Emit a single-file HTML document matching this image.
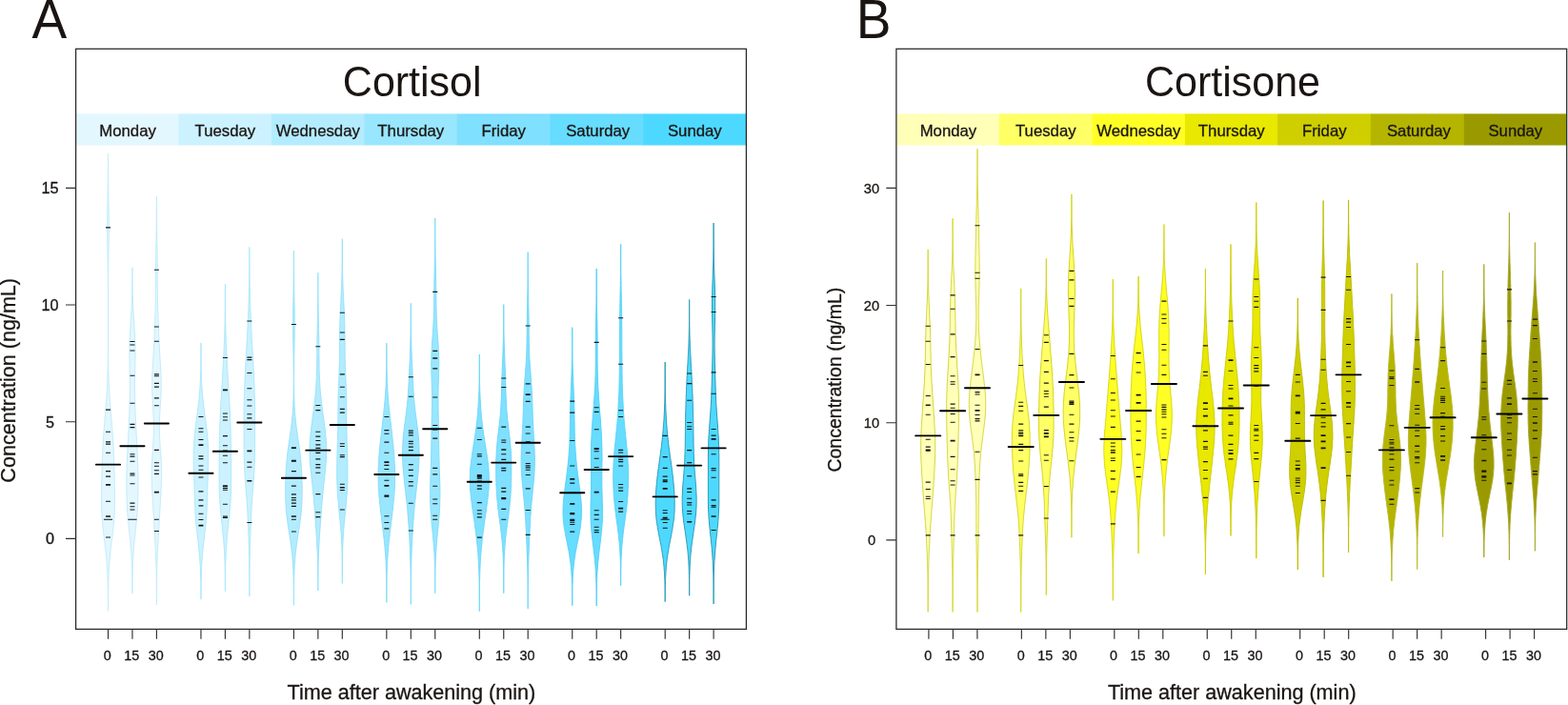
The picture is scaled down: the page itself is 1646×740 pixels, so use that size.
<!DOCTYPE html>
<html lang="en"><head><meta charset="utf-8"><title>Cortisol and cortisone beanplots</title>
<style>
html,body{margin:0;padding:0;background:#fff;}
body{width:1646px;height:740px;overflow:hidden;font-family:"Liberation Sans",sans-serif;}
svg{display:block;}
text.s{stroke:#1a1513;stroke-width:0.3px;}
</style></head><body>
<svg width="1646" height="740" viewBox="0 0 1646 740" font-family='"Liberation Sans", sans-serif' fill="#1a1513">
<rect x="80.2" y="119.4" width="107.4" height="33.1" fill="#E3F7FF"/>
<rect x="187.3" y="119.4" width="97.8" height="33.1" fill="#CCF2FF"/>
<rect x="284.8" y="119.4" width="97.7" height="33.1" fill="#B3ECFF"/>
<rect x="382.2" y="119.4" width="97.8" height="33.1" fill="#99E6FF"/>
<rect x="479.7" y="119.4" width="97.7" height="33.1" fill="#80E0FF"/>
<rect x="577.1" y="119.4" width="98.3" height="33.1" fill="#66DCFF"/>
<rect x="675.1" y="119.4" width="107.9" height="33.1" fill="#4DD9FF"/>
<polygon points="113.5,161.5 113.5,163.5 113.5,165.5 113.5,167.5 113.5,169.5 113.5,171.5 113.5,173.5 113.5,175.5 113.4,177.5 113.4,179.5 113.4,181.5 113.4,183.5 113.4,185.5 113.4,187.5 113.4,189.5 113.3,191.5 113.3,193.5 113.3,195.5 113.2,197.5 113.2,199.5 113.2,201.5 113.1,203.5 113.1,205.5 113.1,207.5 113.0,209.5 113.0,211.5 112.9,213.5 112.9,215.5 112.8,217.5 112.8,219.5 112.8,221.5 112.7,223.5 112.7,225.5 112.7,227.5 112.6,229.5 112.6,231.5 112.6,233.5 112.6,235.5 112.6,237.5 112.6,239.5 112.6,241.5 112.6,243.5 112.6,245.5 112.6,247.5 112.6,249.5 112.7,251.5 112.7,253.5 112.7,255.5 112.8,257.5 112.8,259.5 112.9,261.5 112.9,263.5 113.0,265.5 113.0,267.5 113.0,269.5 113.1,271.5 113.1,273.5 113.2,275.5 113.2,277.5 113.2,279.5 113.3,281.5 113.3,283.5 113.3,285.5 113.3,287.5 113.4,289.5 113.4,291.5 113.4,293.5 113.4,295.5 113.4,297.5 113.4,299.5 113.5,301.4 113.5,303.4 113.5,305.4 113.5,307.4 113.5,309.4 113.5,311.4 113.5,313.4 113.5,315.4 113.5,317.4 113.5,319.4 113.5,321.4 113.5,323.4 113.5,325.4 113.5,327.4 113.5,329.4 113.5,331.4 113.5,333.4 113.5,335.4 113.5,337.4 113.5,339.4 113.5,341.4 113.5,343.4 113.5,345.4 113.5,347.4 113.5,349.4 113.5,351.4 113.5,353.4 113.5,355.4 113.5,357.4 113.5,359.4 113.5,361.4 113.5,363.4 113.5,365.4 113.4,367.4 113.4,369.4 113.4,371.4 113.4,373.4 113.4,375.4 113.4,377.4 113.3,379.4 113.3,381.4 113.3,383.4 113.2,385.4 113.2,387.4 113.2,389.4 113.1,391.4 113.1,393.4 113.0,395.4 112.9,397.4 112.8,399.4 112.8,401.4 112.7,403.4 112.6,405.4 112.5,407.4 112.4,409.4 112.3,411.4 112.1,413.4 112.0,415.4 111.9,417.4 111.7,419.4 111.6,421.4 111.4,423.4 111.3,425.4 111.1,427.4 111.0,429.4 110.8,431.4 110.6,433.4 110.5,435.4 110.3,437.4 110.1,439.4 109.9,441.4 109.8,443.4 109.6,445.4 109.4,447.4 109.3,449.4 109.1,451.4 109.0,453.4 108.8,455.4 108.7,457.4 108.5,459.4 108.4,461.4 108.3,463.4 108.2,465.4 108.0,467.4 107.9,469.4 107.8,471.4 107.7,473.4 107.7,475.4 107.6,477.4 107.5,479.4 107.4,481.4 107.4,483.4 107.3,485.4 107.2,487.4 107.2,489.4 107.1,491.4 107.0,493.4 107.0,495.4 106.9,497.4 106.9,499.4 106.8,501.4 106.8,503.4 106.7,505.4 106.7,507.4 106.7,509.4 106.6,511.4 106.6,513.4 106.6,515.4 106.5,517.4 106.5,519.4 106.5,521.4 106.5,523.4 106.5,525.4 106.5,527.4 106.6,529.4 106.6,531.4 106.7,533.4 106.7,535.4 106.8,537.4 106.9,539.4 107.0,541.4 107.2,543.4 107.3,545.4 107.5,547.4 107.6,549.4 107.8,551.4 108.0,553.4 108.2,555.4 108.5,557.4 108.7,559.4 108.9,561.4 109.2,563.4 109.4,565.4 109.7,567.4 109.9,569.4 110.2,571.4 110.4,573.4 110.7,575.4 110.9,577.4 111.1,579.4 111.3,581.4 111.5,583.4 111.7,585.4 111.9,587.4 112.1,589.4 112.2,591.4 112.4,593.4 112.5,595.4 112.6,597.4 112.8,599.3 112.9,601.3 112.9,603.3 113.0,605.3 113.1,607.3 113.1,609.3 113.2,611.3 113.2,613.3 113.3,615.3 113.3,617.3 113.4,619.3 113.4,621.3 113.4,623.3 113.4,625.3 113.4,627.3 113.4,629.3 113.5,631.3 113.5,633.3 113.5,635.3 113.5,637.3 113.5,639.3 113.5,641.3 113.5,641.3 113.5,639.3 113.5,637.3 113.5,635.3 113.5,633.3 113.5,631.3 113.6,629.3 113.6,627.3 113.6,625.3 113.6,623.3 113.6,621.3 113.6,619.3 113.7,617.3 113.7,615.3 113.8,613.3 113.8,611.3 113.9,609.3 113.9,607.3 114.0,605.3 114.1,603.3 114.1,601.3 114.2,599.3 114.4,597.4 114.5,595.4 114.6,593.4 114.8,591.4 114.9,589.4 115.1,587.4 115.3,585.4 115.5,583.4 115.7,581.4 115.9,579.4 116.1,577.4 116.3,575.4 116.6,573.4 116.8,571.4 117.1,569.4 117.3,567.4 117.6,565.4 117.8,563.4 118.1,561.4 118.3,559.4 118.5,557.4 118.8,555.4 119.0,553.4 119.2,551.4 119.4,549.4 119.5,547.4 119.7,545.4 119.8,543.4 120.0,541.4 120.1,539.4 120.2,537.4 120.3,535.4 120.3,533.4 120.4,531.4 120.4,529.4 120.5,527.4 120.5,525.4 120.5,523.4 120.5,521.4 120.5,519.4 120.5,517.4 120.4,515.4 120.4,513.4 120.4,511.4 120.3,509.4 120.3,507.4 120.3,505.4 120.2,503.4 120.2,501.4 120.1,499.4 120.1,497.4 120.0,495.4 120.0,493.4 119.9,491.4 119.8,489.4 119.8,487.4 119.7,485.4 119.6,483.4 119.6,481.4 119.5,479.4 119.4,477.4 119.3,475.4 119.3,473.4 119.2,471.4 119.1,469.4 119.0,467.4 118.8,465.4 118.7,463.4 118.6,461.4 118.5,459.4 118.3,457.4 118.2,455.4 118.0,453.4 117.9,451.4 117.7,449.4 117.6,447.4 117.4,445.4 117.2,443.4 117.1,441.4 116.9,439.4 116.7,437.4 116.5,435.4 116.4,433.4 116.2,431.4 116.0,429.4 115.9,427.4 115.7,425.4 115.6,423.4 115.4,421.4 115.3,419.4 115.1,417.4 115.0,415.4 114.9,413.4 114.7,411.4 114.6,409.4 114.5,407.4 114.4,405.4 114.3,403.4 114.2,401.4 114.2,399.4 114.1,397.4 114.0,395.4 113.9,393.4 113.9,391.4 113.8,389.4 113.8,387.4 113.8,385.4 113.7,383.4 113.7,381.4 113.7,379.4 113.6,377.4 113.6,375.4 113.6,373.4 113.6,371.4 113.6,369.4 113.6,367.4 113.5,365.4 113.5,363.4 113.5,361.4 113.5,359.4 113.5,357.4 113.5,355.4 113.5,353.4 113.5,351.4 113.5,349.4 113.5,347.4 113.5,345.4 113.5,343.4 113.5,341.4 113.5,339.4 113.5,337.4 113.5,335.4 113.5,333.4 113.5,331.4 113.5,329.4 113.5,327.4 113.5,325.4 113.5,323.4 113.5,321.4 113.5,319.4 113.5,317.4 113.5,315.4 113.5,313.4 113.5,311.4 113.5,309.4 113.5,307.4 113.5,305.4 113.5,303.4 113.5,301.4 113.6,299.5 113.6,297.5 113.6,295.5 113.6,293.5 113.6,291.5 113.6,289.5 113.7,287.5 113.7,285.5 113.7,283.5 113.7,281.5 113.8,279.5 113.8,277.5 113.8,275.5 113.9,273.5 113.9,271.5 114.0,269.5 114.0,267.5 114.0,265.5 114.1,263.5 114.1,261.5 114.2,259.5 114.2,257.5 114.3,255.5 114.3,253.5 114.3,251.5 114.4,249.5 114.4,247.5 114.4,245.5 114.4,243.5 114.4,241.5 114.4,239.5 114.4,237.5 114.4,235.5 114.4,233.5 114.4,231.5 114.4,229.5 114.3,227.5 114.3,225.5 114.3,223.5 114.2,221.5 114.2,219.5 114.2,217.5 114.1,215.5 114.1,213.5 114.0,211.5 114.0,209.5 113.9,207.5 113.9,205.5 113.9,203.5 113.8,201.5 113.8,199.5 113.8,197.5 113.7,195.5 113.7,193.5 113.7,191.5 113.6,189.5 113.6,187.5 113.6,185.5 113.6,183.5 113.6,181.5 113.6,179.5 113.6,177.5 113.5,175.5 113.5,173.5 113.5,171.5 113.5,169.5 113.5,167.5 113.5,165.5 113.5,163.5 113.5,161.5" fill="#E3F7FF" stroke="#BFECFC" stroke-width="1" stroke-linejoin="round"/>
<polygon points="138.9,281.1 138.9,283.1 138.9,285.1 138.9,287.1 138.9,289.1 138.9,291.1 138.9,293.1 138.9,295.1 138.8,297.0 138.8,299.0 138.8,301.0 138.8,303.0 138.7,305.0 138.7,307.0 138.7,309.0 138.6,311.0 138.5,313.0 138.5,315.0 138.4,317.0 138.3,319.0 138.3,321.0 138.2,323.0 138.1,325.0 138.0,327.0 137.9,329.0 137.7,331.0 137.6,333.0 137.5,335.0 137.4,337.0 137.2,339.0 137.1,341.0 137.0,343.0 136.9,345.0 136.7,347.0 136.6,349.0 136.5,351.0 136.4,353.0 136.3,355.0 136.2,357.0 136.2,359.0 136.1,361.0 136.0,363.0 136.0,365.0 136.0,367.0 135.9,369.0 135.9,371.0 135.9,372.9 135.9,374.9 136.0,376.9 136.0,378.9 136.0,380.9 136.1,382.9 136.1,384.9 136.1,386.9 136.2,388.9 136.2,390.9 136.3,392.9 136.3,394.9 136.3,396.9 136.3,398.9 136.4,400.9 136.4,402.9 136.4,404.9 136.4,406.9 136.4,408.9 136.4,410.9 136.4,412.9 136.3,414.9 136.3,416.9 136.3,418.9 136.2,420.9 136.2,422.9 136.1,424.9 136.1,426.9 136.0,428.9 135.9,430.9 135.9,432.9 135.8,434.9 135.7,436.9 135.6,438.9 135.5,440.9 135.4,442.9 135.3,444.9 135.2,446.8 135.1,448.8 135.0,450.8 134.9,452.8 134.8,454.8 134.7,456.8 134.6,458.8 134.5,460.8 134.4,462.8 134.3,464.8 134.2,466.8 134.1,468.8 134.0,470.8 133.9,472.8 133.8,474.8 133.7,476.8 133.6,478.8 133.5,480.8 133.4,482.8 133.3,484.8 133.2,486.8 133.2,488.8 133.1,490.8 133.1,492.8 133.0,494.8 133.0,496.8 132.9,498.8 132.9,500.8 132.9,502.8 132.9,504.8 132.9,506.8 132.9,508.8 132.9,510.8 132.9,512.8 132.9,514.8 132.9,516.8 133.0,518.8 133.0,520.8 133.1,522.7 133.1,524.7 133.2,526.7 133.3,528.7 133.4,530.7 133.5,532.7 133.6,534.7 133.7,536.7 133.9,538.7 134.0,540.7 134.2,542.7 134.4,544.7 134.6,546.7 134.8,548.7 135.0,550.7 135.2,552.7 135.4,554.7 135.6,556.7 135.8,558.7 136.0,560.7 136.3,562.7 136.5,564.7 136.7,566.7 136.9,568.7 137.1,570.7 137.2,572.7 137.4,574.7 137.6,576.7 137.7,578.7 137.9,580.7 138.0,582.7 138.1,584.7 138.2,586.7 138.3,588.7 138.4,590.7 138.5,592.7 138.6,594.7 138.6,596.7 138.7,598.6 138.7,600.6 138.8,602.6 138.8,604.6 138.8,606.6 138.8,608.6 138.9,610.6 138.9,612.6 138.9,614.6 138.9,616.6 138.9,618.6 138.9,620.6 138.9,622.6 139.0,622.6 139.0,620.6 139.0,618.6 139.0,616.6 139.0,614.6 139.0,612.6 139.0,610.6 139.1,608.6 139.1,606.6 139.1,604.6 139.1,602.6 139.2,600.6 139.2,598.6 139.3,596.7 139.3,594.7 139.4,592.7 139.5,590.7 139.6,588.7 139.7,586.7 139.8,584.7 139.9,582.7 140.0,580.7 140.2,578.7 140.3,576.7 140.5,574.7 140.7,572.7 140.8,570.7 141.0,568.7 141.2,566.7 141.4,564.7 141.6,562.7 141.9,560.7 142.1,558.7 142.3,556.7 142.5,554.7 142.7,552.7 142.9,550.7 143.1,548.7 143.3,546.7 143.5,544.7 143.7,542.7 143.9,540.7 144.0,538.7 144.2,536.7 144.3,534.7 144.4,532.7 144.5,530.7 144.6,528.7 144.7,526.7 144.8,524.7 144.8,522.7 144.9,520.8 144.9,518.8 145.0,516.8 145.0,514.8 145.0,512.8 145.0,510.8 145.0,508.8 145.0,506.8 145.0,504.8 145.0,502.8 145.0,500.8 145.0,498.8 144.9,496.8 144.9,494.8 144.8,492.8 144.8,490.8 144.7,488.8 144.7,486.8 144.6,484.8 144.5,482.8 144.4,480.8 144.3,478.8 144.2,476.8 144.1,474.8 144.0,472.8 143.9,470.8 143.8,468.8 143.7,466.8 143.6,464.8 143.5,462.8 143.4,460.8 143.3,458.8 143.2,456.8 143.1,454.8 143.0,452.8 142.9,450.8 142.8,448.8 142.7,446.8 142.6,444.9 142.5,442.9 142.4,440.9 142.3,438.9 142.2,436.9 142.1,434.9 142.0,432.9 142.0,430.9 141.9,428.9 141.8,426.9 141.8,424.9 141.7,422.9 141.7,420.9 141.6,418.9 141.6,416.9 141.6,414.9 141.5,412.9 141.5,410.9 141.5,408.9 141.5,406.9 141.5,404.9 141.5,402.9 141.5,400.9 141.6,398.9 141.6,396.9 141.6,394.9 141.6,392.9 141.7,390.9 141.7,388.9 141.8,386.9 141.8,384.9 141.8,382.9 141.9,380.9 141.9,378.9 141.9,376.9 142.0,374.9 142.0,372.9 142.0,371.0 142.0,369.0 141.9,367.0 141.9,365.0 141.9,363.0 141.8,361.0 141.7,359.0 141.7,357.0 141.6,355.0 141.5,353.0 141.4,351.0 141.3,349.0 141.2,347.0 141.0,345.0 140.9,343.0 140.8,341.0 140.7,339.0 140.5,337.0 140.4,335.0 140.3,333.0 140.2,331.0 140.0,329.0 139.9,327.0 139.8,325.0 139.7,323.0 139.6,321.0 139.6,319.0 139.5,317.0 139.4,315.0 139.4,313.0 139.3,311.0 139.2,309.0 139.2,307.0 139.2,305.0 139.1,303.0 139.1,301.0 139.1,299.0 139.1,297.0 139.0,295.1 139.0,293.1 139.0,291.1 139.0,289.1 139.0,287.1 139.0,285.1 139.0,283.1 139.0,281.1" fill="#E3F7FF" stroke="#BFECFC" stroke-width="1" stroke-linejoin="round"/>
<polygon points="164.4,205.9 164.4,207.9 164.4,209.9 164.4,211.9 164.4,213.9 164.4,215.9 164.4,217.9 164.4,219.9 164.4,221.9 164.3,223.9 164.3,225.9 164.3,227.9 164.3,229.9 164.3,231.9 164.3,233.9 164.2,235.9 164.2,237.9 164.2,239.9 164.2,242.0 164.1,244.0 164.1,246.0 164.1,248.0 164.0,250.0 164.0,252.0 164.0,254.0 163.9,256.0 163.9,258.0 163.8,260.0 163.8,262.0 163.8,264.0 163.7,266.0 163.7,268.0 163.7,270.0 163.6,272.0 163.6,274.0 163.6,276.0 163.5,278.0 163.5,280.0 163.5,282.0 163.5,284.1 163.5,286.1 163.5,288.1 163.5,290.1 163.5,292.1 163.5,294.1 163.5,296.1 163.5,298.1 163.5,300.1 163.4,302.1 163.4,304.1 163.4,306.1 163.4,308.1 163.4,310.1 163.4,312.1 163.3,314.1 163.3,316.1 163.3,318.1 163.2,320.1 163.2,322.1 163.1,324.1 163.1,326.1 163.0,328.2 162.9,330.2 162.9,332.2 162.8,334.2 162.7,336.2 162.7,338.2 162.6,340.2 162.5,342.2 162.4,344.2 162.3,346.2 162.2,348.2 162.2,350.2 162.1,352.2 162.0,354.2 161.9,356.2 161.8,358.2 161.7,360.2 161.6,362.2 161.5,364.2 161.4,366.2 161.3,368.2 161.2,370.3 161.0,372.3 160.9,374.3 160.8,376.3 160.7,378.3 160.5,380.3 160.4,382.3 160.3,384.3 160.2,386.3 160.1,388.3 160.0,390.3 159.9,392.3 159.8,394.3 159.8,396.3 159.7,398.3 159.7,400.3 159.7,402.3 159.7,404.3 159.7,406.3 159.7,408.3 159.7,410.3 159.8,412.3 159.9,414.4 160.0,416.4 160.1,418.4 160.2,420.4 160.3,422.4 160.4,424.4 160.5,426.4 160.7,428.4 160.8,430.4 160.9,432.4 161.0,434.4 161.1,436.4 161.2,438.4 161.3,440.4 161.3,442.4 161.4,444.4 161.4,446.4 161.4,448.4 161.4,450.4 161.4,452.4 161.4,454.4 161.3,456.5 161.2,458.5 161.1,460.5 161.0,462.5 160.9,464.5 160.8,466.5 160.6,468.5 160.5,470.5 160.3,472.5 160.2,474.5 160.1,476.5 159.9,478.5 159.8,480.5 159.7,482.5 159.6,484.5 159.5,486.5 159.4,488.5 159.3,490.5 159.3,492.5 159.2,494.5 159.2,496.5 159.2,498.5 159.2,500.6 159.2,502.6 159.3,504.6 159.4,506.6 159.4,508.6 159.5,510.6 159.6,512.6 159.7,514.6 159.8,516.6 159.9,518.6 160.0,520.6 160.2,522.6 160.3,524.6 160.4,526.6 160.5,528.6 160.6,530.6 160.8,532.6 160.9,534.6 161.0,536.6 161.1,538.6 161.3,540.6 161.4,542.7 161.5,544.7 161.6,546.7 161.7,548.7 161.8,550.7 161.9,552.7 162.1,554.7 162.2,556.7 162.3,558.7 162.4,560.7 162.5,562.7 162.6,564.7 162.7,566.7 162.8,568.7 162.9,570.7 163.1,572.7 163.2,574.7 163.3,576.7 163.4,578.7 163.4,580.7 163.5,582.7 163.6,584.7 163.7,586.8 163.8,588.8 163.8,590.8 163.9,592.8 164.0,594.8 164.0,596.8 164.1,598.8 164.1,600.8 164.1,602.8 164.2,604.8 164.2,606.8 164.2,608.8 164.3,610.8 164.3,612.8 164.3,614.8 164.3,616.8 164.3,618.8 164.3,620.8 164.4,622.8 164.4,624.8 164.4,626.8 164.4,628.9 164.4,630.9 164.4,632.9 164.4,634.9 164.4,634.9 164.4,632.9 164.4,630.9 164.4,628.9 164.4,626.8 164.4,624.8 164.4,622.8 164.5,620.8 164.5,618.8 164.5,616.8 164.5,614.8 164.5,612.8 164.5,610.8 164.6,608.8 164.6,606.8 164.6,604.8 164.7,602.8 164.7,600.8 164.7,598.8 164.8,596.8 164.8,594.8 164.9,592.8 165.0,590.8 165.0,588.8 165.1,586.8 165.2,584.7 165.3,582.7 165.4,580.7 165.4,578.7 165.5,576.7 165.6,574.7 165.7,572.7 165.9,570.7 166.0,568.7 166.1,566.7 166.2,564.7 166.3,562.7 166.4,560.7 166.5,558.7 166.6,556.7 166.7,554.7 166.9,552.7 167.0,550.7 167.1,548.7 167.2,546.7 167.3,544.7 167.4,542.7 167.5,540.6 167.7,538.6 167.8,536.6 167.9,534.6 168.0,532.6 168.2,530.6 168.3,528.6 168.4,526.6 168.5,524.6 168.6,522.6 168.8,520.6 168.9,518.6 169.0,516.6 169.1,514.6 169.2,512.6 169.3,510.6 169.4,508.6 169.4,506.6 169.5,504.6 169.6,502.6 169.6,500.6 169.6,498.5 169.6,496.5 169.6,494.5 169.5,492.5 169.5,490.5 169.4,488.5 169.3,486.5 169.2,484.5 169.1,482.5 169.0,480.5 168.9,478.5 168.7,476.5 168.6,474.5 168.5,472.5 168.3,470.5 168.2,468.5 168.0,466.5 167.9,464.5 167.8,462.5 167.7,460.5 167.6,458.5 167.5,456.5 167.4,454.4 167.4,452.4 167.4,450.4 167.4,448.4 167.4,446.4 167.4,444.4 167.5,442.4 167.5,440.4 167.6,438.4 167.7,436.4 167.8,434.4 167.9,432.4 168.0,430.4 168.1,428.4 168.3,426.4 168.4,424.4 168.5,422.4 168.6,420.4 168.7,418.4 168.8,416.4 168.9,414.4 169.0,412.3 169.1,410.3 169.1,408.3 169.1,406.3 169.1,404.3 169.1,402.3 169.1,400.3 169.1,398.3 169.0,396.3 169.0,394.3 168.9,392.3 168.8,390.3 168.7,388.3 168.6,386.3 168.5,384.3 168.4,382.3 168.3,380.3 168.1,378.3 168.0,376.3 167.9,374.3 167.8,372.3 167.6,370.3 167.5,368.2 167.4,366.2 167.3,364.2 167.2,362.2 167.1,360.2 167.0,358.2 166.9,356.2 166.8,354.2 166.7,352.2 166.6,350.2 166.6,348.2 166.5,346.2 166.4,344.2 166.3,342.2 166.2,340.2 166.1,338.2 166.1,336.2 166.0,334.2 165.9,332.2 165.9,330.2 165.8,328.2 165.7,326.1 165.7,324.1 165.6,322.1 165.6,320.1 165.5,318.1 165.5,316.1 165.5,314.1 165.4,312.1 165.4,310.1 165.4,308.1 165.4,306.1 165.4,304.1 165.4,302.1 165.3,300.1 165.3,298.1 165.3,296.1 165.3,294.1 165.3,292.1 165.3,290.1 165.3,288.1 165.3,286.1 165.3,284.1 165.3,282.0 165.3,280.0 165.3,278.0 165.2,276.0 165.2,274.0 165.2,272.0 165.1,270.0 165.1,268.0 165.1,266.0 165.0,264.0 165.0,262.0 165.0,260.0 164.9,258.0 164.9,256.0 164.8,254.0 164.8,252.0 164.8,250.0 164.7,248.0 164.7,246.0 164.7,244.0 164.6,242.0 164.6,239.9 164.6,237.9 164.6,235.9 164.5,233.9 164.5,231.9 164.5,229.9 164.5,227.9 164.5,225.9 164.5,223.9 164.4,221.9 164.4,219.9 164.4,217.9 164.4,215.9 164.4,213.9 164.4,211.9 164.4,209.9 164.4,207.9 164.4,205.9" fill="#E3F7FF" stroke="#BFECFC" stroke-width="1" stroke-linejoin="round"/>
<polygon points="210.9,360.1 210.9,362.1 210.9,364.1 210.9,366.1 210.9,368.1 210.9,370.1 210.9,372.2 210.9,374.2 210.9,376.2 210.9,378.2 210.8,380.2 210.8,382.2 210.8,384.2 210.7,386.2 210.7,388.2 210.7,390.2 210.6,392.2 210.5,394.2 210.5,396.2 210.4,398.2 210.3,400.3 210.2,402.3 210.1,404.3 210.0,406.3 209.8,408.3 209.7,410.3 209.5,412.3 209.4,414.3 209.2,416.3 209.0,418.3 208.8,420.3 208.6,422.3 208.3,424.3 208.1,426.3 207.8,428.4 207.6,430.4 207.3,432.4 207.1,434.4 206.8,436.4 206.5,438.4 206.2,440.4 206.0,442.4 205.7,444.4 205.5,446.4 205.2,448.4 205.0,450.4 204.7,452.4 204.5,454.5 204.3,456.5 204.1,458.5 204.0,460.5 203.8,462.5 203.7,464.5 203.6,466.5 203.5,468.5 203.4,470.5 203.3,472.5 203.3,474.5 203.2,476.5 203.2,478.5 203.2,480.5 203.3,482.6 203.3,484.6 203.3,486.6 203.4,488.6 203.4,490.6 203.5,492.6 203.5,494.6 203.6,496.6 203.7,498.6 203.7,500.6 203.8,502.6 203.9,504.6 203.9,506.6 204.0,508.6 204.1,510.7 204.1,512.7 204.2,514.7 204.2,516.7 204.3,518.7 204.3,520.7 204.4,522.7 204.4,524.7 204.5,526.7 204.6,528.7 204.6,530.7 204.7,532.7 204.8,534.7 204.9,536.8 205.0,538.8 205.2,540.8 205.3,542.8 205.5,544.8 205.6,546.8 205.8,548.8 206.0,550.8 206.2,552.8 206.4,554.8 206.6,556.8 206.9,558.8 207.1,560.8 207.3,562.8 207.6,564.9 207.8,566.9 208.0,568.9 208.3,570.9 208.5,572.9 208.7,574.9 208.9,576.9 209.1,578.9 209.3,580.9 209.5,582.9 209.6,584.9 209.8,586.9 209.9,588.9 210.0,590.9 210.2,593.0 210.3,595.0 210.4,597.0 210.4,599.0 210.5,601.0 210.6,603.0 210.6,605.0 210.7,607.0 210.7,609.0 210.8,611.0 210.8,613.0 210.8,615.0 210.9,617.0 210.9,619.1 210.9,621.1 210.9,623.1 210.9,625.1 210.9,627.1 210.9,629.1 211.0,629.1 211.0,627.1 211.0,625.1 211.0,623.1 211.0,621.1 211.0,619.1 211.0,617.0 211.1,615.0 211.1,613.0 211.1,611.0 211.2,609.0 211.2,607.0 211.3,605.0 211.3,603.0 211.4,601.0 211.5,599.0 211.5,597.0 211.6,595.0 211.7,593.0 211.9,590.9 212.0,588.9 212.1,586.9 212.3,584.9 212.4,582.9 212.6,580.9 212.8,578.9 213.0,576.9 213.2,574.9 213.4,572.9 213.6,570.9 213.9,568.9 214.1,566.9 214.3,564.9 214.6,562.8 214.8,560.8 215.0,558.8 215.3,556.8 215.5,554.8 215.7,552.8 215.9,550.8 216.1,548.8 216.3,546.8 216.4,544.8 216.6,542.8 216.7,540.8 216.9,538.8 217.0,536.8 217.1,534.7 217.2,532.7 217.3,530.7 217.3,528.7 217.4,526.7 217.5,524.7 217.5,522.7 217.6,520.7 217.6,518.7 217.7,516.7 217.7,514.7 217.8,512.7 217.8,510.7 217.9,508.6 218.0,506.6 218.0,504.6 218.1,502.6 218.2,500.6 218.2,498.6 218.3,496.6 218.4,494.6 218.4,492.6 218.5,490.6 218.5,488.6 218.6,486.6 218.6,484.6 218.6,482.6 218.7,480.5 218.7,478.5 218.7,476.5 218.6,474.5 218.6,472.5 218.5,470.5 218.4,468.5 218.3,466.5 218.2,464.5 218.1,462.5 217.9,460.5 217.8,458.5 217.6,456.5 217.4,454.5 217.2,452.4 216.9,450.4 216.7,448.4 216.4,446.4 216.2,444.4 215.9,442.4 215.7,440.4 215.4,438.4 215.1,436.4 214.8,434.4 214.6,432.4 214.3,430.4 214.1,428.4 213.8,426.3 213.6,424.3 213.3,422.3 213.1,420.3 212.9,418.3 212.7,416.3 212.5,414.3 212.4,412.3 212.2,410.3 212.1,408.3 211.9,406.3 211.8,404.3 211.7,402.3 211.6,400.3 211.5,398.2 211.4,396.2 211.4,394.2 211.3,392.2 211.2,390.2 211.2,388.2 211.2,386.2 211.1,384.2 211.1,382.2 211.1,380.2 211.0,378.2 211.0,376.2 211.0,374.2 211.0,372.2 211.0,370.1 211.0,368.1 211.0,366.1 211.0,364.1 211.0,362.1 211.0,360.1" fill="#CCF2FF" stroke="#ACE8FC" stroke-width="1" stroke-linejoin="round"/>
<polygon points="236.4,298.2 236.4,300.2 236.4,302.2 236.4,304.2 236.4,306.2 236.4,308.2 236.4,310.2 236.4,312.2 236.3,314.2 236.3,316.2 236.3,318.2 236.3,320.2 236.3,322.2 236.3,324.2 236.3,326.2 236.2,328.2 236.2,330.2 236.2,332.2 236.1,334.2 236.1,336.2 236.1,338.2 236.0,340.2 236.0,342.3 235.9,344.3 235.9,346.3 235.8,348.3 235.8,350.3 235.7,352.3 235.6,354.3 235.6,356.3 235.5,358.3 235.4,360.3 235.3,362.3 235.2,364.3 235.2,366.3 235.1,368.3 235.0,370.3 234.9,372.3 234.8,374.3 234.7,376.3 234.6,378.3 234.5,380.3 234.4,382.3 234.3,384.3 234.1,386.3 234.0,388.3 233.9,390.3 233.8,392.3 233.7,394.3 233.6,396.4 233.4,398.4 233.3,400.4 233.2,402.4 233.1,404.4 232.9,406.4 232.8,408.4 232.7,410.4 232.6,412.4 232.4,414.4 232.3,416.4 232.2,418.4 232.1,420.4 231.9,422.4 231.8,424.4 231.7,426.4 231.6,428.4 231.5,430.4 231.4,432.4 231.3,434.4 231.2,436.4 231.1,438.4 231.1,440.4 231.0,442.4 230.9,444.4 230.8,446.4 230.8,448.4 230.7,450.5 230.7,452.5 230.6,454.5 230.6,456.5 230.5,458.5 230.5,460.5 230.4,462.5 230.4,464.5 230.4,466.5 230.3,468.5 230.3,470.5 230.3,472.5 230.3,474.5 230.2,476.5 230.2,478.5 230.2,480.5 230.2,482.5 230.1,484.5 230.1,486.5 230.1,488.5 230.1,490.5 230.1,492.5 230.1,494.5 230.1,496.5 230.1,498.5 230.0,500.5 230.1,502.5 230.1,504.6 230.1,506.6 230.1,508.6 230.1,510.6 230.2,512.6 230.3,514.6 230.3,516.6 230.4,518.6 230.5,520.6 230.6,522.6 230.7,524.6 230.8,526.6 231.0,528.6 231.1,530.6 231.3,532.6 231.5,534.6 231.7,536.6 231.8,538.6 232.0,540.6 232.3,542.6 232.5,544.6 232.7,546.6 232.9,548.6 233.1,550.6 233.3,552.6 233.5,554.6 233.7,556.6 233.9,558.7 234.1,560.7 234.3,562.7 234.5,564.7 234.7,566.7 234.8,568.7 235.0,570.7 235.1,572.7 235.3,574.7 235.4,576.7 235.5,578.7 235.6,580.7 235.7,582.7 235.8,584.7 235.9,586.7 236.0,588.7 236.0,590.7 236.1,592.7 236.1,594.7 236.2,596.7 236.2,598.7 236.2,600.7 236.3,602.7 236.3,604.7 236.3,606.7 236.3,608.7 236.3,610.7 236.4,612.8 236.4,614.8 236.4,616.8 236.4,618.8 236.4,620.8 236.4,620.8 236.4,618.8 236.4,616.8 236.4,614.8 236.4,612.8 236.5,610.7 236.5,608.7 236.5,606.7 236.5,604.7 236.5,602.7 236.6,600.7 236.6,598.7 236.6,596.7 236.7,594.7 236.7,592.7 236.8,590.7 236.8,588.7 236.9,586.7 237.0,584.7 237.1,582.7 237.2,580.7 237.3,578.7 237.4,576.7 237.5,574.7 237.7,572.7 237.8,570.7 238.0,568.7 238.1,566.7 238.3,564.7 238.5,562.7 238.7,560.7 238.9,558.7 239.1,556.6 239.3,554.6 239.5,552.6 239.7,550.6 239.9,548.6 240.1,546.6 240.3,544.6 240.5,542.6 240.8,540.6 241.0,538.6 241.1,536.6 241.3,534.6 241.5,532.6 241.7,530.6 241.8,528.6 242.0,526.6 242.1,524.6 242.2,522.6 242.3,520.6 242.4,518.6 242.5,516.6 242.5,514.6 242.6,512.6 242.7,510.6 242.7,508.6 242.7,506.6 242.7,504.6 242.7,502.5 242.7,500.5 242.7,498.5 242.7,496.5 242.7,494.5 242.7,492.5 242.7,490.5 242.7,488.5 242.7,486.5 242.7,484.5 242.6,482.5 242.6,480.5 242.6,478.5 242.6,476.5 242.5,474.5 242.5,472.5 242.5,470.5 242.5,468.5 242.4,466.5 242.4,464.5 242.4,462.5 242.3,460.5 242.3,458.5 242.2,456.5 242.2,454.5 242.1,452.5 242.1,450.5 242.0,448.4 242.0,446.4 241.9,444.4 241.8,442.4 241.7,440.4 241.7,438.4 241.6,436.4 241.5,434.4 241.4,432.4 241.3,430.4 241.2,428.4 241.1,426.4 241.0,424.4 240.9,422.4 240.7,420.4 240.6,418.4 240.5,416.4 240.4,414.4 240.2,412.4 240.1,410.4 240.0,408.4 239.9,406.4 239.7,404.4 239.6,402.4 239.5,400.4 239.4,398.4 239.2,396.4 239.1,394.3 239.0,392.3 238.9,390.3 238.8,388.3 238.7,386.3 238.5,384.3 238.4,382.3 238.3,380.3 238.2,378.3 238.1,376.3 238.0,374.3 237.9,372.3 237.8,370.3 237.7,368.3 237.6,366.3 237.6,364.3 237.5,362.3 237.4,360.3 237.3,358.3 237.2,356.3 237.2,354.3 237.1,352.3 237.0,350.3 237.0,348.3 236.9,346.3 236.9,344.3 236.8,342.3 236.8,340.2 236.7,338.2 236.7,336.2 236.7,334.2 236.6,332.2 236.6,330.2 236.6,328.2 236.5,326.2 236.5,324.2 236.5,322.2 236.5,320.2 236.5,318.2 236.5,316.2 236.5,314.2 236.4,312.2 236.4,310.2 236.4,308.2 236.4,306.2 236.4,304.2 236.4,302.2 236.4,300.2 236.4,298.2" fill="#CCF2FF" stroke="#ACE8FC" stroke-width="1" stroke-linejoin="round"/>
<polygon points="261.8,259.6 261.8,261.6 261.8,263.6 261.8,265.6 261.8,267.6 261.8,269.6 261.8,271.6 261.8,273.6 261.8,275.6 261.8,277.6 261.8,279.6 261.8,281.6 261.7,283.6 261.7,285.6 261.7,287.6 261.7,289.6 261.7,291.6 261.6,293.6 261.6,295.6 261.6,297.6 261.5,299.6 261.5,301.6 261.4,303.6 261.4,305.6 261.3,307.6 261.3,309.6 261.2,311.6 261.2,313.6 261.1,315.6 261.0,317.6 261.0,319.6 260.9,321.6 260.8,323.6 260.8,325.6 260.7,327.6 260.6,329.6 260.5,331.6 260.4,333.6 260.4,335.6 260.3,337.6 260.2,339.6 260.1,341.6 260.0,343.6 259.9,345.6 259.8,347.6 259.7,349.6 259.6,351.6 259.5,353.6 259.4,355.6 259.3,357.7 259.2,359.7 259.0,361.7 258.9,363.7 258.8,365.7 258.7,367.7 258.6,369.7 258.5,371.7 258.3,373.7 258.2,375.7 258.1,377.7 258.0,379.7 257.9,381.7 257.8,383.7 257.7,385.7 257.6,387.7 257.5,389.7 257.4,391.7 257.3,393.7 257.2,395.7 257.1,397.7 257.0,399.7 256.9,401.7 256.8,403.7 256.8,405.7 256.7,407.7 256.6,409.7 256.5,411.7 256.5,413.7 256.4,415.7 256.4,417.7 256.3,419.7 256.3,421.7 256.2,423.7 256.2,425.7 256.2,427.7 256.1,429.7 256.1,431.7 256.1,433.7 256.1,435.7 256.1,437.7 256.1,439.7 256.1,441.7 256.1,443.7 256.1,445.7 256.1,447.7 256.1,449.7 256.2,451.7 256.2,453.7 256.2,455.7 256.2,457.7 256.2,459.7 256.2,461.7 256.2,463.7 256.2,465.7 256.2,467.7 256.2,469.7 256.2,471.7 256.2,473.7 256.2,475.7 256.2,477.7 256.3,479.7 256.3,481.7 256.4,483.7 256.4,485.7 256.5,487.7 256.6,489.7 256.7,491.8 256.8,493.8 256.9,495.8 257.0,497.8 257.1,499.8 257.3,501.8 257.4,503.8 257.6,505.8 257.7,507.8 257.9,509.8 258.0,511.8 258.2,513.8 258.4,515.8 258.5,517.8 258.7,519.8 258.9,521.8 259.0,523.8 259.2,525.8 259.3,527.8 259.4,529.8 259.6,531.8 259.7,533.8 259.8,535.8 259.9,537.8 260.0,539.8 260.1,541.8 260.2,543.8 260.3,545.8 260.4,547.8 260.5,549.8 260.5,551.8 260.6,553.8 260.7,555.8 260.8,557.8 260.8,559.8 260.9,561.8 261.0,563.8 261.0,565.8 261.1,567.8 261.1,569.8 261.2,571.8 261.3,573.8 261.3,575.8 261.4,577.8 261.4,579.8 261.4,581.8 261.5,583.8 261.5,585.8 261.6,587.8 261.6,589.8 261.6,591.8 261.7,593.8 261.7,595.8 261.7,597.8 261.7,599.8 261.7,601.8 261.8,603.8 261.8,605.8 261.8,607.8 261.8,609.8 261.8,611.8 261.8,613.8 261.8,615.8 261.8,617.8 261.8,619.8 261.8,621.8 261.8,623.9 261.8,625.9 261.9,625.9 261.9,623.9 261.9,621.8 261.9,619.8 261.9,617.8 261.9,615.8 261.9,613.8 261.9,611.8 261.9,609.8 261.9,607.8 261.9,605.8 261.9,603.8 262.0,601.8 262.0,599.8 262.0,597.8 262.0,595.8 262.0,593.8 262.1,591.8 262.1,589.8 262.1,587.8 262.2,585.8 262.2,583.8 262.3,581.8 262.3,579.8 262.3,577.8 262.4,575.8 262.4,573.8 262.5,571.8 262.6,569.8 262.6,567.8 262.7,565.8 262.7,563.8 262.8,561.8 262.9,559.8 262.9,557.8 263.0,555.8 263.1,553.8 263.2,551.8 263.2,549.8 263.3,547.8 263.4,545.8 263.5,543.8 263.6,541.8 263.7,539.8 263.8,537.8 263.9,535.8 264.0,533.8 264.1,531.8 264.3,529.8 264.4,527.8 264.5,525.8 264.7,523.8 264.8,521.8 265.0,519.8 265.2,517.8 265.3,515.8 265.5,513.8 265.7,511.8 265.8,509.8 266.0,507.8 266.1,505.8 266.3,503.8 266.4,501.8 266.6,499.8 266.7,497.8 266.8,495.8 266.9,493.8 267.0,491.8 267.1,489.7 267.2,487.7 267.3,485.7 267.3,483.7 267.4,481.7 267.4,479.7 267.5,477.7 267.5,475.7 267.5,473.7 267.5,471.7 267.5,469.7 267.5,467.7 267.5,465.7 267.5,463.7 267.5,461.7 267.5,459.7 267.5,457.7 267.5,455.7 267.5,453.7 267.5,451.7 267.6,449.7 267.6,447.7 267.6,445.7 267.6,443.7 267.6,441.7 267.6,439.7 267.6,437.7 267.6,435.7 267.6,433.7 267.6,431.7 267.6,429.7 267.5,427.7 267.5,425.7 267.5,423.7 267.4,421.7 267.4,419.7 267.3,417.7 267.3,415.7 267.2,413.7 267.2,411.7 267.1,409.7 267.0,407.7 266.9,405.7 266.9,403.7 266.8,401.7 266.7,399.7 266.6,397.7 266.5,395.7 266.4,393.7 266.3,391.7 266.2,389.7 266.1,387.7 266.0,385.7 265.9,383.7 265.8,381.7 265.7,379.7 265.6,377.7 265.5,375.7 265.4,373.7 265.2,371.7 265.1,369.7 265.0,367.7 264.9,365.7 264.8,363.7 264.7,361.7 264.5,359.7 264.4,357.7 264.3,355.6 264.2,353.6 264.1,351.6 264.0,349.6 263.9,347.6 263.8,345.6 263.7,343.6 263.6,341.6 263.5,339.6 263.4,337.6 263.3,335.6 263.3,333.6 263.2,331.6 263.1,329.6 263.0,327.6 262.9,325.6 262.9,323.6 262.8,321.6 262.7,319.6 262.7,317.6 262.6,315.6 262.5,313.6 262.5,311.6 262.4,309.6 262.4,307.6 262.3,305.6 262.3,303.6 262.2,301.6 262.2,299.6 262.1,297.6 262.1,295.6 262.1,293.6 262.0,291.6 262.0,289.6 262.0,287.6 262.0,285.6 262.0,283.6 261.9,281.6 261.9,279.6 261.9,277.6 261.9,275.6 261.9,273.6 261.9,271.6 261.9,269.6 261.9,267.6 261.9,265.6 261.9,263.6 261.9,261.6 261.9,259.6" fill="#CCF2FF" stroke="#ACE8FC" stroke-width="1" stroke-linejoin="round"/>
<polygon points="308.4,263.0 308.4,265.0 308.4,267.0 308.4,269.0 308.4,271.0 308.4,273.1 308.4,275.1 308.4,277.1 308.4,279.1 308.3,281.1 308.3,283.1 308.3,285.1 308.3,287.1 308.3,289.1 308.3,291.1 308.2,293.1 308.2,295.1 308.2,297.1 308.2,299.1 308.1,301.1 308.1,303.1 308.1,305.1 308.0,307.1 308.0,309.1 308.0,311.1 307.9,313.1 307.9,315.1 307.9,317.1 307.8,319.1 307.8,321.1 307.7,323.1 307.7,325.1 307.7,327.1 307.6,329.1 307.6,331.1 307.6,333.1 307.6,335.1 307.6,337.1 307.6,339.1 307.6,341.1 307.6,343.1 307.6,345.1 307.6,347.1 307.6,349.1 307.6,351.1 307.7,353.1 307.7,355.1 307.7,357.1 307.8,359.1 307.8,361.1 307.8,363.1 307.9,365.1 307.9,367.1 308.0,369.1 308.0,371.1 308.0,373.1 308.1,375.1 308.1,377.1 308.1,379.1 308.2,381.1 308.2,383.1 308.2,385.1 308.2,387.1 308.2,389.1 308.3,391.1 308.3,393.1 308.3,395.1 308.3,397.1 308.3,399.1 308.3,401.1 308.3,403.2 308.3,405.2 308.2,407.2 308.2,409.2 308.2,411.2 308.2,413.2 308.1,415.2 308.1,417.2 308.0,419.2 307.9,421.2 307.8,423.2 307.8,425.2 307.6,427.2 307.5,429.2 307.4,431.2 307.3,433.2 307.1,435.2 306.9,437.2 306.7,439.2 306.5,441.2 306.3,443.2 306.1,445.2 305.8,447.2 305.6,449.2 305.3,451.2 305.0,453.2 304.7,455.2 304.4,457.2 304.2,459.2 303.9,461.2 303.6,463.2 303.3,465.2 303.0,467.2 302.7,469.2 302.4,471.2 302.2,473.2 301.9,475.2 301.7,477.2 301.5,479.2 301.3,481.2 301.1,483.2 300.9,485.2 300.7,487.2 300.6,489.2 300.5,491.2 300.3,493.2 300.2,495.2 300.1,497.2 300.0,499.2 300.0,501.2 299.9,503.2 299.8,505.2 299.8,507.2 299.7,509.2 299.7,511.2 299.7,513.2 299.7,515.2 299.7,517.2 299.7,519.2 299.7,521.2 299.7,523.2 299.8,525.2 299.9,527.2 300.0,529.2 300.1,531.2 300.2,533.2 300.4,535.3 300.6,537.3 300.8,539.3 301.0,541.3 301.2,543.3 301.5,545.3 301.8,547.3 302.0,549.3 302.3,551.3 302.6,553.3 302.9,555.3 303.3,557.3 303.6,559.3 303.9,561.3 304.2,563.3 304.5,565.3 304.8,567.3 305.1,569.3 305.4,571.3 305.6,573.3 305.9,575.3 306.1,577.3 306.4,579.3 306.6,581.3 306.8,583.3 307.0,585.3 307.1,587.3 307.3,589.3 307.4,591.3 307.6,593.3 307.7,595.3 307.8,597.3 307.9,599.3 307.9,601.3 308.0,603.3 308.1,605.3 308.1,607.3 308.2,609.3 308.2,611.3 308.2,613.3 308.3,615.3 308.3,617.3 308.3,619.3 308.3,621.3 308.3,623.3 308.4,625.3 308.4,627.3 308.4,629.3 308.4,631.3 308.4,633.3 308.4,635.3 308.4,635.3 308.4,633.3 308.4,631.3 308.4,629.3 308.4,627.3 308.4,625.3 308.5,623.3 308.5,621.3 308.5,619.3 308.5,617.3 308.5,615.3 308.6,613.3 308.6,611.3 308.6,609.3 308.7,607.3 308.7,605.3 308.8,603.3 308.9,601.3 308.9,599.3 309.0,597.3 309.1,595.3 309.2,593.3 309.4,591.3 309.5,589.3 309.7,587.3 309.8,585.3 310.0,583.3 310.2,581.3 310.4,579.3 310.7,577.3 310.9,575.3 311.2,573.3 311.4,571.3 311.7,569.3 312.0,567.3 312.3,565.3 312.6,563.3 312.9,561.3 313.2,559.3 313.5,557.3 313.9,555.3 314.2,553.3 314.5,551.3 314.8,549.3 315.0,547.3 315.3,545.3 315.6,543.3 315.8,541.3 316.0,539.3 316.2,537.3 316.4,535.3 316.6,533.2 316.7,531.2 316.8,529.2 316.9,527.2 317.0,525.2 317.1,523.2 317.1,521.2 317.1,519.2 317.1,517.2 317.1,515.2 317.1,513.2 317.1,511.2 317.1,509.2 317.0,507.2 317.0,505.2 316.9,503.2 316.8,501.2 316.8,499.2 316.7,497.2 316.6,495.2 316.5,493.2 316.3,491.2 316.2,489.2 316.1,487.2 315.9,485.2 315.7,483.2 315.5,481.2 315.3,479.2 315.1,477.2 314.9,475.2 314.6,473.2 314.4,471.2 314.1,469.2 313.8,467.2 313.5,465.2 313.2,463.2 312.9,461.2 312.6,459.2 312.4,457.2 312.1,455.2 311.8,453.2 311.5,451.2 311.2,449.2 311.0,447.2 310.7,445.2 310.5,443.2 310.3,441.2 310.1,439.2 309.9,437.2 309.7,435.2 309.5,433.2 309.4,431.2 309.3,429.2 309.2,427.2 309.0,425.2 309.0,423.2 308.9,421.2 308.8,419.2 308.7,417.2 308.7,415.2 308.6,413.2 308.6,411.2 308.6,409.2 308.6,407.2 308.5,405.2 308.5,403.2 308.5,401.1 308.5,399.1 308.5,397.1 308.5,395.1 308.5,393.1 308.5,391.1 308.6,389.1 308.6,387.1 308.6,385.1 308.6,383.1 308.6,381.1 308.7,379.1 308.7,377.1 308.7,375.1 308.8,373.1 308.8,371.1 308.8,369.1 308.9,367.1 308.9,365.1 309.0,363.1 309.0,361.1 309.0,359.1 309.1,357.1 309.1,355.1 309.1,353.1 309.2,351.1 309.2,349.1 309.2,347.1 309.2,345.1 309.2,343.1 309.2,341.1 309.2,339.1 309.2,337.1 309.2,335.1 309.2,333.1 309.2,331.1 309.2,329.1 309.1,327.1 309.1,325.1 309.1,323.1 309.0,321.1 309.0,319.1 308.9,317.1 308.9,315.1 308.9,313.1 308.8,311.1 308.8,309.1 308.8,307.1 308.7,305.1 308.7,303.1 308.7,301.1 308.6,299.1 308.6,297.1 308.6,295.1 308.6,293.1 308.5,291.1 308.5,289.1 308.5,287.1 308.5,285.1 308.5,283.1 308.5,281.1 308.4,279.1 308.4,277.1 308.4,275.1 308.4,273.1 308.4,271.0 308.4,269.0 308.4,267.0 308.4,265.0 308.4,263.0" fill="#B3ECFF" stroke="#97E3FB" stroke-width="1" stroke-linejoin="round"/>
<polygon points="333.8,286.4 333.8,288.4 333.8,290.4 333.8,292.4 333.8,294.4 333.8,296.4 333.8,298.4 333.8,300.4 333.8,302.4 333.8,304.4 333.8,306.4 333.8,308.4 333.7,310.4 333.7,312.4 333.7,314.4 333.7,316.4 333.7,318.4 333.6,320.4 333.6,322.4 333.6,324.4 333.5,326.3 333.5,328.3 333.4,330.3 333.4,332.3 333.4,334.3 333.3,336.3 333.3,338.3 333.2,340.3 333.2,342.3 333.1,344.3 333.1,346.3 333.1,348.3 333.0,350.3 333.0,352.3 332.9,354.3 332.9,356.3 332.9,358.3 332.9,360.3 332.8,362.3 332.8,364.3 332.8,366.3 332.8,368.3 332.8,370.3 332.8,372.3 332.8,374.3 332.7,376.3 332.7,378.3 332.7,380.3 332.7,382.3 332.7,384.3 332.6,386.3 332.6,388.3 332.5,390.3 332.5,392.3 332.4,394.3 332.3,396.3 332.2,398.3 332.1,400.3 332.0,402.3 331.9,404.3 331.8,406.3 331.6,408.3 331.5,410.3 331.3,412.3 331.1,414.3 330.9,416.3 330.7,418.3 330.5,420.3 330.3,422.3 330.0,424.3 329.8,426.3 329.5,428.3 329.3,430.3 329.0,432.2 328.7,434.2 328.5,436.2 328.2,438.2 327.9,440.2 327.7,442.2 327.4,444.2 327.1,446.2 326.9,448.2 326.6,450.2 326.4,452.2 326.2,454.2 326.0,456.2 325.8,458.2 325.6,460.2 325.5,462.2 325.3,464.2 325.2,466.2 325.1,468.2 325.1,470.2 325.1,472.2 325.1,474.2 325.1,476.2 325.1,478.2 325.2,480.2 325.3,482.2 325.4,484.2 325.6,486.2 325.7,488.2 325.9,490.2 326.1,492.2 326.3,494.2 326.5,496.2 326.7,498.2 327.0,500.2 327.2,502.2 327.4,504.2 327.6,506.2 327.9,508.2 328.1,510.2 328.3,512.2 328.5,514.2 328.7,516.2 328.9,518.2 329.1,520.2 329.3,522.2 329.4,524.2 329.6,526.2 329.8,528.2 329.9,530.2 330.1,532.2 330.2,534.2 330.4,536.2 330.5,538.2 330.7,540.1 330.8,542.1 331.0,544.1 331.1,546.1 331.3,548.1 331.4,550.1 331.5,552.1 331.7,554.1 331.8,556.1 332.0,558.1 332.1,560.1 332.2,562.1 332.4,564.1 332.5,566.1 332.6,568.1 332.7,570.1 332.8,572.1 332.9,574.1 333.0,576.1 333.1,578.1 333.2,580.1 333.3,582.1 333.4,584.1 333.4,586.1 333.5,588.1 333.5,590.1 333.6,592.1 333.6,594.1 333.7,596.1 333.7,598.1 333.7,600.1 333.7,602.1 333.8,604.1 333.8,606.1 333.8,608.1 333.8,610.1 333.8,612.1 333.8,614.1 333.8,616.1 333.8,618.1 333.8,620.1 333.9,620.1 333.9,618.1 333.9,616.1 333.9,614.1 333.9,612.1 333.9,610.1 333.9,608.1 333.9,606.1 333.9,604.1 334.0,602.1 334.0,600.1 334.0,598.1 334.0,596.1 334.1,594.1 334.1,592.1 334.2,590.1 334.2,588.1 334.3,586.1 334.3,584.1 334.4,582.1 334.5,580.1 334.6,578.1 334.7,576.1 334.8,574.1 334.9,572.1 335.0,570.1 335.1,568.1 335.2,566.1 335.3,564.1 335.5,562.1 335.6,560.1 335.7,558.1 335.9,556.1 336.0,554.1 336.2,552.1 336.3,550.1 336.4,548.1 336.6,546.1 336.7,544.1 336.9,542.1 337.0,540.1 337.2,538.2 337.3,536.2 337.5,534.2 337.6,532.2 337.8,530.2 337.9,528.2 338.1,526.2 338.3,524.2 338.4,522.2 338.6,520.2 338.8,518.2 339.0,516.2 339.2,514.2 339.4,512.2 339.6,510.2 339.8,508.2 340.1,506.2 340.3,504.2 340.5,502.2 340.7,500.2 341.0,498.2 341.2,496.2 341.4,494.2 341.6,492.2 341.8,490.2 342.0,488.2 342.1,486.2 342.3,484.2 342.4,482.2 342.5,480.2 342.6,478.2 342.6,476.2 342.6,474.2 342.6,472.2 342.6,470.2 342.6,468.2 342.5,466.2 342.4,464.2 342.2,462.2 342.1,460.2 341.9,458.2 341.7,456.2 341.5,454.2 341.3,452.2 341.1,450.2 340.8,448.2 340.6,446.2 340.3,444.2 340.0,442.2 339.8,440.2 339.5,438.2 339.2,436.2 339.0,434.2 338.7,432.2 338.4,430.3 338.2,428.3 337.9,426.3 337.7,424.3 337.4,422.3 337.2,420.3 337.0,418.3 336.8,416.3 336.6,414.3 336.4,412.3 336.2,410.3 336.1,408.3 335.9,406.3 335.8,404.3 335.7,402.3 335.6,400.3 335.5,398.3 335.4,396.3 335.3,394.3 335.2,392.3 335.2,390.3 335.1,388.3 335.1,386.3 335.0,384.3 335.0,382.3 335.0,380.3 335.0,378.3 335.0,376.3 334.9,374.3 334.9,372.3 334.9,370.3 334.9,368.3 334.9,366.3 334.9,364.3 334.9,362.3 334.8,360.3 334.8,358.3 334.8,356.3 334.8,354.3 334.7,352.3 334.7,350.3 334.6,348.3 334.6,346.3 334.6,344.3 334.5,342.3 334.5,340.3 334.4,338.3 334.4,336.3 334.3,334.3 334.3,332.3 334.3,330.3 334.2,328.3 334.2,326.3 334.1,324.4 334.1,322.4 334.1,320.4 334.0,318.4 334.0,316.4 334.0,314.4 334.0,312.4 334.0,310.4 333.9,308.4 333.9,306.4 333.9,304.4 333.9,302.4 333.9,300.4 333.9,298.4 333.9,296.4 333.9,294.4 333.9,292.4 333.9,290.4 333.9,288.4 333.9,286.4" fill="#B3ECFF" stroke="#97E3FB" stroke-width="1" stroke-linejoin="round"/>
<polygon points="359.3,250.8 359.3,252.8 359.3,254.8 359.3,256.8 359.3,258.8 359.3,260.8 359.3,262.8 359.3,264.8 359.2,266.8 359.2,268.8 359.2,270.8 359.2,272.8 359.2,274.8 359.2,276.8 359.1,278.8 359.1,280.8 359.1,282.8 359.0,284.8 359.0,286.8 358.9,288.8 358.9,290.8 358.8,292.8 358.8,294.8 358.7,296.8 358.6,298.7 358.6,300.7 358.5,302.7 358.4,304.7 358.3,306.7 358.2,308.7 358.1,310.7 358.0,312.7 357.9,314.7 357.8,316.7 357.7,318.7 357.6,320.7 357.5,322.7 357.4,324.7 357.3,326.7 357.2,328.7 357.1,330.7 357.1,332.7 357.0,334.7 356.9,336.7 356.9,338.7 356.8,340.7 356.7,342.7 356.7,344.7 356.7,346.7 356.6,348.7 356.6,350.7 356.6,352.7 356.6,354.7 356.6,356.7 356.5,358.7 356.5,360.7 356.5,362.7 356.5,364.7 356.5,366.7 356.5,368.7 356.5,370.7 356.4,372.7 356.4,374.7 356.4,376.7 356.3,378.7 356.3,380.7 356.2,382.7 356.2,384.7 356.1,386.7 356.1,388.7 356.0,390.7 355.9,392.7 355.8,394.7 355.8,396.7 355.7,398.7 355.6,400.7 355.5,402.6 355.4,404.6 355.4,406.6 355.3,408.6 355.2,410.6 355.2,412.6 355.1,414.6 355.1,416.6 355.1,418.6 355.0,420.6 355.0,422.6 355.0,424.6 355.0,426.6 354.9,428.6 354.9,430.6 354.9,432.6 354.9,434.6 354.9,436.6 354.9,438.6 354.9,440.6 354.8,442.6 354.8,444.6 354.8,446.6 354.7,448.6 354.7,450.6 354.7,452.6 354.6,454.6 354.6,456.6 354.5,458.6 354.5,460.6 354.4,462.6 354.3,464.6 354.3,466.6 354.2,468.6 354.2,470.6 354.1,472.6 354.0,474.6 354.0,476.6 353.9,478.6 353.9,480.6 353.8,482.6 353.8,484.6 353.8,486.6 353.7,488.6 353.7,490.6 353.7,492.6 353.7,494.6 353.7,496.6 353.7,498.6 353.7,500.6 353.7,502.6 353.8,504.6 353.8,506.5 353.9,508.5 354.0,510.5 354.1,512.5 354.2,514.5 354.3,516.5 354.4,518.5 354.6,520.5 354.7,522.5 354.9,524.5 355.1,526.5 355.3,528.5 355.4,530.5 355.6,532.5 355.8,534.5 356.0,536.5 356.2,538.5 356.4,540.5 356.6,542.5 356.8,544.5 357.0,546.5 357.2,548.5 357.4,550.5 357.6,552.5 357.7,554.5 357.9,556.5 358.0,558.5 358.2,560.5 358.3,562.5 358.4,564.5 358.5,566.5 358.6,568.5 358.7,570.5 358.8,572.5 358.8,574.5 358.9,576.5 359.0,578.5 359.0,580.5 359.1,582.5 359.1,584.5 359.1,586.5 359.2,588.5 359.2,590.5 359.2,592.5 359.2,594.5 359.2,596.5 359.2,598.5 359.3,600.5 359.3,602.5 359.3,604.5 359.3,606.5 359.3,608.5 359.3,610.4 359.3,612.4 359.3,612.4 359.3,610.4 359.3,608.5 359.3,606.5 359.3,604.5 359.3,602.5 359.3,600.5 359.4,598.5 359.4,596.5 359.4,594.5 359.4,592.5 359.4,590.5 359.4,588.5 359.5,586.5 359.5,584.5 359.5,582.5 359.6,580.5 359.6,578.5 359.7,576.5 359.8,574.5 359.8,572.5 359.9,570.5 360.0,568.5 360.1,566.5 360.2,564.5 360.3,562.5 360.4,560.5 360.6,558.5 360.7,556.5 360.9,554.5 361.0,552.5 361.2,550.5 361.4,548.5 361.6,546.5 361.8,544.5 362.0,542.5 362.2,540.5 362.4,538.5 362.6,536.5 362.8,534.5 363.0,532.5 363.2,530.5 363.3,528.5 363.5,526.5 363.7,524.5 363.9,522.5 364.0,520.5 364.2,518.5 364.3,516.5 364.4,514.5 364.5,512.5 364.6,510.5 364.7,508.5 364.8,506.5 364.8,504.6 364.9,502.6 364.9,500.6 364.9,498.6 364.9,496.6 364.9,494.6 364.9,492.6 364.9,490.6 364.9,488.6 364.8,486.6 364.8,484.6 364.8,482.6 364.7,480.6 364.7,478.6 364.6,476.6 364.6,474.6 364.5,472.6 364.4,470.6 364.4,468.6 364.3,466.6 364.3,464.6 364.2,462.6 364.1,460.6 364.1,458.6 364.0,456.6 364.0,454.6 363.9,452.6 363.9,450.6 363.9,448.6 363.8,446.6 363.8,444.6 363.8,442.6 363.7,440.6 363.7,438.6 363.7,436.6 363.7,434.6 363.7,432.6 363.7,430.6 363.7,428.6 363.6,426.6 363.6,424.6 363.6,422.6 363.6,420.6 363.5,418.6 363.5,416.6 363.5,414.6 363.4,412.6 363.4,410.6 363.3,408.6 363.2,406.6 363.2,404.6 363.1,402.6 363.0,400.7 362.9,398.7 362.8,396.7 362.8,394.7 362.7,392.7 362.6,390.7 362.5,388.7 362.5,386.7 362.4,384.7 362.4,382.7 362.3,380.7 362.3,378.7 362.2,376.7 362.2,374.7 362.2,372.7 362.1,370.7 362.1,368.7 362.1,366.7 362.1,364.7 362.1,362.7 362.1,360.7 362.1,358.7 362.0,356.7 362.0,354.7 362.0,352.7 362.0,350.7 362.0,348.7 361.9,346.7 361.9,344.7 361.9,342.7 361.8,340.7 361.7,338.7 361.7,336.7 361.6,334.7 361.5,332.7 361.5,330.7 361.4,328.7 361.3,326.7 361.2,324.7 361.1,322.7 361.0,320.7 360.9,318.7 360.8,316.7 360.7,314.7 360.6,312.7 360.5,310.7 360.4,308.7 360.3,306.7 360.2,304.7 360.1,302.7 360.0,300.7 360.0,298.7 359.9,296.8 359.8,294.8 359.8,292.8 359.7,290.8 359.7,288.8 359.6,286.8 359.6,284.8 359.5,282.8 359.5,280.8 359.5,278.8 359.4,276.8 359.4,274.8 359.4,272.8 359.4,270.8 359.4,268.8 359.4,266.8 359.3,264.8 359.3,262.8 359.3,260.8 359.3,258.8 359.3,256.8 359.3,254.8 359.3,252.8 359.3,250.8" fill="#B3ECFF" stroke="#97E3FB" stroke-width="1" stroke-linejoin="round"/>
<polygon points="405.8,360.1 405.8,362.1 405.8,364.1 405.8,366.1 405.8,368.1 405.8,370.1 405.8,372.1 405.8,374.1 405.8,376.1 405.8,378.1 405.7,380.1 405.7,382.1 405.7,384.1 405.7,386.1 405.6,388.1 405.6,390.1 405.5,392.1 405.5,394.1 405.4,396.1 405.4,398.1 405.3,400.1 405.2,402.1 405.1,404.1 405.0,406.1 404.9,408.1 404.8,410.1 404.7,412.1 404.5,414.2 404.4,416.2 404.2,418.2 404.1,420.2 403.9,422.2 403.7,424.2 403.5,426.2 403.3,428.2 403.1,430.2 402.9,432.2 402.7,434.2 402.5,436.2 402.2,438.2 402.0,440.2 401.8,442.2 401.5,444.2 401.3,446.2 401.1,448.2 400.8,450.2 400.6,452.2 400.4,454.2 400.1,456.2 399.9,458.2 399.7,460.2 399.5,462.2 399.3,464.2 399.0,466.2 398.8,468.2 398.7,470.2 398.5,472.2 398.3,474.2 398.1,476.2 398.0,478.2 397.8,480.2 397.7,482.2 397.6,484.2 397.5,486.2 397.4,488.2 397.3,490.2 397.2,492.2 397.1,494.2 397.1,496.2 397.1,498.2 397.1,500.2 397.1,502.2 397.1,504.2 397.2,506.2 397.2,508.2 397.3,510.2 397.4,512.2 397.5,514.2 397.7,516.2 397.8,518.2 397.9,520.2 398.1,522.2 398.3,524.2 398.5,526.2 398.7,528.2 398.9,530.2 399.1,532.2 399.3,534.2 399.6,536.2 399.8,538.2 400.0,540.3 400.3,542.3 400.5,544.3 400.8,546.3 401.0,548.3 401.3,550.3 401.5,552.3 401.8,554.3 402.0,556.3 402.3,558.3 402.5,560.3 402.7,562.3 402.9,564.3 403.2,566.3 403.4,568.3 403.6,570.3 403.8,572.3 404.0,574.3 404.1,576.3 404.3,578.3 404.5,580.3 404.6,582.3 404.7,584.3 404.9,586.3 405.0,588.3 405.1,590.3 405.2,592.3 405.3,594.3 405.3,596.3 405.4,598.3 405.5,600.3 405.5,602.3 405.6,604.3 405.6,606.3 405.7,608.3 405.7,610.3 405.7,612.3 405.7,614.3 405.8,616.3 405.8,618.3 405.8,620.3 405.8,622.3 405.8,624.3 405.8,626.3 405.8,628.3 405.8,630.3 405.8,632.3 405.9,632.3 405.9,630.3 405.9,628.3 405.9,626.3 405.9,624.3 405.9,622.3 405.9,620.3 405.9,618.3 405.9,616.3 406.0,614.3 406.0,612.3 406.0,610.3 406.0,608.3 406.1,606.3 406.1,604.3 406.2,602.3 406.2,600.3 406.3,598.3 406.4,596.3 406.4,594.3 406.5,592.3 406.6,590.3 406.7,588.3 406.8,586.3 407.0,584.3 407.1,582.3 407.2,580.3 407.4,578.3 407.6,576.3 407.7,574.3 407.9,572.3 408.1,570.3 408.3,568.3 408.5,566.3 408.8,564.3 409.0,562.3 409.2,560.3 409.4,558.3 409.7,556.3 409.9,554.3 410.2,552.3 410.4,550.3 410.7,548.3 410.9,546.3 411.2,544.3 411.4,542.3 411.7,540.3 411.9,538.2 412.1,536.2 412.4,534.2 412.6,532.2 412.8,530.2 413.0,528.2 413.2,526.2 413.4,524.2 413.6,522.2 413.8,520.2 413.9,518.2 414.0,516.2 414.2,514.2 414.3,512.2 414.4,510.2 414.5,508.2 414.5,506.2 414.6,504.2 414.6,502.2 414.6,500.2 414.6,498.2 414.6,496.2 414.6,494.2 414.5,492.2 414.4,490.2 414.3,488.2 414.2,486.2 414.1,484.2 414.0,482.2 413.9,480.2 413.7,478.2 413.6,476.2 413.4,474.2 413.2,472.2 413.0,470.2 412.9,468.2 412.7,466.2 412.4,464.2 412.2,462.2 412.0,460.2 411.8,458.2 411.6,456.2 411.3,454.2 411.1,452.2 410.9,450.2 410.6,448.2 410.4,446.2 410.2,444.2 409.9,442.2 409.7,440.2 409.5,438.2 409.2,436.2 409.0,434.2 408.8,432.2 408.6,430.2 408.4,428.2 408.2,426.2 408.0,424.2 407.8,422.2 407.6,420.2 407.5,418.2 407.3,416.2 407.2,414.2 407.0,412.1 406.9,410.1 406.8,408.1 406.7,406.1 406.6,404.1 406.5,402.1 406.4,400.1 406.3,398.1 406.3,396.1 406.2,394.1 406.2,392.1 406.1,390.1 406.1,388.1 406.0,386.1 406.0,384.1 406.0,382.1 406.0,380.1 405.9,378.1 405.9,376.1 405.9,374.1 405.9,372.1 405.9,370.1 405.9,368.1 405.9,366.1 405.9,364.1 405.9,362.1 405.9,360.1" fill="#99E6FF" stroke="#82DDFA" stroke-width="1" stroke-linejoin="round"/>
<polygon points="431.3,318.3 431.3,320.3 431.3,322.3 431.3,324.3 431.3,326.3 431.3,328.3 431.3,330.3 431.2,332.3 431.2,334.3 431.2,336.3 431.2,338.3 431.2,340.3 431.2,342.3 431.2,344.3 431.1,346.3 431.1,348.3 431.1,350.3 431.0,352.3 431.0,354.3 430.9,356.3 430.9,358.3 430.8,360.3 430.8,362.3 430.7,364.3 430.7,366.3 430.6,368.3 430.5,370.3 430.4,372.3 430.4,374.3 430.3,376.3 430.2,378.3 430.1,380.3 430.0,382.3 429.9,384.3 429.8,386.3 429.7,388.3 429.7,390.3 429.6,392.3 429.5,394.3 429.4,396.3 429.3,398.3 429.2,400.3 429.1,402.3 429.0,404.3 428.8,406.3 428.7,408.3 428.6,410.3 428.5,412.3 428.3,414.3 428.2,416.3 428.0,418.3 427.9,420.3 427.7,422.3 427.5,424.3 427.3,426.3 427.0,428.3 426.8,430.3 426.6,432.3 426.3,434.3 426.1,436.3 425.8,438.3 425.5,440.3 425.3,442.3 425.0,444.3 424.7,446.3 424.5,448.3 424.2,450.3 424.0,452.3 423.7,454.3 423.5,456.3 423.3,458.3 423.2,460.3 423.0,462.3 422.9,464.3 422.8,466.3 422.7,468.3 422.6,470.3 422.6,472.3 422.5,474.3 422.5,476.3 422.6,478.4 422.6,480.4 422.7,482.4 422.8,484.4 422.9,486.4 423.0,488.4 423.1,490.4 423.3,492.4 423.4,494.4 423.6,496.4 423.8,498.4 424.0,500.4 424.2,502.4 424.4,504.4 424.6,506.4 424.8,508.4 425.1,510.4 425.3,512.4 425.5,514.4 425.8,516.4 426.0,518.4 426.2,520.4 426.4,522.4 426.7,524.4 426.9,526.4 427.1,528.4 427.3,530.4 427.5,532.4 427.7,534.4 427.9,536.4 428.0,538.4 428.2,540.4 428.4,542.4 428.5,544.4 428.7,546.4 428.8,548.4 429.0,550.4 429.1,552.4 429.2,554.4 429.4,556.4 429.5,558.4 429.6,560.4 429.7,562.4 429.8,564.4 429.9,566.4 430.0,568.4 430.1,570.4 430.2,572.4 430.3,574.4 430.4,576.4 430.4,578.4 430.5,580.4 430.6,582.4 430.7,584.4 430.7,586.4 430.8,588.4 430.8,590.4 430.9,592.4 430.9,594.4 431.0,596.4 431.0,598.4 431.1,600.4 431.1,602.4 431.1,604.4 431.1,606.4 431.2,608.4 431.2,610.4 431.2,612.4 431.2,614.4 431.2,616.4 431.2,618.4 431.3,620.4 431.3,622.4 431.3,624.4 431.3,626.4 431.3,628.4 431.3,630.4 431.3,632.4 431.3,634.4 431.3,634.4 431.3,632.4 431.3,630.4 431.3,628.4 431.3,626.4 431.3,624.4 431.3,622.4 431.3,620.4 431.4,618.4 431.4,616.4 431.4,614.4 431.4,612.4 431.4,610.4 431.4,608.4 431.5,606.4 431.5,604.4 431.5,602.4 431.5,600.4 431.6,598.4 431.6,596.4 431.7,594.4 431.7,592.4 431.8,590.4 431.8,588.4 431.9,586.4 431.9,584.4 432.0,582.4 432.1,580.4 432.2,578.4 432.2,576.4 432.3,574.4 432.4,572.4 432.5,570.4 432.6,568.4 432.7,566.4 432.8,564.4 432.9,562.4 433.0,560.4 433.1,558.4 433.2,556.4 433.4,554.4 433.5,552.4 433.6,550.4 433.8,548.4 433.9,546.4 434.1,544.4 434.2,542.4 434.4,540.4 434.6,538.4 434.7,536.4 434.9,534.4 435.1,532.4 435.3,530.4 435.5,528.4 435.7,526.4 435.9,524.4 436.2,522.4 436.4,520.4 436.6,518.4 436.8,516.4 437.1,514.4 437.3,512.4 437.5,510.4 437.8,508.4 438.0,506.4 438.2,504.4 438.4,502.4 438.6,500.4 438.8,498.4 439.0,496.4 439.2,494.4 439.3,492.4 439.5,490.4 439.6,488.4 439.7,486.4 439.8,484.4 439.9,482.4 440.0,480.4 440.0,478.4 440.1,476.3 440.1,474.3 440.0,472.3 440.0,470.3 439.9,468.3 439.8,466.3 439.7,464.3 439.6,462.3 439.4,460.3 439.3,458.3 439.1,456.3 438.9,454.3 438.6,452.3 438.4,450.3 438.1,448.3 437.9,446.3 437.6,444.3 437.3,442.3 437.1,440.3 436.8,438.3 436.5,436.3 436.3,434.3 436.0,432.3 435.8,430.3 435.6,428.3 435.3,426.3 435.1,424.3 434.9,422.3 434.7,420.3 434.6,418.3 434.4,416.3 434.3,414.3 434.1,412.3 434.0,410.3 433.9,408.3 433.8,406.3 433.6,404.3 433.5,402.3 433.4,400.3 433.3,398.3 433.2,396.3 433.1,394.3 433.0,392.3 432.9,390.3 432.9,388.3 432.8,386.3 432.7,384.3 432.6,382.3 432.5,380.3 432.4,378.3 432.3,376.3 432.2,374.3 432.2,372.3 432.1,370.3 432.0,368.3 431.9,366.3 431.9,364.3 431.8,362.3 431.8,360.3 431.7,358.3 431.7,356.3 431.6,354.3 431.6,352.3 431.5,350.3 431.5,348.3 431.5,346.3 431.4,344.3 431.4,342.3 431.4,340.3 431.4,338.3 431.4,336.3 431.4,334.3 431.4,332.3 431.3,330.3 431.3,328.3 431.3,326.3 431.3,324.3 431.3,322.3 431.3,320.3 431.3,318.3" fill="#99E6FF" stroke="#82DDFA" stroke-width="1" stroke-linejoin="round"/>
<polygon points="456.7,229.0 456.7,231.0 456.7,233.0 456.7,235.0 456.7,237.0 456.7,239.0 456.7,241.0 456.7,243.0 456.7,245.0 456.7,247.0 456.7,249.0 456.7,251.0 456.6,253.0 456.6,255.0 456.6,257.0 456.6,259.0 456.6,260.9 456.5,262.9 456.5,264.9 456.5,266.9 456.4,268.9 456.4,270.9 456.3,272.9 456.3,274.9 456.3,276.9 456.2,278.9 456.2,280.9 456.1,282.9 456.1,284.9 456.0,286.9 456.0,288.9 456.0,290.9 455.9,292.9 455.9,294.9 455.8,296.9 455.8,298.9 455.8,300.9 455.8,302.9 455.7,304.9 455.7,306.9 455.7,308.9 455.7,310.9 455.6,312.9 455.6,314.9 455.6,316.9 455.6,318.9 455.6,320.9 455.5,322.9 455.5,324.9 455.4,326.9 455.4,328.9 455.3,330.9 455.3,332.9 455.2,334.9 455.1,336.9 455.0,338.9 454.9,340.9 454.8,342.9 454.7,344.9 454.5,346.9 454.4,348.9 454.3,350.9 454.1,352.9 454.0,354.9 453.8,356.9 453.7,358.9 453.5,360.9 453.4,362.9 453.3,364.9 453.2,366.9 453.1,368.9 453.0,370.8 452.9,372.8 452.8,374.8 452.8,376.8 452.8,378.8 452.7,380.8 452.7,382.8 452.8,384.8 452.8,386.8 452.8,388.8 452.9,390.8 452.9,392.8 453.0,394.8 453.0,396.8 453.1,398.8 453.2,400.8 453.2,402.8 453.3,404.8 453.4,406.8 453.4,408.8 453.4,410.8 453.5,412.8 453.5,414.8 453.5,416.8 453.5,418.8 453.5,420.8 453.5,422.8 453.5,424.8 453.5,426.8 453.5,428.8 453.4,430.8 453.4,432.8 453.3,434.8 453.3,436.8 453.3,438.8 453.2,440.8 453.2,442.8 453.1,444.8 453.1,446.8 453.0,448.8 453.0,450.8 453.0,452.8 453.0,454.8 452.9,456.8 452.9,458.8 452.9,460.8 452.9,462.8 452.8,464.8 452.8,466.8 452.8,468.8 452.8,470.8 452.7,472.8 452.7,474.8 452.7,476.8 452.6,478.7 452.6,480.7 452.5,482.7 452.5,484.7 452.4,486.7 452.4,488.7 452.3,490.7 452.2,492.7 452.2,494.7 452.1,496.7 452.0,498.7 451.9,500.7 451.9,502.7 451.8,504.7 451.8,506.7 451.7,508.7 451.7,510.7 451.6,512.7 451.6,514.7 451.6,516.7 451.6,518.7 451.6,520.7 451.6,522.7 451.7,524.7 451.7,526.7 451.8,528.7 451.8,530.7 451.9,532.7 452.0,534.7 452.2,536.7 452.3,538.7 452.4,540.7 452.6,542.7 452.8,544.7 452.9,546.7 453.1,548.7 453.3,550.7 453.5,552.7 453.7,554.7 453.9,556.7 454.1,558.7 454.3,560.7 454.5,562.7 454.7,564.7 454.8,566.7 455.0,568.7 455.2,570.7 455.3,572.7 455.5,574.7 455.6,576.7 455.7,578.7 455.9,580.7 456.0,582.7 456.1,584.7 456.2,586.6 456.2,588.6 456.3,590.6 456.4,592.6 456.4,594.6 456.5,596.6 456.5,598.6 456.6,600.6 456.6,602.6 456.6,604.6 456.6,606.6 456.7,608.6 456.7,610.6 456.7,612.6 456.7,614.6 456.7,616.6 456.7,618.6 456.7,620.6 456.7,622.6 456.8,622.6 456.8,620.6 456.8,618.6 456.8,616.6 456.8,614.6 456.8,612.6 456.8,610.6 456.8,608.6 456.9,606.6 456.9,604.6 456.9,602.6 456.9,600.6 457.0,598.6 457.0,596.6 457.1,594.6 457.1,592.6 457.2,590.6 457.3,588.6 457.3,586.6 457.4,584.7 457.5,582.7 457.6,580.7 457.8,578.7 457.9,576.7 458.0,574.7 458.2,572.7 458.3,570.7 458.5,568.7 458.7,566.7 458.8,564.7 459.0,562.7 459.2,560.7 459.4,558.7 459.6,556.7 459.8,554.7 460.0,552.7 460.2,550.7 460.4,548.7 460.6,546.7 460.7,544.7 460.9,542.7 461.1,540.7 461.2,538.7 461.3,536.7 461.5,534.7 461.6,532.7 461.7,530.7 461.7,528.7 461.8,526.7 461.8,524.7 461.9,522.7 461.9,520.7 461.9,518.7 461.9,516.7 461.9,514.7 461.9,512.7 461.8,510.7 461.8,508.7 461.7,506.7 461.7,504.7 461.6,502.7 461.6,500.7 461.5,498.7 461.4,496.7 461.3,494.7 461.3,492.7 461.2,490.7 461.1,488.7 461.1,486.7 461.0,484.7 461.0,482.7 460.9,480.7 460.9,478.7 460.8,476.8 460.8,474.8 460.8,472.8 460.7,470.8 460.7,468.8 460.7,466.8 460.7,464.8 460.6,462.8 460.6,460.8 460.6,458.8 460.6,456.8 460.5,454.8 460.5,452.8 460.5,450.8 460.5,448.8 460.4,446.8 460.4,444.8 460.3,442.8 460.3,440.8 460.2,438.8 460.2,436.8 460.2,434.8 460.1,432.8 460.1,430.8 460.0,428.8 460.0,426.8 460.0,424.8 460.0,422.8 460.0,420.8 460.0,418.8 460.0,416.8 460.0,414.8 460.0,412.8 460.1,410.8 460.1,408.8 460.1,406.8 460.2,404.8 460.3,402.8 460.3,400.8 460.4,398.8 460.5,396.8 460.5,394.8 460.6,392.8 460.6,390.8 460.7,388.8 460.7,386.8 460.7,384.8 460.8,382.8 460.8,380.8 460.7,378.8 460.7,376.8 460.7,374.8 460.6,372.8 460.5,370.8 460.4,368.9 460.3,366.9 460.2,364.9 460.1,362.9 460.0,360.9 459.8,358.9 459.7,356.9 459.5,354.9 459.4,352.9 459.2,350.9 459.1,348.9 459.0,346.9 458.8,344.9 458.7,342.9 458.6,340.9 458.5,338.9 458.4,336.9 458.3,334.9 458.2,332.9 458.2,330.9 458.1,328.9 458.1,326.9 458.0,324.9 458.0,322.9 457.9,320.9 457.9,318.9 457.9,316.9 457.9,314.9 457.9,312.9 457.8,310.9 457.8,308.9 457.8,306.9 457.8,304.9 457.7,302.9 457.7,300.9 457.7,298.9 457.7,296.9 457.6,294.9 457.6,292.9 457.5,290.9 457.5,288.9 457.5,286.9 457.4,284.9 457.4,282.9 457.3,280.9 457.3,278.9 457.2,276.9 457.2,274.9 457.2,272.9 457.1,270.9 457.1,268.9 457.0,266.9 457.0,264.9 457.0,262.9 456.9,260.9 456.9,259.0 456.9,257.0 456.9,255.0 456.9,253.0 456.8,251.0 456.8,249.0 456.8,247.0 456.8,245.0 456.8,243.0 456.8,241.0 456.8,239.0 456.8,237.0 456.8,235.0 456.8,233.0 456.8,231.0 456.8,229.0" fill="#99E6FF" stroke="#82DDFA" stroke-width="1" stroke-linejoin="round"/>
<polygon points="503.3,371.9 503.3,373.9 503.3,375.9 503.3,377.9 503.3,379.9 503.3,381.9 503.3,383.9 503.2,385.9 503.2,387.9 503.2,389.9 503.2,391.9 503.2,393.9 503.2,395.9 503.1,397.9 503.1,399.9 503.1,401.9 503.0,403.9 503.0,405.9 502.9,407.9 502.9,409.8 502.8,411.8 502.7,413.8 502.6,415.8 502.5,417.8 502.4,419.8 502.3,421.8 502.2,423.8 502.1,425.8 501.9,427.8 501.8,429.8 501.6,431.8 501.5,433.8 501.3,435.8 501.1,437.8 500.9,439.8 500.7,441.8 500.4,443.8 500.2,445.8 500.0,447.8 499.7,449.8 499.4,451.8 499.2,453.8 498.9,455.8 498.6,457.8 498.3,459.8 498.0,461.8 497.7,463.8 497.3,465.8 497.0,467.8 496.7,469.8 496.4,471.8 496.1,473.8 495.7,475.8 495.4,477.8 495.2,479.8 494.9,481.8 494.6,483.8 494.4,485.8 494.1,487.8 493.9,489.8 493.7,491.7 493.6,493.7 493.5,495.7 493.4,497.7 493.3,499.7 493.3,501.7 493.2,503.7 493.3,505.7 493.3,507.7 493.4,509.7 493.5,511.7 493.6,513.7 493.8,515.7 494.0,517.7 494.2,519.7 494.4,521.7 494.6,523.7 494.9,525.7 495.1,527.7 495.4,529.7 495.7,531.7 495.9,533.7 496.2,535.7 496.5,537.7 496.8,539.7 497.1,541.7 497.4,543.7 497.7,545.7 498.0,547.7 498.3,549.7 498.5,551.7 498.8,553.7 499.1,555.7 499.3,557.7 499.6,559.7 499.8,561.7 500.1,563.7 500.3,565.7 500.5,567.7 500.7,569.7 500.9,571.7 501.1,573.6 501.3,575.6 501.5,577.6 501.7,579.6 501.8,581.6 502.0,583.6 502.1,585.6 502.2,587.6 502.3,589.6 502.4,591.6 502.5,593.6 502.6,595.6 502.7,597.6 502.8,599.6 502.9,601.6 502.9,603.6 503.0,605.6 503.0,607.6 503.1,609.6 503.1,611.6 503.1,613.6 503.2,615.6 503.2,617.6 503.2,619.6 503.2,621.6 503.2,623.6 503.2,625.6 503.3,627.6 503.3,629.6 503.3,631.6 503.3,633.6 503.3,635.6 503.3,637.6 503.3,639.6 503.3,641.6 503.3,641.6 503.3,639.6 503.3,637.6 503.3,635.6 503.3,633.6 503.3,631.6 503.3,629.6 503.3,627.6 503.4,625.6 503.4,623.6 503.4,621.6 503.4,619.6 503.4,617.6 503.4,615.6 503.5,613.6 503.5,611.6 503.5,609.6 503.6,607.6 503.6,605.6 503.7,603.6 503.7,601.6 503.8,599.6 503.9,597.6 504.0,595.6 504.1,593.6 504.2,591.6 504.3,589.6 504.4,587.6 504.5,585.6 504.6,583.6 504.8,581.6 504.9,579.6 505.1,577.6 505.3,575.6 505.5,573.6 505.7,571.7 505.9,569.7 506.1,567.7 506.3,565.7 506.5,563.7 506.8,561.7 507.0,559.7 507.3,557.7 507.5,555.7 507.8,553.7 508.1,551.7 508.3,549.7 508.6,547.7 508.9,545.7 509.2,543.7 509.5,541.7 509.8,539.7 510.1,537.7 510.4,535.7 510.7,533.7 510.9,531.7 511.2,529.7 511.5,527.7 511.7,525.7 512.0,523.7 512.2,521.7 512.4,519.7 512.6,517.7 512.8,515.7 513.0,513.7 513.1,511.7 513.2,509.7 513.3,507.7 513.3,505.7 513.4,503.7 513.3,501.7 513.3,499.7 513.2,497.7 513.1,495.7 513.0,493.7 512.9,491.7 512.7,489.8 512.5,487.8 512.2,485.8 512.0,483.8 511.7,481.8 511.4,479.8 511.2,477.8 510.9,475.8 510.5,473.8 510.2,471.8 509.9,469.8 509.6,467.8 509.3,465.8 508.9,463.8 508.6,461.8 508.3,459.8 508.0,457.8 507.7,455.8 507.4,453.8 507.2,451.8 506.9,449.8 506.6,447.8 506.4,445.8 506.2,443.8 505.9,441.8 505.7,439.8 505.5,437.8 505.3,435.8 505.1,433.8 505.0,431.8 504.8,429.8 504.7,427.8 504.5,425.8 504.4,423.8 504.3,421.8 504.2,419.8 504.1,417.8 504.0,415.8 503.9,413.8 503.8,411.8 503.7,409.8 503.7,407.9 503.6,405.9 503.6,403.9 503.5,401.9 503.5,399.9 503.5,397.9 503.4,395.9 503.4,393.9 503.4,391.9 503.4,389.9 503.4,387.9 503.4,385.9 503.3,383.9 503.3,381.9 503.3,379.9 503.3,377.9 503.3,375.9 503.3,373.9 503.3,371.9" fill="#80E0FF" stroke="#6DD8FA" stroke-width="1" stroke-linejoin="round"/>
<polygon points="528.7,319.7 528.7,321.7 528.7,323.7 528.7,325.7 528.7,327.7 528.7,329.7 528.7,331.7 528.7,333.7 528.7,335.7 528.7,337.7 528.7,339.7 528.6,341.7 528.6,343.7 528.6,345.7 528.6,347.8 528.5,349.8 528.5,351.8 528.4,353.8 528.4,355.8 528.3,357.8 528.3,359.8 528.2,361.8 528.2,363.8 528.1,365.8 528.0,367.8 528.0,369.8 527.9,371.8 527.8,373.8 527.7,375.8 527.6,377.8 527.6,379.9 527.5,381.9 527.4,383.9 527.3,385.9 527.2,387.9 527.2,389.9 527.1,391.9 527.0,393.9 527.0,395.9 526.9,397.9 526.8,399.9 526.8,401.9 526.7,403.9 526.7,405.9 526.6,407.9 526.6,409.9 526.5,412.0 526.5,414.0 526.4,416.0 526.3,418.0 526.2,420.0 526.1,422.0 526.0,424.0 525.9,426.0 525.8,428.0 525.7,430.0 525.5,432.0 525.3,434.0 525.2,436.0 525.0,438.0 524.8,440.0 524.5,442.0 524.3,444.1 524.1,446.1 523.8,448.1 523.6,450.1 523.4,452.1 523.1,454.1 522.9,456.1 522.6,458.1 522.4,460.1 522.2,462.1 522.0,464.1 521.8,466.1 521.6,468.1 521.5,470.1 521.3,472.1 521.2,474.1 521.1,476.2 521.0,478.2 520.9,480.2 520.8,482.2 520.7,484.2 520.7,486.2 520.7,488.2 520.7,490.2 520.7,492.2 520.7,494.2 520.7,496.2 520.7,498.2 520.7,500.2 520.8,502.2 520.8,504.2 520.9,506.3 520.9,508.3 521.0,510.3 521.1,512.3 521.2,514.3 521.3,516.3 521.4,518.3 521.6,520.3 521.7,522.3 521.9,524.3 522.1,526.3 522.3,528.3 522.5,530.3 522.7,532.3 522.9,534.3 523.2,536.3 523.4,538.4 523.7,540.4 523.9,542.4 524.2,544.4 524.5,546.4 524.7,548.4 525.0,550.4 525.3,552.4 525.5,554.4 525.8,556.4 526.0,558.4 526.3,560.4 526.5,562.4 526.7,564.4 526.9,566.4 527.1,568.4 527.3,570.5 527.5,572.5 527.6,574.5 527.7,576.5 527.9,578.5 528.0,580.5 528.1,582.5 528.2,584.5 528.3,586.5 528.3,588.5 528.4,590.5 528.4,592.5 528.5,594.5 528.5,596.5 528.6,598.5 528.6,600.5 528.6,602.6 528.7,604.6 528.7,606.6 528.7,608.6 528.7,610.6 528.7,612.6 528.7,614.6 528.7,616.6 528.7,618.6 528.7,620.6 528.7,622.6 528.8,622.6 528.8,620.6 528.8,618.6 528.8,616.6 528.8,614.6 528.8,612.6 528.8,610.6 528.8,608.6 528.8,606.6 528.8,604.6 528.9,602.6 528.9,600.5 528.9,598.5 529.0,596.5 529.0,594.5 529.1,592.5 529.1,590.5 529.2,588.5 529.2,586.5 529.3,584.5 529.4,582.5 529.5,580.5 529.6,578.5 529.8,576.5 529.9,574.5 530.0,572.5 530.2,570.5 530.4,568.4 530.6,566.4 530.8,564.4 531.0,562.4 531.2,560.4 531.5,558.4 531.7,556.4 532.0,554.4 532.2,552.4 532.5,550.4 532.8,548.4 533.0,546.4 533.3,544.4 533.6,542.4 533.8,540.4 534.1,538.4 534.3,536.3 534.6,534.3 534.8,532.3 535.0,530.3 535.2,528.3 535.4,526.3 535.6,524.3 535.8,522.3 535.9,520.3 536.1,518.3 536.2,516.3 536.3,514.3 536.4,512.3 536.5,510.3 536.6,508.3 536.6,506.3 536.7,504.2 536.7,502.2 536.8,500.2 536.8,498.2 536.8,496.2 536.8,494.2 536.8,492.2 536.8,490.2 536.8,488.2 536.8,486.2 536.8,484.2 536.7,482.2 536.6,480.2 536.5,478.2 536.4,476.2 536.3,474.1 536.2,472.1 536.0,470.1 535.9,468.1 535.7,466.1 535.5,464.1 535.3,462.1 535.1,460.1 534.9,458.1 534.6,456.1 534.4,454.1 534.1,452.1 533.9,450.1 533.7,448.1 533.4,446.1 533.2,444.1 533.0,442.0 532.7,440.0 532.5,438.0 532.3,436.0 532.2,434.0 532.0,432.0 531.8,430.0 531.7,428.0 531.6,426.0 531.5,424.0 531.4,422.0 531.3,420.0 531.2,418.0 531.1,416.0 531.0,414.0 531.0,412.0 530.9,409.9 530.9,407.9 530.8,405.9 530.8,403.9 530.7,401.9 530.7,399.9 530.6,397.9 530.5,395.9 530.5,393.9 530.4,391.9 530.3,389.9 530.3,387.9 530.2,385.9 530.1,383.9 530.0,381.9 529.9,379.9 529.9,377.8 529.8,375.8 529.7,373.8 529.6,371.8 529.5,369.8 529.5,367.8 529.4,365.8 529.3,363.8 529.3,361.8 529.2,359.8 529.2,357.8 529.1,355.8 529.1,353.8 529.0,351.8 529.0,349.8 528.9,347.8 528.9,345.7 528.9,343.7 528.9,341.7 528.8,339.7 528.8,337.7 528.8,335.7 528.8,333.7 528.8,331.7 528.8,329.7 528.8,327.7 528.8,325.7 528.8,323.7 528.8,321.7 528.8,319.7" fill="#80E0FF" stroke="#6DD8FA" stroke-width="1" stroke-linejoin="round"/>
<polygon points="554.2,264.7 554.2,266.7 554.2,268.7 554.2,270.7 554.2,272.7 554.2,274.7 554.2,276.7 554.2,278.7 554.1,280.7 554.1,282.7 554.1,284.7 554.1,286.7 554.1,288.7 554.1,290.7 554.1,292.7 554.0,294.7 554.0,296.7 554.0,298.7 554.0,300.7 553.9,302.7 553.9,304.7 553.9,306.7 553.8,308.7 553.8,310.7 553.7,312.7 553.7,314.7 553.7,316.7 553.6,318.7 553.6,320.7 553.5,322.7 553.5,324.7 553.4,326.7 553.4,328.7 553.4,330.7 553.3,332.7 553.3,334.7 553.3,336.7 553.3,338.7 553.2,340.7 553.2,342.7 553.2,344.7 553.2,346.7 553.2,348.7 553.2,350.7 553.1,352.7 553.1,354.7 553.1,356.7 553.1,358.7 553.0,360.7 553.0,362.7 552.9,364.7 552.9,366.7 552.8,368.7 552.8,370.7 552.7,372.7 552.6,374.7 552.5,376.7 552.4,378.7 552.2,380.7 552.1,382.7 552.0,384.7 551.8,386.7 551.7,388.7 551.5,390.7 551.4,392.7 551.2,394.7 551.1,396.7 550.9,398.7 550.8,400.7 550.6,402.7 550.5,404.7 550.3,406.7 550.2,408.7 550.1,410.7 550.0,412.7 549.9,414.7 549.8,416.7 549.7,418.7 549.6,420.7 549.6,422.7 549.5,424.7 549.4,426.7 549.4,428.7 549.3,430.7 549.3,432.7 549.2,434.7 549.1,436.7 549.1,438.7 549.0,440.7 548.9,442.7 548.8,444.7 548.7,446.7 548.6,448.7 548.5,450.7 548.4,452.7 548.3,454.7 548.2,456.7 548.1,458.7 548.0,460.7 547.9,462.7 547.7,464.7 547.6,466.7 547.5,468.7 547.4,470.7 547.3,472.7 547.2,474.7 547.2,476.7 547.1,478.7 547.1,480.7 547.1,482.7 547.1,484.7 547.1,486.7 547.1,488.7 547.2,490.7 547.3,492.7 547.4,494.7 547.5,496.7 547.6,498.7 547.8,500.7 547.9,502.7 548.1,504.7 548.3,506.7 548.5,508.7 548.7,510.7 548.9,512.7 549.1,514.7 549.3,516.8 549.5,518.8 549.7,520.8 549.9,522.8 550.1,524.8 550.3,526.8 550.5,528.8 550.7,530.8 550.8,532.8 551.0,534.8 551.1,536.8 551.3,538.8 551.4,540.8 551.6,542.8 551.7,544.8 551.8,546.8 551.9,548.8 552.0,550.8 552.1,552.8 552.2,554.8 552.3,556.8 552.4,558.8 552.5,560.8 552.6,562.8 552.7,564.8 552.8,566.8 552.8,568.8 552.9,570.8 553.0,572.8 553.1,574.8 553.2,576.8 553.2,578.8 553.3,580.8 553.4,582.8 553.5,584.8 553.5,586.8 553.6,588.8 553.6,590.8 553.7,592.8 553.8,594.8 553.8,596.8 553.8,598.8 553.9,600.8 553.9,602.8 554.0,604.8 554.0,606.8 554.0,608.8 554.0,610.8 554.1,612.8 554.1,614.8 554.1,616.8 554.1,618.8 554.1,620.8 554.1,622.8 554.2,624.8 554.2,626.8 554.2,628.8 554.2,630.8 554.2,632.8 554.2,634.8 554.2,636.8 554.2,638.8 554.2,638.8 554.2,636.8 554.2,634.8 554.2,632.8 554.2,630.8 554.2,628.8 554.2,626.8 554.2,624.8 554.3,622.8 554.3,620.8 554.3,618.8 554.3,616.8 554.3,614.8 554.3,612.8 554.4,610.8 554.4,608.8 554.4,606.8 554.4,604.8 554.5,602.8 554.5,600.8 554.6,598.8 554.6,596.8 554.6,594.8 554.7,592.8 554.8,590.8 554.8,588.8 554.9,586.8 554.9,584.8 555.0,582.8 555.1,580.8 555.2,578.8 555.2,576.8 555.3,574.8 555.4,572.8 555.5,570.8 555.6,568.8 555.6,566.8 555.7,564.8 555.8,562.8 555.9,560.8 556.0,558.8 556.1,556.8 556.2,554.8 556.3,552.8 556.4,550.8 556.5,548.8 556.6,546.8 556.7,544.8 556.8,542.8 557.0,540.8 557.1,538.8 557.3,536.8 557.4,534.8 557.6,532.8 557.7,530.8 557.9,528.8 558.1,526.8 558.3,524.8 558.5,522.8 558.7,520.8 558.9,518.8 559.1,516.8 559.3,514.7 559.5,512.7 559.7,510.7 559.9,508.7 560.1,506.7 560.3,504.7 560.5,502.7 560.6,500.7 560.8,498.7 560.9,496.7 561.0,494.7 561.1,492.7 561.2,490.7 561.3,488.7 561.3,486.7 561.3,484.7 561.3,482.7 561.3,480.7 561.3,478.7 561.2,476.7 561.2,474.7 561.1,472.7 561.0,470.7 560.9,468.7 560.8,466.7 560.7,464.7 560.5,462.7 560.4,460.7 560.3,458.7 560.2,456.7 560.1,454.7 560.0,452.7 559.9,450.7 559.8,448.7 559.7,446.7 559.6,444.7 559.5,442.7 559.4,440.7 559.3,438.7 559.3,436.7 559.2,434.7 559.1,432.7 559.1,430.7 559.0,428.7 559.0,426.7 558.9,424.7 558.8,422.7 558.8,420.7 558.7,418.7 558.6,416.7 558.5,414.7 558.4,412.7 558.3,410.7 558.2,408.7 558.1,406.7 557.9,404.7 557.8,402.7 557.6,400.7 557.5,398.7 557.3,396.7 557.2,394.7 557.0,392.7 556.9,390.7 556.7,388.7 556.6,386.7 556.4,384.7 556.3,382.7 556.2,380.7 556.0,378.7 555.9,376.7 555.8,374.7 555.7,372.7 555.6,370.7 555.6,368.7 555.5,366.7 555.5,364.7 555.4,362.7 555.4,360.7 555.3,358.7 555.3,356.7 555.3,354.7 555.3,352.7 555.2,350.7 555.2,348.7 555.2,346.7 555.2,344.7 555.2,342.7 555.2,340.7 555.1,338.7 555.1,336.7 555.1,334.7 555.1,332.7 555.0,330.7 555.0,328.7 555.0,326.7 554.9,324.7 554.9,322.7 554.8,320.7 554.8,318.7 554.7,316.7 554.7,314.7 554.7,312.7 554.6,310.7 554.6,308.7 554.5,306.7 554.5,304.7 554.5,302.7 554.4,300.7 554.4,298.7 554.4,296.7 554.4,294.7 554.3,292.7 554.3,290.7 554.3,288.7 554.3,286.7 554.3,284.7 554.3,282.7 554.3,280.7 554.2,278.7 554.2,276.7 554.2,274.7 554.2,272.7 554.2,270.7 554.2,268.7 554.2,266.7 554.2,264.7" fill="#80E0FF" stroke="#6DD8FA" stroke-width="1" stroke-linejoin="round"/>
<polygon points="600.7,343.7 600.7,345.7 600.7,347.7 600.7,349.7 600.7,351.7 600.7,353.7 600.7,355.7 600.7,357.7 600.7,359.7 600.7,361.7 600.7,363.7 600.6,365.7 600.6,367.7 600.6,369.7 600.6,371.7 600.5,373.7 600.5,375.7 600.5,377.7 600.4,379.7 600.4,381.7 600.3,383.7 600.3,385.7 600.2,387.7 600.1,389.7 600.1,391.7 600.0,393.7 599.9,395.7 599.8,397.7 599.8,399.7 599.7,401.7 599.6,403.7 599.5,405.7 599.4,407.7 599.3,409.7 599.3,411.7 599.2,413.7 599.1,415.7 599.0,417.7 599.0,419.7 598.9,421.7 598.8,423.7 598.8,425.7 598.7,427.7 598.7,429.7 598.6,431.7 598.6,433.7 598.6,435.7 598.5,437.7 598.5,439.7 598.5,441.7 598.4,443.7 598.4,445.7 598.4,447.6 598.3,449.6 598.3,451.6 598.3,453.6 598.2,455.6 598.2,457.6 598.1,459.6 598.0,461.6 597.9,463.6 597.9,465.6 597.8,467.6 597.6,469.6 597.5,471.6 597.4,473.6 597.2,475.6 597.1,477.6 596.9,479.6 596.8,481.6 596.6,483.6 596.4,485.6 596.2,487.6 596.0,489.6 595.7,491.6 595.5,493.6 595.3,495.6 595.0,497.6 594.8,499.6 594.5,501.6 594.2,503.6 594.0,505.6 593.7,507.6 593.4,509.6 593.2,511.6 592.9,513.6 592.6,515.6 592.4,517.6 592.2,519.6 591.9,521.6 591.7,523.6 591.5,525.6 591.4,527.6 591.2,529.6 591.1,531.6 591.1,533.6 591.0,535.6 591.0,537.6 591.0,539.6 591.1,541.6 591.2,543.6 591.4,545.6 591.6,547.6 591.8,549.6 592.0,551.6 592.3,553.6 592.6,555.6 593.0,557.6 593.3,559.6 593.7,561.6 594.1,563.6 594.5,565.6 594.9,567.6 595.3,569.6 595.7,571.6 596.1,573.6 596.5,575.6 596.9,577.6 597.3,579.6 597.6,581.6 597.9,583.6 598.2,585.6 598.5,587.6 598.8,589.6 599.0,591.6 599.2,593.6 599.4,595.6 599.6,597.6 599.8,599.6 599.9,601.6 600.0,603.6 600.2,605.6 600.3,607.6 600.3,609.6 600.4,611.6 600.5,613.6 600.5,615.6 600.6,617.6 600.6,619.6 600.6,621.6 600.6,623.6 600.7,625.6 600.7,627.6 600.7,629.6 600.7,631.6 600.7,633.6 600.7,635.6 600.8,635.6 600.8,633.6 600.8,631.6 600.8,629.6 600.8,627.6 600.8,625.6 600.9,623.6 600.9,621.6 600.9,619.6 600.9,617.6 601.0,615.6 601.0,613.6 601.1,611.6 601.2,609.6 601.2,607.6 601.3,605.6 601.5,603.6 601.6,601.6 601.7,599.6 601.9,597.6 602.1,595.6 602.3,593.6 602.5,591.6 602.7,589.6 603.0,587.6 603.3,585.6 603.6,583.6 603.9,581.6 604.2,579.6 604.6,577.6 605.0,575.6 605.4,573.6 605.8,571.6 606.2,569.6 606.6,567.6 607.0,565.6 607.4,563.6 607.8,561.6 608.2,559.6 608.5,557.6 608.9,555.6 609.2,553.6 609.5,551.6 609.7,549.6 609.9,547.6 610.1,545.6 610.3,543.6 610.4,541.6 610.5,539.6 610.5,537.6 610.5,535.6 610.4,533.6 610.4,531.6 610.3,529.6 610.1,527.6 610.0,525.6 609.8,523.6 609.6,521.6 609.3,519.6 609.1,517.6 608.9,515.6 608.6,513.6 608.3,511.6 608.1,509.6 607.8,507.6 607.5,505.6 607.3,503.6 607.0,501.6 606.7,499.6 606.5,497.6 606.2,495.6 606.0,493.6 605.8,491.6 605.5,489.6 605.3,487.6 605.1,485.6 604.9,483.6 604.7,481.6 604.6,479.6 604.4,477.6 604.3,475.6 604.1,473.6 604.0,471.6 603.9,469.6 603.7,467.6 603.6,465.6 603.6,463.6 603.5,461.6 603.4,459.6 603.3,457.6 603.3,455.6 603.2,453.6 603.2,451.6 603.2,449.6 603.1,447.6 603.1,445.7 603.1,443.7 603.0,441.7 603.0,439.7 603.0,437.7 602.9,435.7 602.9,433.7 602.9,431.7 602.8,429.7 602.8,427.7 602.7,425.7 602.7,423.7 602.6,421.7 602.5,419.7 602.5,417.7 602.4,415.7 602.3,413.7 602.2,411.7 602.2,409.7 602.1,407.7 602.0,405.7 601.9,403.7 601.8,401.7 601.7,399.7 601.7,397.7 601.6,395.7 601.5,393.7 601.4,391.7 601.4,389.7 601.3,387.7 601.2,385.7 601.2,383.7 601.1,381.7 601.1,379.7 601.0,377.7 601.0,375.7 601.0,373.7 600.9,371.7 600.9,369.7 600.9,367.7 600.9,365.7 600.8,363.7 600.8,361.7 600.8,359.7 600.8,357.7 600.8,355.7 600.8,353.7 600.8,351.7 600.8,349.7 600.8,347.7 600.8,345.7 600.8,343.7" fill="#66DCFF" stroke="#58D2F7" stroke-width="1" stroke-linejoin="round"/>
<polygon points="626.2,282.0 626.2,284.0 626.2,286.0 626.2,288.0 626.2,290.0 626.2,292.0 626.2,294.0 626.2,296.0 626.1,298.0 626.1,300.0 626.1,302.0 626.1,304.0 626.1,306.0 626.1,308.0 626.1,310.0 626.0,312.0 626.0,314.0 626.0,316.0 626.0,318.0 625.9,320.0 625.9,322.0 625.9,324.0 625.8,326.0 625.8,328.0 625.7,330.0 625.7,332.0 625.7,334.0 625.6,336.0 625.6,338.0 625.5,340.0 625.5,342.0 625.5,344.0 625.4,346.0 625.4,348.0 625.4,350.0 625.3,352.0 625.3,354.0 625.3,356.0 625.3,358.0 625.3,360.0 625.3,362.0 625.3,364.0 625.3,366.0 625.3,368.0 625.3,370.0 625.3,372.0 625.3,374.0 625.3,376.0 625.3,378.0 625.3,380.0 625.3,382.0 625.2,384.0 625.2,386.0 625.2,388.0 625.2,390.0 625.1,392.0 625.1,394.0 625.0,396.0 624.9,398.0 624.9,400.0 624.8,402.0 624.7,404.0 624.6,406.0 624.5,408.0 624.4,410.0 624.2,412.0 624.1,414.0 624.0,416.0 623.8,418.0 623.7,420.0 623.5,422.0 623.4,424.0 623.2,426.0 623.1,428.0 622.9,430.0 622.8,432.0 622.6,434.0 622.4,436.0 622.3,438.0 622.1,440.0 622.0,442.0 621.8,444.0 621.7,446.0 621.6,448.0 621.4,450.0 621.3,452.0 621.2,454.0 621.1,456.0 621.0,458.0 620.9,460.0 620.8,462.0 620.7,464.0 620.6,466.0 620.6,468.0 620.5,470.0 620.5,472.0 620.5,474.0 620.4,476.0 620.4,478.0 620.4,480.0 620.4,482.0 620.4,484.0 620.5,486.0 620.5,488.0 620.5,490.0 620.5,492.0 620.6,494.0 620.6,496.0 620.6,498.0 620.6,500.0 620.6,502.0 620.6,504.0 620.6,506.0 620.6,508.0 620.6,510.0 620.5,512.0 620.5,514.0 620.4,516.0 620.4,518.0 620.3,520.0 620.3,522.0 620.2,524.0 620.2,526.0 620.1,528.0 620.1,530.0 620.0,532.0 620.0,534.0 620.0,536.0 620.0,538.0 620.0,540.0 620.0,542.0 620.1,544.0 620.1,546.0 620.2,548.0 620.3,550.0 620.5,552.0 620.6,554.0 620.8,556.0 621.0,558.0 621.2,560.0 621.4,562.0 621.6,564.0 621.9,566.0 622.1,568.0 622.3,570.0 622.6,572.0 622.8,574.0 623.1,576.0 623.3,578.0 623.6,580.0 623.8,582.0 624.0,584.0 624.2,586.0 624.4,588.0 624.6,590.0 624.8,592.0 625.0,594.0 625.1,596.0 625.3,598.0 625.4,600.0 625.5,602.0 625.6,604.0 625.7,606.0 625.8,608.0 625.8,610.0 625.9,612.0 625.9,614.0 626.0,616.0 626.0,618.0 626.0,620.0 626.1,622.0 626.1,624.0 626.1,626.0 626.1,628.0 626.1,630.0 626.2,632.0 626.2,634.0 626.2,636.0 626.2,636.0 626.2,634.0 626.2,632.0 626.3,630.0 626.3,628.0 626.3,626.0 626.3,624.0 626.3,622.0 626.4,620.0 626.4,618.0 626.4,616.0 626.5,614.0 626.5,612.0 626.6,610.0 626.6,608.0 626.7,606.0 626.8,604.0 626.9,602.0 627.0,600.0 627.1,598.0 627.3,596.0 627.4,594.0 627.6,592.0 627.8,590.0 628.0,588.0 628.2,586.0 628.4,584.0 628.6,582.0 628.8,580.0 629.1,578.0 629.3,576.0 629.6,574.0 629.8,572.0 630.1,570.0 630.3,568.0 630.5,566.0 630.8,564.0 631.0,562.0 631.2,560.0 631.4,558.0 631.6,556.0 631.8,554.0 631.9,552.0 632.1,550.0 632.2,548.0 632.3,546.0 632.3,544.0 632.4,542.0 632.4,540.0 632.4,538.0 632.4,536.0 632.4,534.0 632.4,532.0 632.3,530.0 632.3,528.0 632.2,526.0 632.2,524.0 632.1,522.0 632.1,520.0 632.0,518.0 632.0,516.0 631.9,514.0 631.9,512.0 631.8,510.0 631.8,508.0 631.8,506.0 631.8,504.0 631.8,502.0 631.8,500.0 631.8,498.0 631.8,496.0 631.8,494.0 631.9,492.0 631.9,490.0 631.9,488.0 631.9,486.0 632.0,484.0 632.0,482.0 632.0,480.0 632.0,478.0 632.0,476.0 631.9,474.0 631.9,472.0 631.9,470.0 631.8,468.0 631.8,466.0 631.7,464.0 631.6,462.0 631.5,460.0 631.4,458.0 631.3,456.0 631.2,454.0 631.1,452.0 631.0,450.0 630.8,448.0 630.7,446.0 630.6,444.0 630.4,442.0 630.3,440.0 630.1,438.0 630.0,436.0 629.8,434.0 629.6,432.0 629.5,430.0 629.3,428.0 629.2,426.0 629.0,424.0 628.9,422.0 628.7,420.0 628.6,418.0 628.4,416.0 628.3,414.0 628.2,412.0 628.0,410.0 627.9,408.0 627.8,406.0 627.7,404.0 627.6,402.0 627.5,400.0 627.5,398.0 627.4,396.0 627.3,394.0 627.3,392.0 627.2,390.0 627.2,388.0 627.2,386.0 627.2,384.0 627.1,382.0 627.1,380.0 627.1,378.0 627.1,376.0 627.1,374.0 627.1,372.0 627.1,370.0 627.1,368.0 627.1,366.0 627.1,364.0 627.1,362.0 627.1,360.0 627.1,358.0 627.1,356.0 627.1,354.0 627.1,352.0 627.0,350.0 627.0,348.0 627.0,346.0 626.9,344.0 626.9,342.0 626.9,340.0 626.8,338.0 626.8,336.0 626.7,334.0 626.7,332.0 626.7,330.0 626.6,328.0 626.6,326.0 626.5,324.0 626.5,322.0 626.5,320.0 626.4,318.0 626.4,316.0 626.4,314.0 626.4,312.0 626.3,310.0 626.3,308.0 626.3,306.0 626.3,304.0 626.3,302.0 626.3,300.0 626.3,298.0 626.2,296.0 626.2,294.0 626.2,292.0 626.2,290.0 626.2,288.0 626.2,286.0 626.2,284.0 626.2,282.0" fill="#66DCFF" stroke="#58D2F7" stroke-width="1" stroke-linejoin="round"/>
<polygon points="651.6,256.3 651.6,258.3 651.6,260.3 651.6,262.3 651.6,264.3 651.6,266.3 651.6,268.3 651.6,270.3 651.6,272.3 651.6,274.4 651.6,276.4 651.6,278.4 651.5,280.4 651.5,282.4 651.5,284.4 651.5,286.4 651.5,288.4 651.4,290.4 651.4,292.4 651.4,294.4 651.3,296.4 651.3,298.4 651.3,300.4 651.2,302.4 651.2,304.4 651.1,306.4 651.1,308.4 651.0,310.4 651.0,312.4 651.0,314.4 650.9,316.4 650.9,318.4 650.8,320.4 650.8,322.4 650.8,324.4 650.7,326.4 650.7,328.4 650.7,330.4 650.6,332.4 650.6,334.4 650.6,336.4 650.6,338.4 650.6,340.4 650.6,342.4 650.5,344.4 650.5,346.4 650.5,348.4 650.5,350.4 650.5,352.4 650.5,354.4 650.5,356.4 650.5,358.4 650.5,360.4 650.5,362.4 650.5,364.4 650.5,366.4 650.5,368.4 650.5,370.4 650.4,372.4 650.4,374.4 650.4,376.4 650.4,378.4 650.4,380.4 650.4,382.4 650.4,384.4 650.3,386.4 650.3,388.4 650.3,390.4 650.3,392.4 650.2,394.4 650.2,396.4 650.2,398.4 650.1,400.4 650.1,402.4 650.0,404.4 650.0,406.4 649.9,408.4 649.9,410.4 649.8,412.4 649.7,414.4 649.6,416.4 649.5,418.4 649.4,420.4 649.3,422.4 649.2,424.4 649.1,426.4 649.0,428.4 648.9,430.4 648.8,432.4 648.6,434.4 648.5,436.4 648.4,438.4 648.2,440.4 648.0,442.4 647.9,444.4 647.7,446.4 647.5,448.4 647.3,450.4 647.1,452.4 646.9,454.4 646.7,456.4 646.5,458.4 646.3,460.4 646.1,462.4 645.9,464.4 645.7,466.5 645.5,468.5 645.3,470.5 645.1,472.5 644.9,474.5 644.7,476.5 644.6,478.5 644.4,480.5 644.3,482.5 644.2,484.5 644.1,486.5 644.0,488.5 643.9,490.5 643.8,492.5 643.8,494.5 643.8,496.5 643.7,498.5 643.7,500.5 643.7,502.5 643.8,504.5 643.8,506.5 643.8,508.5 643.9,510.5 644.0,512.5 644.1,514.5 644.2,516.5 644.3,518.5 644.4,520.5 644.6,522.5 644.7,524.5 644.9,526.5 645.1,528.5 645.3,530.5 645.5,532.5 645.8,534.5 646.0,536.5 646.3,538.5 646.5,540.5 646.8,542.5 647.1,544.5 647.3,546.5 647.6,548.5 647.9,550.5 648.2,552.5 648.4,554.5 648.7,556.5 648.9,558.5 649.2,560.5 649.4,562.5 649.6,564.5 649.8,566.5 650.0,568.5 650.2,570.5 650.4,572.5 650.5,574.5 650.7,576.5 650.8,578.5 650.9,580.5 651.0,582.5 651.1,584.5 651.2,586.5 651.3,588.5 651.3,590.5 651.4,592.5 651.4,594.5 651.5,596.5 651.5,598.5 651.5,600.5 651.5,602.5 651.6,604.5 651.6,606.5 651.6,608.5 651.6,610.5 651.6,612.5 651.6,614.5 651.7,614.5 651.7,612.5 651.7,610.5 651.7,608.5 651.7,606.5 651.7,604.5 651.8,602.5 651.8,600.5 651.8,598.5 651.8,596.5 651.9,594.5 651.9,592.5 652.0,590.5 652.0,588.5 652.1,586.5 652.2,584.5 652.3,582.5 652.4,580.5 652.5,578.5 652.6,576.5 652.8,574.5 652.9,572.5 653.1,570.5 653.3,568.5 653.5,566.5 653.7,564.5 653.9,562.5 654.1,560.5 654.4,558.5 654.6,556.5 654.9,554.5 655.1,552.5 655.4,550.5 655.7,548.5 656.0,546.5 656.2,544.5 656.5,542.5 656.8,540.5 657.0,538.5 657.3,536.5 657.5,534.5 657.8,532.5 658.0,530.5 658.2,528.5 658.4,526.5 658.6,524.5 658.7,522.5 658.9,520.5 659.0,518.5 659.1,516.5 659.2,514.5 659.3,512.5 659.4,510.5 659.5,508.5 659.5,506.5 659.5,504.5 659.6,502.5 659.6,500.5 659.6,498.5 659.5,496.5 659.5,494.5 659.5,492.5 659.4,490.5 659.3,488.5 659.2,486.5 659.1,484.5 659.0,482.5 658.9,480.5 658.7,478.5 658.6,476.5 658.4,474.5 658.2,472.5 658.0,470.5 657.8,468.5 657.6,466.5 657.4,464.4 657.2,462.4 657.0,460.4 656.8,458.4 656.6,456.4 656.4,454.4 656.2,452.4 656.0,450.4 655.8,448.4 655.6,446.4 655.4,444.4 655.3,442.4 655.1,440.4 654.9,438.4 654.8,436.4 654.7,434.4 654.5,432.4 654.4,430.4 654.3,428.4 654.2,426.4 654.1,424.4 654.0,422.4 653.9,420.4 653.8,418.4 653.7,416.4 653.6,414.4 653.5,412.4 653.4,410.4 653.4,408.4 653.3,406.4 653.3,404.4 653.2,402.4 653.2,400.4 653.1,398.4 653.1,396.4 653.1,394.4 653.0,392.4 653.0,390.4 653.0,388.4 653.0,386.4 652.9,384.4 652.9,382.4 652.9,380.4 652.9,378.4 652.9,376.4 652.9,374.4 652.9,372.4 652.8,370.4 652.8,368.4 652.8,366.4 652.8,364.4 652.8,362.4 652.8,360.4 652.8,358.4 652.8,356.4 652.8,354.4 652.8,352.4 652.8,350.4 652.8,348.4 652.8,346.4 652.8,344.4 652.7,342.4 652.7,340.4 652.7,338.4 652.7,336.4 652.7,334.4 652.7,332.4 652.6,330.4 652.6,328.4 652.6,326.4 652.5,324.4 652.5,322.4 652.5,320.4 652.4,318.4 652.4,316.4 652.3,314.4 652.3,312.4 652.3,310.4 652.2,308.4 652.2,306.4 652.1,304.4 652.1,302.4 652.0,300.4 652.0,298.4 652.0,296.4 651.9,294.4 651.9,292.4 651.9,290.4 651.8,288.4 651.8,286.4 651.8,284.4 651.8,282.4 651.8,280.4 651.7,278.4 651.7,276.4 651.7,274.4 651.7,272.3 651.7,270.3 651.7,268.3 651.7,266.3 651.7,264.3 651.7,262.3 651.7,260.3 651.7,258.3 651.7,256.3" fill="#66DCFF" stroke="#58D2F7" stroke-width="1" stroke-linejoin="round"/>
<polygon points="698.2,380.0 698.2,382.0 698.2,384.0 698.2,386.0 698.2,388.0 698.2,390.0 698.2,392.0 698.2,394.0 698.1,396.0 698.1,398.0 698.1,400.0 698.1,402.0 698.1,404.0 698.1,405.9 698.0,407.9 698.0,409.9 698.0,411.9 697.9,413.9 697.9,415.9 697.9,417.9 697.8,419.9 697.8,421.9 697.7,423.9 697.6,425.9 697.6,427.9 697.5,429.9 697.4,431.9 697.3,433.9 697.2,435.9 697.1,437.9 697.0,439.9 696.9,441.9 696.7,443.9 696.6,445.9 696.4,447.9 696.3,449.9 696.1,451.9 695.9,453.9 695.7,455.9 695.5,457.9 695.3,459.9 695.1,461.9 694.9,463.9 694.7,465.9 694.4,467.9 694.2,469.9 693.9,471.9 693.6,473.9 693.4,475.8 693.1,477.8 692.8,479.8 692.5,481.8 692.2,483.8 692.0,485.8 691.7,487.8 691.4,489.8 691.1,491.8 690.9,493.8 690.6,495.8 690.4,497.8 690.1,499.8 689.9,501.8 689.7,503.8 689.5,505.8 689.3,507.8 689.1,509.8 688.9,511.8 688.8,513.8 688.6,515.8 688.5,517.8 688.4,519.8 688.3,521.8 688.3,523.8 688.2,525.8 688.2,527.8 688.2,529.8 688.2,531.8 688.3,533.8 688.3,535.8 688.4,537.8 688.6,539.8 688.7,541.8 688.9,543.8 689.1,545.8 689.4,547.7 689.7,549.7 690.0,551.7 690.3,553.7 690.6,555.7 691.0,557.7 691.4,559.7 691.7,561.7 692.1,563.7 692.5,565.7 692.9,567.7 693.3,569.7 693.7,571.7 694.1,573.7 694.4,575.7 694.8,577.7 695.1,579.7 695.4,581.7 695.7,583.7 696.0,585.7 696.3,587.7 696.5,589.7 696.7,591.7 696.9,593.7 697.1,595.7 697.2,597.7 697.4,599.7 697.5,601.7 697.6,603.7 697.7,605.7 697.8,607.7 697.9,609.7 697.9,611.7 698.0,613.7 698.0,615.7 698.0,617.6 698.1,619.6 698.1,621.6 698.1,623.6 698.1,625.6 698.2,627.6 698.2,629.6 698.2,631.6 698.2,631.6 698.2,629.6 698.2,627.6 698.3,625.6 698.3,623.6 698.3,621.6 698.3,619.6 698.4,617.6 698.4,615.7 698.4,613.7 698.5,611.7 698.5,609.7 698.6,607.7 698.7,605.7 698.8,603.7 698.9,601.7 699.0,599.7 699.2,597.7 699.3,595.7 699.5,593.7 699.7,591.7 699.9,589.7 700.1,587.7 700.4,585.7 700.7,583.7 701.0,581.7 701.3,579.7 701.6,577.7 702.0,575.7 702.3,573.7 702.7,571.7 703.1,569.7 703.5,567.7 703.9,565.7 704.3,563.7 704.7,561.7 705.0,559.7 705.4,557.7 705.8,555.7 706.1,553.7 706.4,551.7 706.7,549.7 707.0,547.7 707.3,545.8 707.5,543.8 707.7,541.8 707.8,539.8 708.0,537.8 708.1,535.8 708.1,533.8 708.2,531.8 708.2,529.8 708.2,527.8 708.2,525.8 708.1,523.8 708.1,521.8 708.0,519.8 707.9,517.8 707.8,515.8 707.6,513.8 707.5,511.8 707.3,509.8 707.1,507.8 706.9,505.8 706.7,503.8 706.5,501.8 706.3,499.8 706.0,497.8 705.8,495.8 705.5,493.8 705.3,491.8 705.0,489.8 704.7,487.8 704.4,485.8 704.2,483.8 703.9,481.8 703.6,479.8 703.3,477.8 703.0,475.8 702.8,473.9 702.5,471.9 702.2,469.9 702.0,467.9 701.7,465.9 701.5,463.9 701.3,461.9 701.1,459.9 700.9,457.9 700.7,455.9 700.5,453.9 700.3,451.9 700.1,449.9 700.0,447.9 699.8,445.9 699.7,443.9 699.5,441.9 699.4,439.9 699.3,437.9 699.2,435.9 699.1,433.9 699.0,431.9 698.9,429.9 698.8,427.9 698.8,425.9 698.7,423.9 698.6,421.9 698.6,419.9 698.5,417.9 698.5,415.9 698.5,413.9 698.4,411.9 698.4,409.9 698.4,407.9 698.3,405.9 698.3,404.0 698.3,402.0 698.3,400.0 698.3,398.0 698.3,396.0 698.2,394.0 698.2,392.0 698.2,390.0 698.2,388.0 698.2,386.0 698.2,384.0 698.2,382.0 698.2,380.0" fill="#4DD9FF" stroke="#2E9DBA" stroke-width="1" stroke-linejoin="round"/>
<polygon points="723.6,314.6 723.6,316.6 723.6,318.6 723.6,320.6 723.6,322.6 723.6,324.6 723.6,326.6 723.6,328.6 723.6,330.6 723.6,332.6 723.6,334.6 723.5,336.6 723.5,338.6 723.5,340.6 723.5,342.6 723.4,344.6 723.4,346.6 723.3,348.6 723.3,350.6 723.2,352.7 723.2,354.7 723.1,356.7 723.0,358.7 723.0,360.7 722.9,362.7 722.8,364.7 722.7,366.7 722.6,368.7 722.5,370.7 722.4,372.7 722.3,374.7 722.2,376.7 722.1,378.7 722.0,380.7 721.9,382.7 721.7,384.7 721.6,386.7 721.5,388.7 721.4,390.7 721.3,392.7 721.2,394.7 721.1,396.7 721.0,398.7 720.9,400.7 720.8,402.7 720.7,404.7 720.6,406.8 720.5,408.8 720.5,410.8 720.4,412.8 720.3,414.8 720.2,416.8 720.2,418.8 720.1,420.8 720.0,422.8 720.0,424.8 719.9,426.8 719.9,428.8 719.8,430.8 719.7,432.8 719.7,434.8 719.6,436.8 719.6,438.8 719.6,440.8 719.5,442.8 719.5,444.8 719.5,446.8 719.4,448.8 719.4,450.8 719.4,452.8 719.4,454.8 719.4,456.8 719.3,458.8 719.3,460.9 719.3,462.9 719.3,464.9 719.3,466.9 719.2,468.9 719.2,470.9 719.1,472.9 719.1,474.9 719.0,476.9 718.9,478.9 718.9,480.9 718.8,482.9 718.7,484.9 718.6,486.9 718.4,488.9 718.3,490.9 718.2,492.9 718.0,494.9 717.9,496.9 717.7,498.9 717.5,500.9 717.4,502.9 717.2,504.9 717.0,506.9 716.9,508.9 716.7,510.9 716.6,512.9 716.5,515.0 716.4,517.0 716.3,519.0 716.2,521.0 716.2,523.0 716.2,525.0 716.2,527.0 716.2,529.0 716.3,531.0 716.3,533.0 716.5,535.0 716.6,537.0 716.8,539.0 716.9,541.0 717.2,543.0 717.4,545.0 717.6,547.0 717.9,549.0 718.2,551.0 718.5,553.0 718.8,555.0 719.1,557.0 719.4,559.0 719.7,561.0 720.0,563.0 720.2,565.0 720.5,567.1 720.8,569.1 721.1,571.1 721.3,573.1 721.6,575.1 721.8,577.1 722.0,579.1 722.2,581.1 722.4,583.1 722.5,585.1 722.7,587.1 722.8,589.1 722.9,591.1 723.0,593.1 723.1,595.1 723.2,597.1 723.3,599.1 723.3,601.1 723.4,603.1 723.4,605.1 723.5,607.1 723.5,609.1 723.5,611.1 723.5,613.1 723.6,615.1 723.6,617.1 723.6,619.1 723.6,621.2 723.6,623.2 723.6,625.2 723.7,625.2 723.7,623.2 723.7,621.2 723.7,619.1 723.7,617.1 723.7,615.1 723.8,613.1 723.8,611.1 723.8,609.1 723.8,607.1 723.9,605.1 723.9,603.1 724.0,601.1 724.0,599.1 724.1,597.1 724.2,595.1 724.3,593.1 724.4,591.1 724.5,589.1 724.6,587.1 724.8,585.1 724.9,583.1 725.1,581.1 725.3,579.1 725.5,577.1 725.7,575.1 726.0,573.1 726.2,571.1 726.5,569.1 726.8,567.1 727.1,565.0 727.3,563.0 727.6,561.0 727.9,559.0 728.2,557.0 728.5,555.0 728.8,553.0 729.1,551.0 729.4,549.0 729.7,547.0 729.9,545.0 730.1,543.0 730.4,541.0 730.5,539.0 730.7,537.0 730.8,535.0 731.0,533.0 731.0,531.0 731.1,529.0 731.1,527.0 731.1,525.0 731.1,523.0 731.1,521.0 731.0,519.0 730.9,517.0 730.8,515.0 730.7,512.9 730.6,510.9 730.4,508.9 730.3,506.9 730.1,504.9 729.9,502.9 729.8,500.9 729.6,498.9 729.4,496.9 729.3,494.9 729.1,492.9 729.0,490.9 728.9,488.9 728.7,486.9 728.6,484.9 728.5,482.9 728.4,480.9 728.4,478.9 728.3,476.9 728.2,474.9 728.2,472.9 728.1,470.9 728.1,468.9 728.0,466.9 728.0,464.9 728.0,462.9 728.0,460.9 728.0,458.8 727.9,456.8 727.9,454.8 727.9,452.8 727.9,450.8 727.9,448.8 727.8,446.8 727.8,444.8 727.8,442.8 727.7,440.8 727.7,438.8 727.7,436.8 727.6,434.8 727.6,432.8 727.5,430.8 727.4,428.8 727.4,426.8 727.3,424.8 727.3,422.8 727.2,420.8 727.1,418.8 727.1,416.8 727.0,414.8 726.9,412.8 726.8,410.8 726.8,408.8 726.7,406.8 726.6,404.7 726.5,402.7 726.4,400.7 726.3,398.7 726.2,396.7 726.1,394.7 726.0,392.7 725.9,390.7 725.8,388.7 725.7,386.7 725.6,384.7 725.4,382.7 725.3,380.7 725.2,378.7 725.1,376.7 725.0,374.7 724.9,372.7 724.8,370.7 724.7,368.7 724.6,366.7 724.5,364.7 724.4,362.7 724.3,360.7 724.3,358.7 724.2,356.7 724.1,354.7 724.1,352.7 724.0,350.6 724.0,348.6 723.9,346.6 723.9,344.6 723.8,342.6 723.8,340.6 723.8,338.6 723.8,336.6 723.7,334.6 723.7,332.6 723.7,330.6 723.7,328.6 723.7,326.6 723.7,324.6 723.7,322.6 723.7,320.6 723.7,318.6 723.7,316.6 723.7,314.6" fill="#4DD9FF" stroke="#2E9DBA" stroke-width="1" stroke-linejoin="round"/>
<polygon points="749.1,234.1 749.1,236.1 749.1,238.1 749.1,240.1 749.1,242.1 749.1,244.1 749.1,246.1 749.1,248.1 749.0,250.1 749.0,252.1 749.0,254.1 749.0,256.1 749.0,258.1 749.0,260.1 748.9,262.1 748.9,264.1 748.9,266.1 748.8,268.1 748.8,270.1 748.8,272.1 748.7,274.1 748.7,276.1 748.6,278.1 748.6,280.0 748.5,282.0 748.4,284.0 748.4,286.0 748.3,288.0 748.2,290.0 748.2,292.0 748.1,294.0 748.0,296.0 747.9,298.0 747.9,300.0 747.8,302.0 747.8,304.0 747.7,306.0 747.7,308.0 747.6,310.0 747.6,312.0 747.5,314.0 747.5,316.0 747.5,318.0 747.5,320.0 747.5,322.0 747.5,324.0 747.5,326.0 747.6,328.0 747.6,330.0 747.6,332.0 747.7,334.0 747.7,336.0 747.7,338.0 747.8,340.0 747.8,342.0 747.9,344.0 747.9,346.0 747.9,348.0 748.0,350.0 748.0,352.0 748.0,354.0 748.1,356.0 748.1,358.0 748.1,360.0 748.1,362.0 748.1,364.0 748.1,366.0 748.0,368.0 748.0,370.0 748.0,372.0 747.9,374.0 747.9,376.0 747.9,378.0 747.8,380.0 747.8,382.0 747.7,384.0 747.7,386.0 747.6,388.0 747.5,390.0 747.5,392.0 747.4,394.0 747.4,396.0 747.3,398.0 747.3,400.0 747.2,402.0 747.2,404.0 747.1,406.0 747.0,408.0 747.0,410.0 746.9,412.0 746.8,414.0 746.7,416.0 746.7,418.0 746.6,420.0 746.5,422.0 746.4,424.0 746.3,426.0 746.1,428.0 746.0,430.0 745.9,432.0 745.7,434.0 745.6,436.0 745.4,438.0 745.3,440.0 745.1,442.0 745.0,444.0 744.8,446.0 744.7,448.0 744.6,450.0 744.4,452.0 744.3,454.0 744.2,456.0 744.0,458.0 743.9,460.0 743.8,462.0 743.8,464.0 743.7,466.0 743.6,468.0 743.6,470.0 743.5,472.0 743.5,474.0 743.5,476.0 743.4,478.0 743.4,480.0 743.4,482.0 743.4,484.0 743.4,486.0 743.4,488.0 743.4,490.0 743.4,492.0 743.4,494.0 743.4,496.0 743.4,498.0 743.4,500.0 743.4,502.0 743.4,504.0 743.4,506.0 743.4,508.0 743.4,510.0 743.4,512.0 743.4,514.0 743.4,516.0 743.4,518.0 743.4,520.0 743.4,522.0 743.4,524.0 743.4,526.0 743.4,528.0 743.5,530.0 743.5,532.0 743.6,534.0 743.7,536.0 743.8,538.0 743.9,540.0 744.0,542.0 744.1,544.0 744.3,546.0 744.4,548.0 744.6,550.0 744.8,552.0 745.0,554.0 745.2,556.0 745.4,558.0 745.6,560.0 745.8,562.0 746.1,564.0 746.3,566.0 746.5,568.0 746.7,570.0 746.9,572.0 747.1,574.0 747.3,576.0 747.4,578.0 747.6,580.0 747.8,582.0 747.9,584.0 748.0,586.0 748.2,588.0 748.3,590.0 748.4,592.0 748.5,594.0 748.6,596.0 748.6,598.0 748.7,600.0 748.8,602.0 748.8,603.9 748.9,605.9 748.9,607.9 748.9,609.9 749.0,611.9 749.0,613.9 749.0,615.9 749.0,617.9 749.0,619.9 749.0,621.9 749.1,623.9 749.1,625.9 749.1,627.9 749.1,629.9 749.1,631.9 749.1,633.9 749.1,633.9 749.1,631.9 749.1,629.9 749.1,627.9 749.1,625.9 749.1,623.9 749.2,621.9 749.2,619.9 749.2,617.9 749.2,615.9 749.2,613.9 749.2,611.9 749.3,609.9 749.3,607.9 749.3,605.9 749.4,603.9 749.4,602.0 749.5,600.0 749.6,598.0 749.6,596.0 749.7,594.0 749.8,592.0 749.9,590.0 750.0,588.0 750.2,586.0 750.3,584.0 750.4,582.0 750.6,580.0 750.8,578.0 750.9,576.0 751.1,574.0 751.3,572.0 751.5,570.0 751.7,568.0 751.9,566.0 752.1,564.0 752.4,562.0 752.6,560.0 752.8,558.0 753.0,556.0 753.2,554.0 753.4,552.0 753.6,550.0 753.8,548.0 753.9,546.0 754.1,544.0 754.2,542.0 754.3,540.0 754.4,538.0 754.5,536.0 754.6,534.0 754.7,532.0 754.7,530.0 754.8,528.0 754.8,526.0 754.8,524.0 754.8,522.0 754.8,520.0 754.8,518.0 754.8,516.0 754.8,514.0 754.8,512.0 754.8,510.0 754.8,508.0 754.8,506.0 754.8,504.0 754.8,502.0 754.8,500.0 754.8,498.0 754.8,496.0 754.8,494.0 754.8,492.0 754.8,490.0 754.8,488.0 754.8,486.0 754.8,484.0 754.8,482.0 754.8,480.0 754.8,478.0 754.7,476.0 754.7,474.0 754.7,472.0 754.6,470.0 754.6,468.0 754.5,466.0 754.4,464.0 754.4,462.0 754.3,460.0 754.2,458.0 754.0,456.0 753.9,454.0 753.8,452.0 753.6,450.0 753.5,448.0 753.4,446.0 753.2,444.0 753.1,442.0 752.9,440.0 752.8,438.0 752.6,436.0 752.5,434.0 752.3,432.0 752.2,430.0 752.1,428.0 751.9,426.0 751.8,424.0 751.7,422.0 751.6,420.0 751.5,418.0 751.5,416.0 751.4,414.0 751.3,412.0 751.2,410.0 751.2,408.0 751.1,406.0 751.0,404.0 751.0,402.0 750.9,400.0 750.9,398.0 750.8,396.0 750.8,394.0 750.7,392.0 750.7,390.0 750.6,388.0 750.5,386.0 750.5,384.0 750.4,382.0 750.4,380.0 750.3,378.0 750.3,376.0 750.3,374.0 750.2,372.0 750.2,370.0 750.2,368.0 750.1,366.0 750.1,364.0 750.1,362.0 750.1,360.0 750.1,358.0 750.1,356.0 750.2,354.0 750.2,352.0 750.2,350.0 750.3,348.0 750.3,346.0 750.3,344.0 750.4,342.0 750.4,340.0 750.5,338.0 750.5,336.0 750.5,334.0 750.6,332.0 750.6,330.0 750.6,328.0 750.7,326.0 750.7,324.0 750.7,322.0 750.7,320.0 750.7,318.0 750.7,316.0 750.7,314.0 750.6,312.0 750.6,310.0 750.5,308.0 750.5,306.0 750.4,304.0 750.4,302.0 750.3,300.0 750.3,298.0 750.2,296.0 750.1,294.0 750.0,292.0 750.0,290.0 749.9,288.0 749.8,286.0 749.8,284.0 749.7,282.0 749.6,280.0 749.6,278.1 749.5,276.1 749.5,274.1 749.4,272.1 749.4,270.1 749.4,268.1 749.3,266.1 749.3,264.1 749.3,262.1 749.2,260.1 749.2,258.1 749.2,256.1 749.2,254.1 749.2,252.1 749.2,250.1 749.1,248.1 749.1,246.1 749.1,244.1 749.1,242.1 749.1,240.1 749.1,238.1 749.1,236.1 749.1,234.1" fill="#4DD9FF" stroke="#2E9DBA" stroke-width="1" stroke-linejoin="round"/>
<path d="M111 238.9h5M111 430.11h5M111 453.22h5M111 463.85h5M111 466.17h5M111 475.19h5M111 494.6h5M111 500.15h5M111 508.93h5M111 508.66h5M111 509.21h5M111 526.27h5M111 541.98h5M111 541.71h5M111 542.26h5M108.9 545.22h9.2M111 563.94h5M136.45 358.47h5M136.45 361.94h5M136.45 367.95h5M136.45 394.29h5M136.45 423.18h5M136.45 445.37h5M136.45 448.6h5M136.45 476.81h5M136.45 479.12h5M136.45 484.2h5M136.45 497.15h5M136.45 498.99h5M136.45 507.78h5M136.45 528.11h5M136.45 531.81h5M136.45 535.05h5M134.35 545.22h9.2M161.9 283.27h5M161.9 342.99h5M161.9 358.24h5M161.9 392.91h5M161.9 394.75h5M161.9 402.38h5M161.9 406.08h5M161.9 417.86h5M161.9 425.72h5M161.9 472.42h5M161.9 485.82h5M161.9 489.29h5M161.9 493.68h5M161.9 497.38h5M161.9 516.56h5M161.9 516.28h5M161.9 516.83h5M161.9 545.22h5M161.9 557.46h5M208.45 437.51h5M208.45 449.76h5M208.45 453.22h5M208.45 461.54h5M208.45 467.09h5M208.45 466.82h5M208.45 467.37h5M208.45 478.89h5M208.45 481.66h5M208.45 489.06h5M208.45 493.22h5M208.45 501.07h5M208.45 515.87h5M208.45 524.88h5M208.45 530.89h5M208.45 539.21h5M208.45 545.45h5M208.45 551.69h5M208.45 551.41h5M208.45 551.96h5M233.9 375.57h5M233.9 409.31h5M233.9 409.04h5M233.9 409.59h5M233.9 434.04h5M233.9 437.74h5M233.9 440.98h5M233.9 457.61h5M233.9 467.78h5M233.9 473.11h5M233.9 478.2h5M233.9 485.82h5M233.9 510.09h5M233.9 509.81h5M233.9 510.36h5M233.9 512.4h5M233.9 514.25h5M233.9 529.27h5M233.9 541.98h5M233.9 543.37h5M259.35 336.98h5M259.35 375.11h5M259.35 377.65h5M259.35 391.52h5M259.35 407.7h5M259.35 419.71h5M259.35 425.95h5M259.35 434.74h5M259.35 438.9h5M259.35 450.45h5M259.35 473.34h5M259.35 473.07h5M259.35 473.62h5M259.35 485.13h5M259.35 490.21h5M259.35 504.77h5M259.35 504.5h5M259.35 505.05h5M259.35 548.45h5M305.9 340.44h5M305.9 470.09h5M305.9 469.82h5M305.9 470.37h5M305.9 483.74h5M305.9 483.19h5M305.9 484.29h5M305.9 494.6h5M305.9 510.09h5M305.9 518.87h5M305.9 522.57h5M305.9 524.88h5M305.9 528.11h5M305.9 531.35h5M305.9 541.98h5M305.9 541.71h5M305.9 542.26h5M305.9 545.22h5M305.9 557.93h5M331.35 363.79h5M331.35 425.49h5M331.35 430.58h5M331.35 453.22h5M331.35 458.08h5M331.35 462.47h5M331.35 466.86h5M331.35 470.33h5M331.35 475.42h5M331.35 481.89h5M331.35 487.67h5M331.35 490.91h5M331.35 496.22h5M331.35 518.64h5M331.35 537.82h5M331.35 542.67h5M356.8 328.2h5M356.8 348.99h5M356.8 356.39h5M356.8 392.91h5M356.8 406.31h5M356.8 416.71h5M356.8 429.42h5M356.8 433.12h5M356.8 465.7h5M356.8 468.48h5M356.8 477.73h5M356.8 479.58h5M356.8 508.24h5M356.8 511.71h5M356.8 511.43h5M356.8 511.98h5M356.8 514.48h5M356.8 535.05h5M403.35 437.51h5M403.35 451.61h5M403.35 455.3h5M403.35 464.09h5M403.35 475.19h5M403.35 485.13h5M403.35 484.85h5M403.35 485.4h5M403.35 488.36h5M403.35 492.52h5M403.35 504.31h5M403.35 509.86h5M403.35 509.58h5M403.35 510.13h5M403.35 520.72h5M403.35 520.17h5M403.35 521.27h5M403.35 541.75h5M403.35 548.45h5M403.35 554.92h5M428.8 395.7h5M428.8 416.3h5M428.8 452.1h5M428.8 454.4h5M428.8 456.9h5M428.8 463.4h5M428.8 465.7h5M428.8 469.1h5M428.8 472.6h5M428.8 487.6h5M428.8 493.4h5M428.8 499.4h5M428.8 505.6h5M428.8 510h5M428.8 528.3h5M428.8 557h5M454.25 306.38h5M454.25 368.41h5M454.25 376.03h5M454.25 375.76h5M454.25 376.31h5M454.25 386.9h5M454.25 416.94h5M454.25 446.52h5M454.25 450.91h5M454.25 460.16h5M454.25 491.37h5M454.25 497.84h5M454.25 510.32h5M454.25 523.95h5M454.25 528.81h5M454.25 541.29h5M454.25 545.22h5M500.8 449.3h5M500.8 461.54h5M500.8 476.81h5M500.8 478.89h5M500.8 487.21h5M500.8 498.53h5M500.8 499.69h5M500.8 499.41h5M500.8 499.96h5M500.8 501.07h5M500.8 502.23h5M500.8 505h5M500.8 509.86h5M500.8 513.09h5M500.8 527.65h5M500.8 535.74h5M500.8 539.21h5M500.8 542.91h5M500.8 564.17h5M526.25 397.06h5M526.25 406.54h5M526.25 448.14h5M526.25 462.01h5M526.25 464.32h5M526.25 471.96h5M526.25 471.68h5M526.25 472.23h5M526.25 476.81h5M526.25 482.35h5M526.25 491.37h5M526.25 493.91h5M526.25 512.4h5M526.25 516.1h5M526.25 523.03h5M526.25 522.48h5M526.25 523.58h5M526.25 534.35h5M526.25 545.22h5M551.7 342.06h5M551.7 402.84h5M551.7 414.17h5M551.7 413.89h5M551.7 414.44h5M551.7 421.33h5M551.7 448.14h5M551.7 455.07h5M551.7 463.85h5M551.7 475.19h5M551.7 486.51h5M551.7 488.83h5M551.7 490.91h5M551.7 493.22h5M551.7 498.53h5M551.7 512.86h5M551.7 535.51h5M551.7 561.39h5M598.25 421.1h5M598.25 433.12h5M598.25 462.47h5M598.25 489.06h5M598.25 502.92h5M598.25 502.65h5M598.25 503.2h5M598.25 507.08h5M598.25 528.81h5M598.25 528.53h5M598.25 529.08h5M598.25 539.21h5M598.25 538.66h5M598.25 539.76h5M598.25 545.91h5M598.25 545.36h5M598.25 546.46h5M598.25 548.22h5M598.25 550.53h5M598.25 558.16h5M623.7 359.39h5M623.7 427.8h5M623.7 432.42h5M623.7 450.68h5M623.7 470.56h5M623.7 471.49h5M623.7 473.8h5M623.7 481.2h5M623.7 490.44h5M623.7 516.56h5M623.7 516.28h5M623.7 516.83h5M623.7 535.74h5M623.7 540.36h5M623.7 545.22h5M623.7 553.3h5M623.7 556.54h5M623.7 558.62h5M649.15 333.74h5M649.15 382.27h5M649.15 430.81h5M649.15 437.51h5M649.15 472.42h5M649.15 474.96h5M649.15 479.58h5M649.15 482.35h5M649.15 484.67h5M649.15 489.06h5M649.15 508.47h5M649.15 511.94h5M649.15 515.17h5M649.15 526.5h5M649.15 533.66h5M649.15 533.39h5M649.15 533.94h5M649.15 537.13h5M695.7 457.38h5M695.7 479.58h5M695.7 491.37h5M695.7 500.15h5M695.7 503.85h5M695.7 505.47h5M695.7 505.19h5M695.7 505.74h5M695.7 512.86h5M695.7 512.59h5M695.7 513.14h5M695.7 535.74h5M695.7 538.51h5M695.7 543.6h5M695.7 543.32h5M695.7 543.87h5M693.6 545.22h9.2M695.7 548.45h5M695.7 554.23h5M721.15 391.98h5M721.15 402.61h5M721.15 420.18h5M721.15 443.52h5M721.15 447.68h5M721.15 450.45h5M721.15 472.65h5M721.15 485.59h5M721.15 499.69h5M721.15 512.86h5M721.15 516.56h5M721.15 523.26h5M721.15 527.65h5M721.15 529.96h5M721.15 536.43h5M721.15 539.21h5M721.15 547.76h5M721.15 547.48h5M721.15 548.03h5M746.6 311.46h5M746.6 327.5h5M746.6 390.83h5M746.6 413.24h5M746.6 450.45h5M746.6 457.15h5M746.6 460.85h5M746.6 460.58h5M746.6 461.13h5M746.6 476.81h5M746.6 491.6h5M746.6 493.68h5M746.6 501.31h5M746.6 524.88h5M746.6 530.66h5M746.6 532.27h5M746.6 541.98h5M746.6 541.71h5M746.6 542.26h5M746.6 556.54h5" stroke="#141414" stroke-width="1.1" fill="none"/>
<path d="M100.9 487.67h25.2M126.35 468.25h25.2M151.8 444.44h25.2M198.35 496.68h25.2M223.8 473.8h25.2M249.25 443.52h25.2M295.8 501.77h25.2M321.25 472.65h25.2M346.7 446.06h25.2M393.25 498.07h25.2M418.7 477.8h25.2M444.15 450.22h25.2M490.7 505.7h25.2M516.15 485.59h25.2M541.6 464.78h25.2M588.15 517.25h25.2M613.6 492.99h25.2M639.05 479.12h25.2M685.6 521.41h25.2M711.05 488.59h25.2M736.5 470.34h25.2" stroke="#000" stroke-width="1.9" stroke-linecap="round" fill="none"/>
<rect x="79.6" y="51.3" width="703.8" height="609.1" fill="none" stroke="#262626" stroke-width="1.25"/>
<path d="M113.5 660.4v10.4M138.95 660.4v10.4M164.4 660.4v10.4M210.95 660.4v10.4M236.4 660.4v10.4M261.85 660.4v10.4M308.4 660.4v10.4M333.85 660.4v10.4M359.3 660.4v10.4M405.85 660.4v10.4M431.3 660.4v10.4M456.75 660.4v10.4M503.3 660.4v10.4M528.75 660.4v10.4M554.2 660.4v10.4M600.75 660.4v10.4M626.2 660.4v10.4M651.65 660.4v10.4M698.2 660.4v10.4M723.65 660.4v10.4M749.1 660.4v10.4M79.6 197.3h-10.6M79.6 320h-10.6M79.6 442.7h-10.6M79.6 565.4h-10.6" stroke="#303030" stroke-width="1.15" fill="none"/>
<text transform="translate(112.8 693.4) scale(1 1.04)" font-size="14.35" text-anchor="middle" class="s">0</text>
<text transform="translate(138.25 693.4) scale(1 1.04)" font-size="14.35" text-anchor="middle" class="s">15</text>
<text transform="translate(163.7 693.4) scale(1 1.04)" font-size="14.35" text-anchor="middle" class="s">30</text>
<text transform="translate(210.25 693.4) scale(1 1.04)" font-size="14.35" text-anchor="middle" class="s">0</text>
<text transform="translate(235.7 693.4) scale(1 1.04)" font-size="14.35" text-anchor="middle" class="s">15</text>
<text transform="translate(261.15 693.4) scale(1 1.04)" font-size="14.35" text-anchor="middle" class="s">30</text>
<text transform="translate(307.7 693.4) scale(1 1.04)" font-size="14.35" text-anchor="middle" class="s">0</text>
<text transform="translate(333.15 693.4) scale(1 1.04)" font-size="14.35" text-anchor="middle" class="s">15</text>
<text transform="translate(358.6 693.4) scale(1 1.04)" font-size="14.35" text-anchor="middle" class="s">30</text>
<text transform="translate(405.15 693.4) scale(1 1.04)" font-size="14.35" text-anchor="middle" class="s">0</text>
<text transform="translate(430.6 693.4) scale(1 1.04)" font-size="14.35" text-anchor="middle" class="s">15</text>
<text transform="translate(456.05 693.4) scale(1 1.04)" font-size="14.35" text-anchor="middle" class="s">30</text>
<text transform="translate(502.6 693.4) scale(1 1.04)" font-size="14.35" text-anchor="middle" class="s">0</text>
<text transform="translate(528.05 693.4) scale(1 1.04)" font-size="14.35" text-anchor="middle" class="s">15</text>
<text transform="translate(553.5 693.4) scale(1 1.04)" font-size="14.35" text-anchor="middle" class="s">30</text>
<text transform="translate(600.05 693.4) scale(1 1.04)" font-size="14.35" text-anchor="middle" class="s">0</text>
<text transform="translate(625.5 693.4) scale(1 1.04)" font-size="14.35" text-anchor="middle" class="s">15</text>
<text transform="translate(650.95 693.4) scale(1 1.04)" font-size="14.35" text-anchor="middle" class="s">30</text>
<text transform="translate(697.5 693.4) scale(1 1.04)" font-size="14.35" text-anchor="middle" class="s">0</text>
<text transform="translate(722.95 693.4) scale(1 1.04)" font-size="14.35" text-anchor="middle" class="s">15</text>
<text transform="translate(748.4 693.4) scale(1 1.04)" font-size="14.35" text-anchor="middle" class="s">30</text>
<text x="52.6" y="203.1" font-size="16.2" text-anchor="middle" class="s">15</text>
<text x="52.6" y="325.8" font-size="16.2" text-anchor="middle" class="s">10</text>
<text x="52.6" y="448.5" font-size="16.2" text-anchor="middle" class="s">5</text>
<text x="52.6" y="571.2" font-size="16.2" text-anchor="middle" class="s">0</text>
<text transform="translate(134.05 143.3) scale(1 1.04)" font-size="16.75" text-anchor="middle" class="s">Monday</text>
<text transform="translate(236.35 143.3) scale(1 1.04)" font-size="16.75" text-anchor="middle" class="s">Tuesday</text>
<text transform="translate(333.8 143.3) scale(1 1.04)" font-size="16.75" text-anchor="middle" class="s">Wednesday</text>
<text transform="translate(431.25 143.3) scale(1 1.04)" font-size="16.75" text-anchor="middle" class="s">Thursday</text>
<text transform="translate(528.7 143.3) scale(1 1.04)" font-size="16.75" text-anchor="middle" class="s">Friday</text>
<text transform="translate(627.7 143.3) scale(1 1.04)" font-size="16.75" text-anchor="middle" class="s">Saturday</text>
<text transform="translate(729.35 143.3) scale(1 1.04)" font-size="16.75" text-anchor="middle" class="s">Sunday</text>
<text transform="translate(432.7 100.6) scale(1 1.02)" font-size="43" text-anchor="middle">Cortisol</text>
<text transform="translate(33.6 39.7) scale(1 1.04)" font-size="55">A</text>
<text transform="translate(431.9 734.4) scale(1 1.03)" font-size="21.6" text-anchor="middle" class="s">Time after awakening (min)</text>
<text transform="translate(16.3 399.3) rotate(-90) scale(1 1.03)" font-size="21.6" text-anchor="middle" class="s">Concentration (ng/mL)</text>
<rect x="941.5" y="119.4" width="107.5" height="33.1" fill="#FFFFB8"/>
<rect x="1048.7" y="119.4" width="97.9" height="33.1" fill="#FFFF66"/>
<rect x="1146.3" y="119.4" width="97.8" height="33.1" fill="#FFFF26"/>
<rect x="1243.8" y="119.4" width="97.6" height="33.1" fill="#E8E800"/>
<rect x="1341.1" y="119.4" width="98.1" height="33.1" fill="#CFCF00"/>
<rect x="1438.9" y="119.4" width="98.2" height="33.1" fill="#B5B500"/>
<rect x="1536.8" y="119.4" width="107.5" height="33.1" fill="#9A9A00"/>
<polygon points="974.2,261.8 974.2,263.8 974.2,265.8 974.2,267.8 974.2,269.8 974.2,271.8 974.2,273.8 974.1,275.8 974.1,277.8 974.1,279.8 974.1,281.8 974.1,283.8 974.1,285.8 974.0,287.8 974.0,289.8 974.0,291.8 974.0,293.8 973.9,295.8 973.9,297.8 973.8,299.8 973.8,301.9 973.7,303.9 973.7,305.9 973.6,307.9 973.5,309.9 973.5,311.9 973.4,313.9 973.3,315.9 973.2,317.9 973.1,319.9 973.0,321.9 972.9,323.9 972.8,325.9 972.8,327.9 972.7,329.9 972.6,331.9 972.5,333.9 972.4,335.9 972.3,337.9 972.2,339.9 972.1,341.9 972.0,343.9 972.0,345.9 971.9,347.9 971.8,349.9 971.8,351.9 971.7,353.9 971.7,355.9 971.6,357.9 971.6,359.9 971.6,361.9 971.5,363.9 971.5,365.9 971.5,367.9 971.4,370.0 971.4,372.0 971.4,374.0 971.3,376.0 971.3,378.0 971.2,380.0 971.2,382.0 971.1,384.0 971.1,386.0 971.0,388.0 970.9,390.0 970.8,392.0 970.7,394.0 970.6,396.0 970.5,398.0 970.4,400.0 970.3,402.0 970.2,404.0 970.1,406.0 969.9,408.0 969.8,410.0 969.7,412.0 969.5,414.0 969.4,416.0 969.3,418.0 969.1,420.0 969.0,422.0 968.8,424.0 968.7,426.0 968.6,428.0 968.4,430.0 968.3,432.0 968.2,434.0 968.0,436.1 967.9,438.1 967.8,440.1 967.7,442.1 967.5,444.1 967.4,446.1 967.3,448.1 967.2,450.1 967.1,452.1 967.0,454.1 966.9,456.1 966.9,458.1 966.8,460.1 966.7,462.1 966.7,464.1 966.7,466.1 966.7,468.1 966.6,470.1 966.7,472.1 966.7,474.1 966.7,476.1 966.8,478.1 966.8,480.1 966.9,482.1 967.0,484.1 967.1,486.1 967.2,488.1 967.3,490.1 967.4,492.1 967.5,494.1 967.6,496.1 967.7,498.1 967.9,500.1 968.0,502.1 968.1,504.2 968.3,506.2 968.4,508.2 968.5,510.2 968.7,512.2 968.8,514.2 968.9,516.2 969.1,518.2 969.2,520.2 969.4,522.2 969.5,524.2 969.7,526.2 969.8,528.2 970.0,530.2 970.2,532.2 970.3,534.2 970.5,536.2 970.6,538.2 970.8,540.2 970.9,542.2 971.1,544.2 971.2,546.2 971.4,548.2 971.5,550.2 971.7,552.2 971.8,554.2 971.9,556.2 972.1,558.2 972.2,560.2 972.3,562.2 972.4,564.2 972.5,566.2 972.6,568.2 972.7,570.2 972.8,572.3 972.9,574.3 973.0,576.3 973.1,578.3 973.2,580.3 973.3,582.3 973.4,584.3 973.4,586.3 973.5,588.3 973.6,590.3 973.6,592.3 973.7,594.3 973.7,596.3 973.8,598.3 973.8,600.3 973.9,602.3 973.9,604.3 973.9,606.3 974.0,608.3 974.0,610.3 974.0,612.3 974.1,614.3 974.1,616.3 974.1,618.3 974.1,620.3 974.1,622.3 974.1,624.3 974.1,626.3 974.2,628.3 974.2,630.3 974.2,632.3 974.2,634.3 974.2,636.3 974.2,638.3 974.2,640.4 974.2,642.4 974.2,642.4 974.2,640.4 974.2,638.3 974.2,636.3 974.2,634.3 974.2,632.3 974.2,630.3 974.2,628.3 974.3,626.3 974.3,624.3 974.3,622.3 974.3,620.3 974.3,618.3 974.3,616.3 974.3,614.3 974.4,612.3 974.4,610.3 974.4,608.3 974.5,606.3 974.5,604.3 974.5,602.3 974.6,600.3 974.6,598.3 974.7,596.3 974.7,594.3 974.8,592.3 974.8,590.3 974.9,588.3 975.0,586.3 975.0,584.3 975.1,582.3 975.2,580.3 975.3,578.3 975.4,576.3 975.5,574.3 975.6,572.3 975.7,570.2 975.8,568.2 975.9,566.2 976.0,564.2 976.1,562.2 976.2,560.2 976.3,558.2 976.5,556.2 976.6,554.2 976.7,552.2 976.9,550.2 977.0,548.2 977.2,546.2 977.3,544.2 977.5,542.2 977.6,540.2 977.8,538.2 977.9,536.2 978.1,534.2 978.2,532.2 978.4,530.2 978.6,528.2 978.7,526.2 978.9,524.2 979.0,522.2 979.2,520.2 979.3,518.2 979.5,516.2 979.6,514.2 979.7,512.2 979.9,510.2 980.0,508.2 980.1,506.2 980.3,504.2 980.4,502.1 980.5,500.1 980.7,498.1 980.8,496.1 980.9,494.1 981.0,492.1 981.1,490.1 981.2,488.1 981.3,486.1 981.4,484.1 981.5,482.1 981.6,480.1 981.6,478.1 981.7,476.1 981.7,474.1 981.7,472.1 981.8,470.1 981.7,468.1 981.7,466.1 981.7,464.1 981.7,462.1 981.6,460.1 981.5,458.1 981.5,456.1 981.4,454.1 981.3,452.1 981.2,450.1 981.1,448.1 981.0,446.1 980.9,444.1 980.7,442.1 980.6,440.1 980.5,438.1 980.4,436.1 980.2,434.0 980.1,432.0 980.0,430.0 979.8,428.0 979.7,426.0 979.6,424.0 979.4,422.0 979.3,420.0 979.1,418.0 979.0,416.0 978.9,414.0 978.7,412.0 978.6,410.0 978.5,408.0 978.3,406.0 978.2,404.0 978.1,402.0 978.0,400.0 977.9,398.0 977.8,396.0 977.7,394.0 977.6,392.0 977.5,390.0 977.4,388.0 977.3,386.0 977.3,384.0 977.2,382.0 977.2,380.0 977.1,378.0 977.1,376.0 977.0,374.0 977.0,372.0 977.0,370.0 976.9,367.9 976.9,365.9 976.9,363.9 976.8,361.9 976.8,359.9 976.8,357.9 976.7,355.9 976.7,353.9 976.6,351.9 976.6,349.9 976.5,347.9 976.4,345.9 976.4,343.9 976.3,341.9 976.2,339.9 976.1,337.9 976.0,335.9 975.9,333.9 975.8,331.9 975.7,329.9 975.6,327.9 975.6,325.9 975.5,323.9 975.4,321.9 975.3,319.9 975.2,317.9 975.1,315.9 975.0,313.9 974.9,311.9 974.9,309.9 974.8,307.9 974.7,305.9 974.7,303.9 974.6,301.9 974.6,299.8 974.5,297.8 974.5,295.8 974.4,293.8 974.4,291.8 974.4,289.8 974.4,287.8 974.3,285.8 974.3,283.8 974.3,281.8 974.3,279.8 974.3,277.8 974.3,275.8 974.2,273.8 974.2,271.8 974.2,269.8 974.2,267.8 974.2,265.8 974.2,263.8 974.2,261.8" fill="#FFFFB8" stroke="#D6D638" stroke-width="1" stroke-linejoin="round"/>
<polygon points="1000.1,229.3 1000.1,231.3 1000.1,233.3 1000.1,235.3 1000.1,237.3 1000.1,239.3 1000.1,241.3 1000.0,243.3 1000.0,245.3 1000.0,247.3 1000.0,249.3 1000.0,251.3 1000.0,253.3 999.9,255.3 999.9,257.3 999.9,259.3 999.9,261.3 999.8,263.3 999.8,265.3 999.7,267.3 999.7,269.3 999.6,271.2 999.6,273.2 999.5,275.2 999.4,277.2 999.3,279.2 999.3,281.2 999.2,283.2 999.1,285.2 999.0,287.2 998.9,289.2 998.8,291.2 998.7,293.2 998.6,295.2 998.5,297.2 998.4,299.2 998.3,301.2 998.3,303.2 998.2,305.2 998.1,307.2 998.0,309.2 997.9,311.1 997.8,313.1 997.8,315.1 997.7,317.1 997.7,319.1 997.6,321.1 997.6,323.1 997.5,325.1 997.5,327.1 997.4,329.1 997.4,331.1 997.4,333.1 997.3,335.1 997.3,337.1 997.3,339.1 997.2,341.1 997.2,343.1 997.2,345.1 997.1,347.1 997.1,349.1 997.0,351.1 997.0,353.0 996.9,355.0 996.9,357.0 996.8,359.0 996.7,361.0 996.6,363.0 996.5,365.0 996.4,367.0 996.3,369.0 996.2,371.0 996.1,373.0 996.0,375.0 995.9,377.0 995.8,379.0 995.6,381.0 995.5,383.0 995.4,385.0 995.3,387.0 995.1,389.0 995.0,391.0 994.9,393.0 994.8,394.9 994.7,396.9 994.5,398.9 994.4,400.9 994.3,402.9 994.2,404.9 994.2,406.9 994.1,408.9 994.0,410.9 993.9,412.9 993.9,414.9 993.8,416.9 993.8,418.9 993.7,420.9 993.7,422.9 993.7,424.9 993.7,426.9 993.7,428.9 993.7,430.9 993.7,432.9 993.7,434.9 993.7,436.8 993.7,438.8 993.7,440.8 993.8,442.8 993.8,444.8 993.8,446.8 993.9,448.8 993.9,450.8 994.0,452.8 994.0,454.8 994.1,456.8 994.1,458.8 994.2,460.8 994.2,462.8 994.3,464.8 994.3,466.8 994.4,468.8 994.4,470.8 994.5,472.8 994.5,474.8 994.6,476.8 994.7,478.7 994.7,480.7 994.8,482.7 994.9,484.7 995.0,486.7 995.1,488.7 995.2,490.7 995.3,492.7 995.4,494.7 995.5,496.7 995.6,498.7 995.7,500.7 995.8,502.7 996.0,504.7 996.1,506.7 996.2,508.7 996.4,510.7 996.5,512.7 996.7,514.7 996.8,516.7 997.0,518.7 997.1,520.6 997.2,522.6 997.4,524.6 997.5,526.6 997.6,528.6 997.8,530.6 997.9,532.6 998.0,534.6 998.1,536.6 998.2,538.6 998.3,540.6 998.3,542.6 998.4,544.6 998.5,546.6 998.5,548.6 998.6,550.6 998.7,552.6 998.7,554.6 998.8,556.6 998.8,558.6 998.8,560.6 998.9,562.5 998.9,564.5 999.0,566.5 999.0,568.5 999.1,570.5 999.1,572.5 999.2,574.5 999.2,576.5 999.3,578.5 999.3,580.5 999.4,582.5 999.4,584.5 999.5,586.5 999.5,588.5 999.5,590.5 999.6,592.5 999.6,594.5 999.7,596.5 999.7,598.5 999.8,600.5 999.8,602.5 999.8,604.4 999.9,606.4 999.9,608.4 999.9,610.4 999.9,612.4 1000.0,614.4 1000.0,616.4 1000.0,618.4 1000.0,620.4 1000.0,622.4 1000.0,624.4 1000.0,626.4 1000.1,628.4 1000.1,630.4 1000.1,632.4 1000.1,634.4 1000.1,636.4 1000.1,638.4 1000.1,640.4 1000.1,642.4 1000.1,642.4 1000.1,640.4 1000.1,638.4 1000.1,636.4 1000.1,634.4 1000.1,632.4 1000.1,630.4 1000.1,628.4 1000.2,626.4 1000.2,624.4 1000.2,622.4 1000.2,620.4 1000.2,618.4 1000.2,616.4 1000.2,614.4 1000.3,612.4 1000.3,610.4 1000.3,608.4 1000.3,606.4 1000.4,604.4 1000.4,602.5 1000.4,600.5 1000.5,598.5 1000.5,596.5 1000.6,594.5 1000.6,592.5 1000.7,590.5 1000.7,588.5 1000.7,586.5 1000.8,584.5 1000.8,582.5 1000.9,580.5 1000.9,578.5 1001.0,576.5 1001.0,574.5 1001.1,572.5 1001.1,570.5 1001.2,568.5 1001.2,566.5 1001.3,564.5 1001.3,562.5 1001.4,560.6 1001.4,558.6 1001.4,556.6 1001.5,554.6 1001.5,552.6 1001.6,550.6 1001.7,548.6 1001.7,546.6 1001.8,544.6 1001.9,542.6 1001.9,540.6 1002.0,538.6 1002.1,536.6 1002.2,534.6 1002.3,532.6 1002.4,530.6 1002.6,528.6 1002.7,526.6 1002.8,524.6 1003.0,522.6 1003.1,520.6 1003.2,518.7 1003.4,516.7 1003.5,514.7 1003.7,512.7 1003.8,510.7 1004.0,508.7 1004.1,506.7 1004.2,504.7 1004.4,502.7 1004.5,500.7 1004.6,498.7 1004.7,496.7 1004.8,494.7 1004.9,492.7 1005.0,490.7 1005.1,488.7 1005.2,486.7 1005.3,484.7 1005.4,482.7 1005.5,480.7 1005.5,478.7 1005.6,476.8 1005.7,474.8 1005.7,472.8 1005.8,470.8 1005.8,468.8 1005.9,466.8 1005.9,464.8 1006.0,462.8 1006.0,460.8 1006.1,458.8 1006.1,456.8 1006.2,454.8 1006.2,452.8 1006.3,450.8 1006.3,448.8 1006.4,446.8 1006.4,444.8 1006.4,442.8 1006.5,440.8 1006.5,438.8 1006.5,436.8 1006.5,434.9 1006.5,432.9 1006.5,430.9 1006.5,428.9 1006.5,426.9 1006.5,424.9 1006.5,422.9 1006.5,420.9 1006.4,418.9 1006.4,416.9 1006.3,414.9 1006.3,412.9 1006.2,410.9 1006.1,408.9 1006.0,406.9 1006.0,404.9 1005.9,402.9 1005.8,400.9 1005.7,398.9 1005.5,396.9 1005.4,394.9 1005.3,393.0 1005.2,391.0 1005.1,389.0 1004.9,387.0 1004.8,385.0 1004.7,383.0 1004.6,381.0 1004.4,379.0 1004.3,377.0 1004.2,375.0 1004.1,373.0 1004.0,371.0 1003.9,369.0 1003.8,367.0 1003.7,365.0 1003.6,363.0 1003.5,361.0 1003.4,359.0 1003.3,357.0 1003.3,355.0 1003.2,353.0 1003.2,351.1 1003.1,349.1 1003.1,347.1 1003.0,345.1 1003.0,343.1 1003.0,341.1 1002.9,339.1 1002.9,337.1 1002.9,335.1 1002.8,333.1 1002.8,331.1 1002.8,329.1 1002.7,327.1 1002.7,325.1 1002.6,323.1 1002.6,321.1 1002.5,319.1 1002.5,317.1 1002.4,315.1 1002.4,313.1 1002.3,311.1 1002.2,309.2 1002.1,307.2 1002.0,305.2 1001.9,303.2 1001.9,301.2 1001.8,299.2 1001.7,297.2 1001.6,295.2 1001.5,293.2 1001.4,291.2 1001.3,289.2 1001.2,287.2 1001.1,285.2 1001.0,283.2 1000.9,281.2 1000.9,279.2 1000.8,277.2 1000.7,275.2 1000.6,273.2 1000.6,271.2 1000.5,269.3 1000.5,267.3 1000.4,265.3 1000.4,263.3 1000.3,261.3 1000.3,259.3 1000.3,257.3 1000.3,255.3 1000.2,253.3 1000.2,251.3 1000.2,249.3 1000.2,247.3 1000.2,245.3 1000.2,243.3 1000.1,241.3 1000.1,239.3 1000.1,237.3 1000.1,235.3 1000.1,233.3 1000.1,231.3 1000.1,229.3" fill="#FFFFB8" stroke="#D6D638" stroke-width="1" stroke-linejoin="round"/>
<polygon points="1026.0,156.3 1026.0,158.3 1026.0,160.3 1026.0,162.3 1026.0,164.3 1026.0,166.3 1026.0,168.3 1026.0,170.3 1025.9,172.3 1025.9,174.3 1025.9,176.3 1025.9,178.3 1025.9,180.3 1025.9,182.3 1025.9,184.3 1025.8,186.3 1025.8,188.3 1025.8,190.3 1025.7,192.3 1025.7,194.3 1025.7,196.3 1025.6,198.3 1025.6,200.3 1025.5,202.3 1025.5,204.3 1025.5,206.3 1025.4,208.3 1025.4,210.3 1025.3,212.3 1025.3,214.3 1025.2,216.3 1025.1,218.3 1025.1,220.3 1025.0,222.3 1025.0,224.3 1024.9,226.3 1024.9,228.3 1024.8,230.3 1024.8,232.3 1024.7,234.3 1024.7,236.3 1024.7,238.3 1024.6,240.3 1024.6,242.3 1024.5,244.3 1024.5,246.3 1024.5,248.3 1024.4,250.3 1024.4,252.3 1024.3,254.3 1024.3,256.3 1024.2,258.3 1024.2,260.3 1024.1,262.3 1024.1,264.3 1024.1,266.3 1024.0,268.3 1024.0,270.3 1023.9,272.3 1023.9,274.3 1023.9,276.3 1023.9,278.3 1023.8,280.3 1023.8,282.3 1023.8,284.3 1023.8,286.3 1023.8,288.3 1023.8,290.3 1023.9,292.3 1023.9,294.3 1023.9,296.3 1024.0,298.3 1024.1,300.3 1024.1,302.3 1024.2,304.3 1024.2,306.3 1024.3,308.3 1024.4,310.3 1024.4,312.3 1024.5,314.3 1024.6,316.3 1024.6,318.3 1024.7,320.3 1024.7,322.3 1024.8,324.3 1024.8,326.3 1024.8,328.3 1024.8,330.3 1024.8,332.3 1024.8,334.3 1024.8,336.3 1024.7,338.3 1024.7,340.3 1024.6,342.3 1024.6,344.3 1024.5,346.3 1024.4,348.3 1024.3,350.3 1024.1,352.3 1024.0,354.3 1023.9,356.3 1023.7,358.3 1023.6,360.3 1023.4,362.3 1023.2,364.3 1023.0,366.3 1022.8,368.3 1022.6,370.3 1022.4,372.3 1022.2,374.3 1022.0,376.3 1021.7,378.3 1021.5,380.3 1021.2,382.3 1021.0,384.3 1020.7,386.3 1020.5,388.3 1020.2,390.3 1020.0,392.3 1019.7,394.3 1019.5,396.3 1019.2,398.3 1019.0,400.3 1018.8,402.3 1018.5,404.3 1018.3,406.3 1018.1,408.3 1018.0,410.3 1017.8,412.3 1017.7,414.3 1017.5,416.3 1017.4,418.3 1017.4,420.3 1017.3,422.3 1017.3,424.3 1017.3,426.3 1017.4,428.3 1017.4,430.3 1017.5,432.3 1017.6,434.3 1017.8,436.3 1017.9,438.3 1018.1,440.3 1018.3,442.3 1018.5,444.3 1018.8,446.3 1019.0,448.3 1019.3,450.3 1019.5,452.3 1019.8,454.3 1020.1,456.3 1020.4,458.3 1020.6,460.3 1020.9,462.3 1021.1,464.3 1021.4,466.3 1021.6,468.3 1021.9,470.3 1022.1,472.3 1022.3,474.3 1022.5,476.3 1022.6,478.3 1022.8,480.3 1023.0,482.3 1023.1,484.3 1023.2,486.3 1023.4,488.3 1023.5,490.3 1023.6,492.3 1023.7,494.3 1023.8,496.3 1023.9,498.3 1024.0,500.3 1024.1,502.3 1024.1,504.3 1024.2,506.3 1024.3,508.3 1024.3,510.3 1024.4,512.3 1024.5,514.3 1024.5,516.3 1024.6,518.3 1024.6,520.3 1024.6,522.3 1024.7,524.3 1024.7,526.3 1024.7,528.3 1024.8,530.3 1024.8,532.3 1024.8,534.3 1024.8,536.3 1024.8,538.3 1024.8,540.3 1024.8,542.3 1024.8,544.3 1024.8,546.3 1024.8,548.3 1024.8,550.3 1024.9,552.3 1024.9,554.3 1024.9,556.3 1024.9,558.3 1024.9,560.3 1024.9,562.3 1024.9,564.3 1024.9,566.3 1025.0,568.3 1025.0,570.3 1025.0,572.4 1025.1,574.4 1025.1,576.4 1025.1,578.4 1025.2,580.4 1025.2,582.4 1025.3,584.4 1025.3,586.4 1025.4,588.4 1025.4,590.4 1025.5,592.4 1025.5,594.4 1025.6,596.4 1025.6,598.4 1025.6,600.4 1025.7,602.4 1025.7,604.4 1025.7,606.4 1025.8,608.4 1025.8,610.4 1025.8,612.4 1025.9,614.4 1025.9,616.4 1025.9,618.4 1025.9,620.4 1025.9,622.4 1025.9,624.4 1025.9,626.4 1026.0,628.4 1026.0,630.4 1026.0,632.4 1026.0,634.4 1026.0,636.4 1026.0,638.4 1026.0,640.4 1026.0,642.4 1026.0,642.4 1026.0,640.4 1026.0,638.4 1026.0,636.4 1026.0,634.4 1026.0,632.4 1026.0,630.4 1026.0,628.4 1026.1,626.4 1026.1,624.4 1026.1,622.4 1026.1,620.4 1026.1,618.4 1026.1,616.4 1026.1,614.4 1026.2,612.4 1026.2,610.4 1026.2,608.4 1026.3,606.4 1026.3,604.4 1026.3,602.4 1026.4,600.4 1026.4,598.4 1026.4,596.4 1026.5,594.4 1026.5,592.4 1026.6,590.4 1026.6,588.4 1026.7,586.4 1026.7,584.4 1026.8,582.4 1026.8,580.4 1026.9,578.4 1026.9,576.4 1026.9,574.4 1027.0,572.4 1027.0,570.3 1027.0,568.3 1027.1,566.3 1027.1,564.3 1027.1,562.3 1027.1,560.3 1027.1,558.3 1027.1,556.3 1027.1,554.3 1027.1,552.3 1027.2,550.3 1027.2,548.3 1027.2,546.3 1027.2,544.3 1027.2,542.3 1027.2,540.3 1027.2,538.3 1027.2,536.3 1027.2,534.3 1027.2,532.3 1027.2,530.3 1027.3,528.3 1027.3,526.3 1027.3,524.3 1027.4,522.3 1027.4,520.3 1027.4,518.3 1027.5,516.3 1027.5,514.3 1027.6,512.3 1027.7,510.3 1027.7,508.3 1027.8,506.3 1027.9,504.3 1027.9,502.3 1028.0,500.3 1028.1,498.3 1028.2,496.3 1028.3,494.3 1028.4,492.3 1028.5,490.3 1028.6,488.3 1028.8,486.3 1028.9,484.3 1029.0,482.3 1029.2,480.3 1029.4,478.3 1029.5,476.3 1029.7,474.3 1029.9,472.3 1030.1,470.3 1030.4,468.3 1030.6,466.3 1030.9,464.3 1031.1,462.3 1031.4,460.3 1031.6,458.3 1031.9,456.3 1032.2,454.3 1032.5,452.3 1032.7,450.3 1033.0,448.3 1033.2,446.3 1033.5,444.3 1033.7,442.3 1033.9,440.3 1034.1,438.3 1034.2,436.3 1034.4,434.3 1034.5,432.3 1034.6,430.3 1034.6,428.3 1034.7,426.3 1034.7,424.3 1034.7,422.3 1034.6,420.3 1034.6,418.3 1034.5,416.3 1034.3,414.3 1034.2,412.3 1034.0,410.3 1033.9,408.3 1033.7,406.3 1033.5,404.3 1033.2,402.3 1033.0,400.3 1032.8,398.3 1032.5,396.3 1032.3,394.3 1032.0,392.3 1031.8,390.3 1031.5,388.3 1031.3,386.3 1031.0,384.3 1030.8,382.3 1030.5,380.3 1030.3,378.3 1030.0,376.3 1029.8,374.3 1029.6,372.3 1029.4,370.3 1029.2,368.3 1029.0,366.3 1028.8,364.3 1028.6,362.3 1028.4,360.3 1028.3,358.3 1028.1,356.3 1028.0,354.3 1027.9,352.3 1027.7,350.3 1027.6,348.3 1027.5,346.3 1027.4,344.3 1027.4,342.3 1027.3,340.3 1027.3,338.3 1027.2,336.3 1027.2,334.3 1027.2,332.3 1027.2,330.3 1027.2,328.3 1027.2,326.3 1027.2,324.3 1027.3,322.3 1027.3,320.3 1027.4,318.3 1027.4,316.3 1027.5,314.3 1027.6,312.3 1027.6,310.3 1027.7,308.3 1027.8,306.3 1027.8,304.3 1027.9,302.3 1027.9,300.3 1028.0,298.3 1028.1,296.3 1028.1,294.3 1028.1,292.3 1028.2,290.3 1028.2,288.3 1028.2,286.3 1028.2,284.3 1028.2,282.3 1028.2,280.3 1028.1,278.3 1028.1,276.3 1028.1,274.3 1028.1,272.3 1028.0,270.3 1028.0,268.3 1027.9,266.3 1027.9,264.3 1027.9,262.3 1027.8,260.3 1027.8,258.3 1027.7,256.3 1027.7,254.3 1027.6,252.3 1027.6,250.3 1027.5,248.3 1027.5,246.3 1027.5,244.3 1027.4,242.3 1027.4,240.3 1027.3,238.3 1027.3,236.3 1027.3,234.3 1027.2,232.3 1027.2,230.3 1027.1,228.3 1027.1,226.3 1027.0,224.3 1027.0,222.3 1026.9,220.3 1026.9,218.3 1026.8,216.3 1026.7,214.3 1026.7,212.3 1026.6,210.3 1026.6,208.3 1026.5,206.3 1026.5,204.3 1026.5,202.3 1026.4,200.3 1026.4,198.3 1026.3,196.3 1026.3,194.3 1026.3,192.3 1026.2,190.3 1026.2,188.3 1026.2,186.3 1026.1,184.3 1026.1,182.3 1026.1,180.3 1026.1,178.3 1026.1,176.3 1026.1,174.3 1026.1,172.3 1026.0,170.3 1026.0,168.3 1026.0,166.3 1026.0,164.3 1026.0,162.3 1026.0,160.3 1026.0,158.3 1026.0,156.3" fill="#FFFFB8" stroke="#D6D638" stroke-width="1" stroke-linejoin="round"/>
<polygon points="1071.7,302.9 1071.7,304.9 1071.7,306.9 1071.7,308.9 1071.7,310.9 1071.7,312.9 1071.7,314.9 1071.7,316.9 1071.6,318.9 1071.6,320.9 1071.6,322.9 1071.6,324.9 1071.6,326.9 1071.6,328.9 1071.6,330.9 1071.5,332.9 1071.5,334.9 1071.5,336.9 1071.4,338.9 1071.4,340.9 1071.4,342.9 1071.3,344.9 1071.3,346.9 1071.2,348.9 1071.2,350.8 1071.1,352.8 1071.1,354.8 1071.0,356.8 1070.9,358.8 1070.9,360.8 1070.8,362.8 1070.7,364.8 1070.6,366.8 1070.6,368.8 1070.5,370.8 1070.4,372.8 1070.3,374.8 1070.2,376.8 1070.1,378.8 1069.9,380.8 1069.8,382.8 1069.7,384.8 1069.5,386.8 1069.4,388.8 1069.2,390.8 1069.1,392.8 1068.9,394.8 1068.7,396.8 1068.5,398.8 1068.3,400.8 1068.1,402.8 1067.9,404.8 1067.6,406.8 1067.4,408.8 1067.2,410.7 1066.9,412.7 1066.6,414.7 1066.4,416.7 1066.1,418.7 1065.8,420.7 1065.5,422.7 1065.3,424.7 1065.0,426.7 1064.7,428.7 1064.5,430.7 1064.2,432.7 1064.0,434.7 1063.7,436.7 1063.5,438.7 1063.3,440.7 1063.1,442.7 1063.0,444.7 1062.8,446.7 1062.7,448.7 1062.6,450.7 1062.5,452.7 1062.4,454.7 1062.3,456.7 1062.3,458.7 1062.3,460.7 1062.3,462.7 1062.3,464.7 1062.3,466.7 1062.3,468.6 1062.4,470.6 1062.4,472.6 1062.5,474.6 1062.6,476.6 1062.7,478.6 1062.8,480.6 1062.9,482.6 1063.0,484.6 1063.2,486.6 1063.3,488.6 1063.4,490.6 1063.6,492.6 1063.7,494.6 1063.9,496.6 1064.1,498.6 1064.3,500.6 1064.5,502.6 1064.7,504.6 1064.9,506.6 1065.1,508.6 1065.3,510.6 1065.5,512.6 1065.8,514.6 1066.0,516.6 1066.3,518.6 1066.5,520.6 1066.7,522.6 1067.0,524.6 1067.2,526.6 1067.5,528.5 1067.7,530.5 1067.9,532.5 1068.1,534.5 1068.3,536.5 1068.5,538.5 1068.7,540.5 1068.9,542.5 1069.1,544.5 1069.2,546.5 1069.4,548.5 1069.5,550.5 1069.6,552.5 1069.8,554.5 1069.9,556.5 1070.0,558.5 1070.1,560.5 1070.2,562.5 1070.3,564.5 1070.3,566.5 1070.4,568.5 1070.5,570.5 1070.6,572.5 1070.6,574.5 1070.7,576.5 1070.8,578.5 1070.8,580.5 1070.9,582.5 1071.0,584.5 1071.0,586.5 1071.1,588.4 1071.1,590.4 1071.2,592.4 1071.2,594.4 1071.3,596.4 1071.3,598.4 1071.3,600.4 1071.4,602.4 1071.4,604.4 1071.5,606.4 1071.5,608.4 1071.5,610.4 1071.5,612.4 1071.6,614.4 1071.6,616.4 1071.6,618.4 1071.6,620.4 1071.6,622.4 1071.6,624.4 1071.6,626.4 1071.7,628.4 1071.7,630.4 1071.7,632.4 1071.7,634.4 1071.7,636.4 1071.7,638.4 1071.7,640.4 1071.7,642.4 1071.7,642.4 1071.7,640.4 1071.7,638.4 1071.7,636.4 1071.7,634.4 1071.7,632.4 1071.7,630.4 1071.7,628.4 1071.8,626.4 1071.8,624.4 1071.8,622.4 1071.8,620.4 1071.8,618.4 1071.8,616.4 1071.8,614.4 1071.9,612.4 1071.9,610.4 1071.9,608.4 1071.9,606.4 1072.0,604.4 1072.0,602.4 1072.1,600.4 1072.1,598.4 1072.1,596.4 1072.2,594.4 1072.2,592.4 1072.3,590.4 1072.3,588.4 1072.4,586.5 1072.4,584.5 1072.5,582.5 1072.6,580.5 1072.6,578.5 1072.7,576.5 1072.8,574.5 1072.8,572.5 1072.9,570.5 1073.0,568.5 1073.1,566.5 1073.1,564.5 1073.2,562.5 1073.3,560.5 1073.4,558.5 1073.5,556.5 1073.6,554.5 1073.8,552.5 1073.9,550.5 1074.0,548.5 1074.2,546.5 1074.3,544.5 1074.5,542.5 1074.7,540.5 1074.9,538.5 1075.1,536.5 1075.3,534.5 1075.5,532.5 1075.7,530.5 1075.9,528.5 1076.2,526.6 1076.4,524.6 1076.7,522.6 1076.9,520.6 1077.1,518.6 1077.4,516.6 1077.6,514.6 1077.9,512.6 1078.1,510.6 1078.3,508.6 1078.5,506.6 1078.7,504.6 1078.9,502.6 1079.1,500.6 1079.3,498.6 1079.5,496.6 1079.7,494.6 1079.8,492.6 1080.0,490.6 1080.1,488.6 1080.2,486.6 1080.4,484.6 1080.5,482.6 1080.6,480.6 1080.7,478.6 1080.8,476.6 1080.9,474.6 1081.0,472.6 1081.0,470.6 1081.1,468.6 1081.1,466.7 1081.1,464.7 1081.1,462.7 1081.1,460.7 1081.1,458.7 1081.1,456.7 1081.0,454.7 1080.9,452.7 1080.8,450.7 1080.7,448.7 1080.6,446.7 1080.4,444.7 1080.3,442.7 1080.1,440.7 1079.9,438.7 1079.7,436.7 1079.4,434.7 1079.2,432.7 1078.9,430.7 1078.7,428.7 1078.4,426.7 1078.1,424.7 1077.9,422.7 1077.6,420.7 1077.3,418.7 1077.0,416.7 1076.8,414.7 1076.5,412.7 1076.2,410.7 1076.0,408.8 1075.8,406.8 1075.5,404.8 1075.3,402.8 1075.1,400.8 1074.9,398.8 1074.7,396.8 1074.5,394.8 1074.3,392.8 1074.2,390.8 1074.0,388.8 1073.9,386.8 1073.7,384.8 1073.6,382.8 1073.5,380.8 1073.3,378.8 1073.2,376.8 1073.1,374.8 1073.0,372.8 1072.9,370.8 1072.8,368.8 1072.8,366.8 1072.7,364.8 1072.6,362.8 1072.5,360.8 1072.5,358.8 1072.4,356.8 1072.3,354.8 1072.3,352.8 1072.2,350.8 1072.2,348.9 1072.1,346.9 1072.1,344.9 1072.0,342.9 1072.0,340.9 1072.0,338.9 1071.9,336.9 1071.9,334.9 1071.9,332.9 1071.8,330.9 1071.8,328.9 1071.8,326.9 1071.8,324.9 1071.8,322.9 1071.8,320.9 1071.8,318.9 1071.7,316.9 1071.7,314.9 1071.7,312.9 1071.7,310.9 1071.7,308.9 1071.7,306.9 1071.7,304.9 1071.7,302.9" fill="#FFFF66" stroke="#D4D424" stroke-width="1" stroke-linejoin="round"/>
<polygon points="1098.3,271.3 1098.3,273.3 1098.3,275.3 1098.3,277.3 1098.3,279.3 1098.3,281.2 1098.2,283.2 1098.2,285.2 1098.2,287.2 1098.2,289.2 1098.2,291.2 1098.2,293.2 1098.1,295.2 1098.1,297.2 1098.1,299.2 1098.0,301.2 1098.0,303.2 1097.9,305.2 1097.9,307.2 1097.8,309.2 1097.8,311.2 1097.7,313.2 1097.6,315.2 1097.5,317.2 1097.4,319.2 1097.3,321.2 1097.2,323.2 1097.1,325.2 1097.0,327.2 1096.8,329.2 1096.7,331.1 1096.6,333.1 1096.4,335.1 1096.3,337.1 1096.1,339.1 1096.0,341.1 1095.8,343.1 1095.7,345.1 1095.5,347.1 1095.3,349.1 1095.2,351.1 1095.0,353.1 1094.9,355.1 1094.7,357.1 1094.5,359.1 1094.4,361.1 1094.2,363.1 1094.1,365.1 1093.9,367.1 1093.8,369.1 1093.6,371.1 1093.5,373.1 1093.3,375.1 1093.1,377.1 1093.0,379.1 1092.9,381.0 1092.7,383.0 1092.6,385.0 1092.4,387.0 1092.3,389.0 1092.2,391.0 1092.0,393.0 1091.9,395.0 1091.8,397.0 1091.7,399.0 1091.6,401.0 1091.5,403.0 1091.4,405.0 1091.3,407.0 1091.2,409.0 1091.1,411.0 1091.0,413.0 1091.0,415.0 1090.9,417.0 1090.9,419.0 1090.8,421.0 1090.8,423.0 1090.7,425.0 1090.7,427.0 1090.6,429.0 1090.6,430.9 1090.6,432.9 1090.5,434.9 1090.5,436.9 1090.5,438.9 1090.5,440.9 1090.5,442.9 1090.5,444.9 1090.5,446.9 1090.5,448.9 1090.5,450.9 1090.6,452.9 1090.6,454.9 1090.7,456.9 1090.8,458.9 1090.9,460.9 1091.0,462.9 1091.1,464.9 1091.3,466.9 1091.4,468.9 1091.6,470.9 1091.8,472.9 1091.9,474.9 1092.1,476.9 1092.3,478.9 1092.5,480.8 1092.7,482.8 1092.9,484.8 1093.2,486.8 1093.4,488.8 1093.6,490.8 1093.8,492.8 1094.0,494.8 1094.2,496.8 1094.4,498.8 1094.5,500.8 1094.7,502.8 1094.9,504.8 1095.0,506.8 1095.2,508.8 1095.3,510.8 1095.4,512.8 1095.6,514.8 1095.7,516.8 1095.8,518.8 1095.9,520.8 1096.0,522.8 1096.1,524.8 1096.2,526.8 1096.2,528.8 1096.3,530.7 1096.4,532.7 1096.5,534.7 1096.5,536.7 1096.6,538.7 1096.7,540.7 1096.7,542.7 1096.8,544.7 1096.9,546.7 1096.9,548.7 1097.0,550.7 1097.1,552.7 1097.1,554.7 1097.2,556.7 1097.3,558.7 1097.3,560.7 1097.4,562.7 1097.5,564.7 1097.5,566.7 1097.6,568.7 1097.6,570.7 1097.7,572.7 1097.7,574.7 1097.8,576.7 1097.8,578.7 1097.9,580.6 1097.9,582.6 1098.0,584.6 1098.0,586.6 1098.0,588.6 1098.1,590.6 1098.1,592.6 1098.1,594.6 1098.2,596.6 1098.2,598.6 1098.2,600.6 1098.2,602.6 1098.2,604.6 1098.2,606.6 1098.2,608.6 1098.3,610.6 1098.3,612.6 1098.3,614.6 1098.3,616.6 1098.3,618.6 1098.3,620.6 1098.3,622.6 1098.3,624.6 1098.3,624.6 1098.3,622.6 1098.3,620.6 1098.3,618.6 1098.3,616.6 1098.3,614.6 1098.3,612.6 1098.3,610.6 1098.4,608.6 1098.4,606.6 1098.4,604.6 1098.4,602.6 1098.4,600.6 1098.4,598.6 1098.4,596.6 1098.5,594.6 1098.5,592.6 1098.5,590.6 1098.6,588.6 1098.6,586.6 1098.6,584.6 1098.7,582.6 1098.7,580.6 1098.8,578.7 1098.8,576.7 1098.9,574.7 1098.9,572.7 1099.0,570.7 1099.0,568.7 1099.1,566.7 1099.1,564.7 1099.2,562.7 1099.3,560.7 1099.3,558.7 1099.4,556.7 1099.5,554.7 1099.5,552.7 1099.6,550.7 1099.7,548.7 1099.7,546.7 1099.8,544.7 1099.9,542.7 1099.9,540.7 1100.0,538.7 1100.1,536.7 1100.1,534.7 1100.2,532.7 1100.3,530.7 1100.4,528.8 1100.4,526.8 1100.5,524.8 1100.6,522.8 1100.7,520.8 1100.8,518.8 1100.9,516.8 1101.0,514.8 1101.2,512.8 1101.3,510.8 1101.4,508.8 1101.6,506.8 1101.7,504.8 1101.9,502.8 1102.1,500.8 1102.2,498.8 1102.4,496.8 1102.6,494.8 1102.8,492.8 1103.0,490.8 1103.2,488.8 1103.4,486.8 1103.7,484.8 1103.9,482.8 1104.1,480.8 1104.3,478.9 1104.5,476.9 1104.7,474.9 1104.8,472.9 1105.0,470.9 1105.2,468.9 1105.3,466.9 1105.5,464.9 1105.6,462.9 1105.7,460.9 1105.8,458.9 1105.9,456.9 1106.0,454.9 1106.0,452.9 1106.1,450.9 1106.1,448.9 1106.1,446.9 1106.1,444.9 1106.1,442.9 1106.1,440.9 1106.1,438.9 1106.1,436.9 1106.1,434.9 1106.0,432.9 1106.0,430.9 1106.0,429.0 1105.9,427.0 1105.9,425.0 1105.8,423.0 1105.8,421.0 1105.7,419.0 1105.7,417.0 1105.6,415.0 1105.6,413.0 1105.5,411.0 1105.4,409.0 1105.3,407.0 1105.2,405.0 1105.1,403.0 1105.0,401.0 1104.9,399.0 1104.8,397.0 1104.7,395.0 1104.6,393.0 1104.4,391.0 1104.3,389.0 1104.2,387.0 1104.0,385.0 1103.9,383.0 1103.7,381.0 1103.6,379.1 1103.5,377.1 1103.3,375.1 1103.1,373.1 1103.0,371.1 1102.8,369.1 1102.7,367.1 1102.5,365.1 1102.4,363.1 1102.2,361.1 1102.1,359.1 1101.9,357.1 1101.7,355.1 1101.6,353.1 1101.4,351.1 1101.3,349.1 1101.1,347.1 1100.9,345.1 1100.8,343.1 1100.6,341.1 1100.5,339.1 1100.3,337.1 1100.2,335.1 1100.0,333.1 1099.9,331.1 1099.8,329.2 1099.6,327.2 1099.5,325.2 1099.4,323.2 1099.3,321.2 1099.2,319.2 1099.1,317.2 1099.0,315.2 1098.9,313.2 1098.8,311.2 1098.8,309.2 1098.7,307.2 1098.7,305.2 1098.6,303.2 1098.6,301.2 1098.5,299.2 1098.5,297.2 1098.5,295.2 1098.4,293.2 1098.4,291.2 1098.4,289.2 1098.4,287.2 1098.4,285.2 1098.4,283.2 1098.3,281.2 1098.3,279.3 1098.3,277.3 1098.3,275.3 1098.3,273.3 1098.3,271.3" fill="#FFFF66" stroke="#D4D424" stroke-width="1" stroke-linejoin="round"/>
<polygon points="1124.9,203.9 1124.9,205.9 1124.9,207.9 1124.9,209.9 1124.9,211.9 1124.9,213.9 1124.8,215.9 1124.8,217.9 1124.8,219.9 1124.8,221.9 1124.8,223.9 1124.8,225.9 1124.7,227.9 1124.7,229.9 1124.7,231.9 1124.6,234.0 1124.6,236.0 1124.5,238.0 1124.5,240.0 1124.4,242.0 1124.3,244.0 1124.3,246.0 1124.2,248.0 1124.1,250.0 1124.0,252.0 1123.9,254.0 1123.8,256.0 1123.7,258.0 1123.6,260.0 1123.5,262.0 1123.3,264.0 1123.2,266.0 1123.1,268.0 1122.9,270.0 1122.8,272.0 1122.7,274.0 1122.5,276.0 1122.4,278.0 1122.3,280.0 1122.1,282.0 1122.0,284.0 1121.9,286.0 1121.8,288.0 1121.7,290.0 1121.6,292.0 1121.6,294.0 1121.5,296.0 1121.5,298.0 1121.4,300.0 1121.4,302.0 1121.4,304.0 1121.4,306.0 1121.4,308.0 1121.4,310.0 1121.5,312.0 1121.5,314.0 1121.6,316.0 1121.6,318.0 1121.7,320.0 1121.8,322.0 1121.8,324.0 1121.9,326.0 1122.0,328.0 1122.1,330.0 1122.2,332.0 1122.2,334.0 1122.3,336.0 1122.4,338.0 1122.4,340.0 1122.5,342.0 1122.5,344.0 1122.5,346.0 1122.5,348.1 1122.6,350.1 1122.5,352.1 1122.5,354.1 1122.5,356.1 1122.4,358.1 1122.4,360.1 1122.3,362.1 1122.2,364.1 1122.1,366.1 1122.0,368.1 1121.8,370.1 1121.7,372.1 1121.5,374.1 1121.3,376.1 1121.1,378.1 1121.0,380.1 1120.7,382.1 1120.5,384.1 1120.3,386.1 1120.1,388.1 1119.8,390.1 1119.6,392.1 1119.3,394.1 1119.1,396.1 1118.8,398.1 1118.6,400.1 1118.3,402.1 1118.1,404.1 1117.9,406.1 1117.6,408.1 1117.4,410.1 1117.2,412.1 1117.0,414.1 1116.9,416.1 1116.7,418.1 1116.6,420.1 1116.4,422.1 1116.3,424.1 1116.3,426.1 1116.2,428.1 1116.2,430.1 1116.2,432.1 1116.2,434.1 1116.2,436.1 1116.2,438.1 1116.3,440.1 1116.4,442.1 1116.5,444.1 1116.7,446.1 1116.8,448.1 1117.0,450.1 1117.2,452.1 1117.4,454.1 1117.6,456.1 1117.8,458.1 1118.0,460.1 1118.3,462.2 1118.5,464.2 1118.8,466.2 1119.0,468.2 1119.3,470.2 1119.6,472.2 1119.8,474.2 1120.1,476.2 1120.4,478.2 1120.6,480.2 1120.9,482.2 1121.1,484.2 1121.4,486.2 1121.6,488.2 1121.9,490.2 1122.1,492.2 1122.3,494.2 1122.5,496.2 1122.7,498.2 1122.9,500.2 1123.1,502.2 1123.3,504.2 1123.4,506.2 1123.6,508.2 1123.7,510.2 1123.8,512.2 1123.9,514.2 1124.1,516.2 1124.2,518.2 1124.2,520.2 1124.3,522.2 1124.4,524.2 1124.5,526.2 1124.5,528.2 1124.6,530.2 1124.6,532.2 1124.7,534.2 1124.7,536.2 1124.7,538.2 1124.8,540.2 1124.8,542.2 1124.8,544.2 1124.8,546.2 1124.8,548.2 1124.8,550.2 1124.9,552.2 1124.9,554.2 1124.9,556.2 1124.9,558.2 1124.9,560.2 1124.9,562.2 1124.9,564.2 1124.9,564.2 1124.9,562.2 1124.9,560.2 1124.9,558.2 1124.9,556.2 1124.9,554.2 1124.9,552.2 1125.0,550.2 1125.0,548.2 1125.0,546.2 1125.0,544.2 1125.0,542.2 1125.0,540.2 1125.1,538.2 1125.1,536.2 1125.1,534.2 1125.2,532.2 1125.2,530.2 1125.3,528.2 1125.3,526.2 1125.4,524.2 1125.5,522.2 1125.6,520.2 1125.6,518.2 1125.7,516.2 1125.9,514.2 1126.0,512.2 1126.1,510.2 1126.2,508.2 1126.4,506.2 1126.5,504.2 1126.7,502.2 1126.9,500.2 1127.1,498.2 1127.3,496.2 1127.5,494.2 1127.7,492.2 1127.9,490.2 1128.2,488.2 1128.4,486.2 1128.7,484.2 1128.9,482.2 1129.2,480.2 1129.4,478.2 1129.7,476.2 1130.0,474.2 1130.2,472.2 1130.5,470.2 1130.8,468.2 1131.0,466.2 1131.3,464.2 1131.5,462.2 1131.8,460.1 1132.0,458.1 1132.2,456.1 1132.4,454.1 1132.6,452.1 1132.8,450.1 1133.0,448.1 1133.1,446.1 1133.3,444.1 1133.4,442.1 1133.5,440.1 1133.6,438.1 1133.6,436.1 1133.6,434.1 1133.6,432.1 1133.6,430.1 1133.6,428.1 1133.5,426.1 1133.5,424.1 1133.4,422.1 1133.2,420.1 1133.1,418.1 1132.9,416.1 1132.8,414.1 1132.6,412.1 1132.4,410.1 1132.2,408.1 1131.9,406.1 1131.7,404.1 1131.5,402.1 1131.2,400.1 1131.0,398.1 1130.7,396.1 1130.5,394.1 1130.2,392.1 1130.0,390.1 1129.7,388.1 1129.5,386.1 1129.3,384.1 1129.1,382.1 1128.8,380.1 1128.7,378.1 1128.5,376.1 1128.3,374.1 1128.1,372.1 1128.0,370.1 1127.8,368.1 1127.7,366.1 1127.6,364.1 1127.5,362.1 1127.4,360.1 1127.4,358.1 1127.3,356.1 1127.3,354.1 1127.3,352.1 1127.2,350.1 1127.3,348.1 1127.3,346.0 1127.3,344.0 1127.3,342.0 1127.4,340.0 1127.4,338.0 1127.5,336.0 1127.6,334.0 1127.6,332.0 1127.7,330.0 1127.8,328.0 1127.9,326.0 1128.0,324.0 1128.0,322.0 1128.1,320.0 1128.2,318.0 1128.2,316.0 1128.3,314.0 1128.3,312.0 1128.4,310.0 1128.4,308.0 1128.4,306.0 1128.4,304.0 1128.4,302.0 1128.4,300.0 1128.3,298.0 1128.3,296.0 1128.2,294.0 1128.2,292.0 1128.1,290.0 1128.0,288.0 1127.9,286.0 1127.8,284.0 1127.7,282.0 1127.5,280.0 1127.4,278.0 1127.3,276.0 1127.1,274.0 1127.0,272.0 1126.9,270.0 1126.7,268.0 1126.6,266.0 1126.5,264.0 1126.3,262.0 1126.2,260.0 1126.1,258.0 1126.0,256.0 1125.9,254.0 1125.8,252.0 1125.7,250.0 1125.6,248.0 1125.5,246.0 1125.5,244.0 1125.4,242.0 1125.3,240.0 1125.3,238.0 1125.2,236.0 1125.2,234.0 1125.1,231.9 1125.1,229.9 1125.1,227.9 1125.0,225.9 1125.0,223.9 1125.0,221.9 1125.0,219.9 1125.0,217.9 1125.0,215.9 1124.9,213.9 1124.9,211.9 1124.9,209.9 1124.9,207.9 1124.9,205.9 1124.9,203.9" fill="#FFFF66" stroke="#D4D424" stroke-width="1" stroke-linejoin="round"/>
<polygon points="1168.3,293.0 1168.3,295.0 1168.3,297.0 1168.3,299.0 1168.3,301.0 1168.3,303.0 1168.3,305.0 1168.3,307.0 1168.2,309.0 1168.2,311.0 1168.2,313.0 1168.2,314.9 1168.2,316.9 1168.2,318.9 1168.1,320.9 1168.1,322.9 1168.1,324.9 1168.1,326.9 1168.0,328.9 1168.0,330.9 1167.9,332.9 1167.9,334.9 1167.8,336.9 1167.8,338.9 1167.7,340.9 1167.6,342.9 1167.6,344.9 1167.5,346.9 1167.4,348.9 1167.3,350.9 1167.2,352.9 1167.1,354.9 1167.0,356.9 1166.9,358.9 1166.8,360.9 1166.7,362.9 1166.6,364.9 1166.4,366.8 1166.3,368.8 1166.2,370.8 1166.0,372.8 1165.9,374.8 1165.8,376.8 1165.6,378.8 1165.5,380.8 1165.3,382.8 1165.2,384.8 1165.0,386.8 1164.9,388.8 1164.7,390.8 1164.6,392.8 1164.4,394.8 1164.2,396.8 1164.1,398.8 1163.9,400.8 1163.8,402.8 1163.6,404.8 1163.5,406.8 1163.3,408.8 1163.1,410.8 1163.0,412.8 1162.8,414.8 1162.7,416.8 1162.5,418.7 1162.4,420.7 1162.2,422.7 1162.0,424.7 1161.9,426.7 1161.7,428.7 1161.6,430.7 1161.4,432.7 1161.2,434.7 1161.1,436.7 1160.9,438.7 1160.7,440.7 1160.6,442.7 1160.4,444.7 1160.2,446.7 1160.1,448.7 1159.9,450.7 1159.7,452.7 1159.6,454.7 1159.4,456.7 1159.3,458.7 1159.2,460.7 1159.1,462.7 1159.0,464.7 1158.9,466.7 1158.9,468.7 1158.8,470.6 1158.8,472.6 1158.9,474.6 1158.9,476.6 1159.0,478.6 1159.1,480.6 1159.2,482.6 1159.3,484.6 1159.5,486.6 1159.6,488.6 1159.8,490.6 1160.1,492.6 1160.3,494.6 1160.6,496.6 1160.8,498.6 1161.1,500.6 1161.4,502.6 1161.7,504.6 1161.9,506.6 1162.2,508.6 1162.5,510.6 1162.8,512.6 1163.1,514.6 1163.3,516.6 1163.6,518.6 1163.9,520.6 1164.1,522.5 1164.3,524.5 1164.6,526.5 1164.8,528.5 1165.0,530.5 1165.2,532.5 1165.4,534.5 1165.5,536.5 1165.7,538.5 1165.8,540.5 1166.0,542.5 1166.1,544.5 1166.3,546.5 1166.4,548.5 1166.5,550.5 1166.6,552.5 1166.7,554.5 1166.8,556.5 1166.9,558.5 1167.0,560.5 1167.1,562.5 1167.2,564.5 1167.2,566.5 1167.3,568.5 1167.4,570.5 1167.5,572.5 1167.5,574.4 1167.6,576.4 1167.7,578.4 1167.7,580.4 1167.8,582.4 1167.8,584.4 1167.9,586.4 1167.9,588.4 1168.0,590.4 1168.0,592.4 1168.0,594.4 1168.1,596.4 1168.1,598.4 1168.1,600.4 1168.2,602.4 1168.2,604.4 1168.2,606.4 1168.2,608.4 1168.2,610.4 1168.2,612.4 1168.2,614.4 1168.3,616.4 1168.3,618.4 1168.3,620.4 1168.3,622.4 1168.3,624.3 1168.3,626.3 1168.3,628.3 1168.3,630.3 1168.3,630.3 1168.3,628.3 1168.3,626.3 1168.3,624.3 1168.3,622.4 1168.3,620.4 1168.3,618.4 1168.3,616.4 1168.4,614.4 1168.4,612.4 1168.4,610.4 1168.4,608.4 1168.4,606.4 1168.4,604.4 1168.4,602.4 1168.5,600.4 1168.5,598.4 1168.5,596.4 1168.6,594.4 1168.6,592.4 1168.6,590.4 1168.7,588.4 1168.7,586.4 1168.8,584.4 1168.8,582.4 1168.9,580.4 1168.9,578.4 1169.0,576.4 1169.1,574.4 1169.1,572.5 1169.2,570.5 1169.3,568.5 1169.4,566.5 1169.4,564.5 1169.5,562.5 1169.6,560.5 1169.7,558.5 1169.8,556.5 1169.9,554.5 1170.0,552.5 1170.1,550.5 1170.2,548.5 1170.3,546.5 1170.5,544.5 1170.6,542.5 1170.8,540.5 1170.9,538.5 1171.1,536.5 1171.2,534.5 1171.4,532.5 1171.6,530.5 1171.8,528.5 1172.0,526.5 1172.3,524.5 1172.5,522.5 1172.7,520.6 1173.0,518.6 1173.3,516.6 1173.5,514.6 1173.8,512.6 1174.1,510.6 1174.4,508.6 1174.7,506.6 1174.9,504.6 1175.2,502.6 1175.5,500.6 1175.8,498.6 1176.0,496.6 1176.3,494.6 1176.5,492.6 1176.8,490.6 1177.0,488.6 1177.1,486.6 1177.3,484.6 1177.4,482.6 1177.5,480.6 1177.6,478.6 1177.7,476.6 1177.7,474.6 1177.8,472.6 1177.8,470.6 1177.7,468.7 1177.7,466.7 1177.6,464.7 1177.5,462.7 1177.4,460.7 1177.3,458.7 1177.2,456.7 1177.0,454.7 1176.9,452.7 1176.7,450.7 1176.5,448.7 1176.4,446.7 1176.2,444.7 1176.0,442.7 1175.9,440.7 1175.7,438.7 1175.5,436.7 1175.4,434.7 1175.2,432.7 1175.0,430.7 1174.9,428.7 1174.7,426.7 1174.6,424.7 1174.4,422.7 1174.2,420.7 1174.1,418.7 1173.9,416.8 1173.8,414.8 1173.6,412.8 1173.5,410.8 1173.3,408.8 1173.1,406.8 1173.0,404.8 1172.8,402.8 1172.7,400.8 1172.5,398.8 1172.4,396.8 1172.2,394.8 1172.0,392.8 1171.9,390.8 1171.7,388.8 1171.6,386.8 1171.4,384.8 1171.3,382.8 1171.1,380.8 1171.0,378.8 1170.8,376.8 1170.7,374.8 1170.6,372.8 1170.4,370.8 1170.3,368.8 1170.2,366.8 1170.0,364.9 1169.9,362.9 1169.8,360.9 1169.7,358.9 1169.6,356.9 1169.5,354.9 1169.4,352.9 1169.3,350.9 1169.2,348.9 1169.1,346.9 1169.0,344.9 1169.0,342.9 1168.9,340.9 1168.8,338.9 1168.8,336.9 1168.7,334.9 1168.7,332.9 1168.6,330.9 1168.6,328.9 1168.5,326.9 1168.5,324.9 1168.5,322.9 1168.5,320.9 1168.4,318.9 1168.4,316.9 1168.4,314.9 1168.4,313.0 1168.4,311.0 1168.4,309.0 1168.3,307.0 1168.3,305.0 1168.3,303.0 1168.3,301.0 1168.3,299.0 1168.3,297.0 1168.3,295.0 1168.3,293.0" fill="#FFFF26" stroke="#D6D610" stroke-width="1" stroke-linejoin="round"/>
<polygon points="1195.1,290.0 1195.1,292.0 1195.1,294.0 1195.0,296.0 1195.0,298.0 1195.0,300.0 1195.0,302.0 1195.0,304.0 1194.9,306.0 1194.9,308.0 1194.9,310.0 1194.8,312.1 1194.8,314.1 1194.7,316.1 1194.7,318.1 1194.6,320.1 1194.5,322.1 1194.4,324.1 1194.3,326.1 1194.2,328.1 1194.1,330.1 1193.9,332.1 1193.8,334.1 1193.6,336.1 1193.5,338.1 1193.3,340.1 1193.1,342.1 1192.9,344.2 1192.7,346.2 1192.5,348.2 1192.2,350.2 1192.0,352.2 1191.8,354.2 1191.6,356.2 1191.3,358.2 1191.1,360.2 1190.9,362.2 1190.6,364.2 1190.4,366.2 1190.2,368.2 1190.0,370.2 1189.8,372.2 1189.6,374.2 1189.4,376.3 1189.2,378.3 1189.0,380.3 1188.8,382.3 1188.7,384.3 1188.5,386.3 1188.4,388.3 1188.2,390.3 1188.1,392.3 1188.0,394.3 1187.9,396.3 1187.8,398.3 1187.7,400.3 1187.6,402.3 1187.5,404.3 1187.4,406.3 1187.3,408.4 1187.2,410.4 1187.2,412.4 1187.1,414.4 1187.1,416.4 1187.0,418.4 1187.0,420.4 1186.9,422.4 1186.9,424.4 1186.9,426.4 1186.9,428.4 1186.9,430.4 1186.9,432.4 1186.9,434.4 1186.9,436.4 1186.9,438.4 1186.9,440.4 1186.9,442.5 1187.0,444.5 1187.0,446.5 1187.0,448.5 1187.1,450.5 1187.2,452.5 1187.2,454.5 1187.3,456.5 1187.4,458.5 1187.5,460.5 1187.6,462.5 1187.7,464.5 1187.8,466.5 1187.9,468.5 1188.0,470.5 1188.2,472.5 1188.3,474.6 1188.5,476.6 1188.7,478.6 1188.8,480.6 1189.0,482.6 1189.2,484.6 1189.4,486.6 1189.6,488.6 1189.8,490.6 1190.0,492.6 1190.3,494.6 1190.5,496.6 1190.7,498.6 1190.9,500.6 1191.2,502.6 1191.4,504.6 1191.6,506.7 1191.8,508.7 1192.1,510.7 1192.3,512.7 1192.5,514.7 1192.7,516.7 1192.9,518.7 1193.1,520.7 1193.2,522.7 1193.4,524.7 1193.6,526.7 1193.7,528.7 1193.9,530.7 1194.0,532.7 1194.1,534.7 1194.2,536.7 1194.3,538.8 1194.4,540.8 1194.5,542.8 1194.6,544.8 1194.7,546.8 1194.7,548.8 1194.8,550.8 1194.8,552.8 1194.9,554.8 1194.9,556.8 1194.9,558.8 1195.0,560.8 1195.0,562.8 1195.0,564.8 1195.0,566.8 1195.0,568.8 1195.0,570.9 1195.1,572.9 1195.1,574.9 1195.1,576.9 1195.1,578.9 1195.1,580.9 1195.1,580.9 1195.1,578.9 1195.1,576.9 1195.1,574.9 1195.1,572.9 1195.2,570.9 1195.2,568.8 1195.2,566.8 1195.2,564.8 1195.2,562.8 1195.2,560.8 1195.3,558.8 1195.3,556.8 1195.3,554.8 1195.4,552.8 1195.4,550.8 1195.5,548.8 1195.5,546.8 1195.6,544.8 1195.7,542.8 1195.8,540.8 1195.9,538.8 1196.0,536.7 1196.1,534.7 1196.2,532.7 1196.3,530.7 1196.5,528.7 1196.6,526.7 1196.8,524.7 1197.0,522.7 1197.1,520.7 1197.3,518.7 1197.5,516.7 1197.7,514.7 1197.9,512.7 1198.1,510.7 1198.4,508.7 1198.6,506.7 1198.8,504.6 1199.0,502.6 1199.3,500.6 1199.5,498.6 1199.7,496.6 1199.9,494.6 1200.2,492.6 1200.4,490.6 1200.6,488.6 1200.8,486.6 1201.0,484.6 1201.2,482.6 1201.4,480.6 1201.5,478.6 1201.7,476.6 1201.9,474.6 1202.0,472.5 1202.2,470.5 1202.3,468.5 1202.4,466.5 1202.5,464.5 1202.6,462.5 1202.7,460.5 1202.8,458.5 1202.9,456.5 1203.0,454.5 1203.0,452.5 1203.1,450.5 1203.2,448.5 1203.2,446.5 1203.2,444.5 1203.3,442.5 1203.3,440.4 1203.3,438.4 1203.3,436.4 1203.3,434.4 1203.3,432.4 1203.3,430.4 1203.3,428.4 1203.3,426.4 1203.3,424.4 1203.3,422.4 1203.2,420.4 1203.2,418.4 1203.1,416.4 1203.1,414.4 1203.0,412.4 1203.0,410.4 1202.9,408.4 1202.8,406.3 1202.7,404.3 1202.6,402.3 1202.5,400.3 1202.4,398.3 1202.3,396.3 1202.2,394.3 1202.1,392.3 1202.0,390.3 1201.8,388.3 1201.7,386.3 1201.5,384.3 1201.4,382.3 1201.2,380.3 1201.0,378.3 1200.8,376.3 1200.6,374.2 1200.4,372.2 1200.2,370.2 1200.0,368.2 1199.8,366.2 1199.6,364.2 1199.3,362.2 1199.1,360.2 1198.9,358.2 1198.6,356.2 1198.4,354.2 1198.2,352.2 1198.0,350.2 1197.7,348.2 1197.5,346.2 1197.3,344.2 1197.1,342.1 1196.9,340.1 1196.7,338.1 1196.6,336.1 1196.4,334.1 1196.3,332.1 1196.1,330.1 1196.0,328.1 1195.9,326.1 1195.8,324.1 1195.7,322.1 1195.6,320.1 1195.5,318.1 1195.5,316.1 1195.4,314.1 1195.4,312.1 1195.3,310.0 1195.3,308.0 1195.3,306.0 1195.2,304.0 1195.2,302.0 1195.2,300.0 1195.2,298.0 1195.2,296.0 1195.1,294.0 1195.1,292.0 1195.1,290.0" fill="#FFFF26" stroke="#D6D610" stroke-width="1" stroke-linejoin="round"/>
<polygon points="1221.9,235.6 1221.9,237.6 1221.9,239.6 1221.9,241.6 1221.9,243.6 1221.9,245.6 1221.8,247.6 1221.8,249.6 1221.8,251.6 1221.8,253.6 1221.8,255.6 1221.8,257.6 1221.7,259.5 1221.7,261.5 1221.7,263.5 1221.6,265.5 1221.6,267.5 1221.5,269.5 1221.5,271.5 1221.4,273.5 1221.3,275.5 1221.2,277.5 1221.2,279.5 1221.1,281.5 1220.9,283.5 1220.8,285.5 1220.7,287.5 1220.6,289.5 1220.4,291.5 1220.3,293.5 1220.1,295.5 1220.0,297.5 1219.8,299.5 1219.6,301.5 1219.4,303.5 1219.2,305.5 1219.1,307.5 1218.9,309.5 1218.7,311.5 1218.5,313.5 1218.3,315.5 1218.2,317.5 1218.0,319.5 1217.8,321.5 1217.7,323.5 1217.5,325.4 1217.4,327.4 1217.3,329.4 1217.2,331.4 1217.1,333.4 1217.0,335.4 1216.9,337.4 1216.9,339.4 1216.8,341.4 1216.8,343.4 1216.7,345.4 1216.7,347.4 1216.7,349.4 1216.7,351.4 1216.7,353.4 1216.7,355.4 1216.7,357.4 1216.7,359.4 1216.7,361.4 1216.7,363.4 1216.7,365.4 1216.8,367.4 1216.8,369.4 1216.8,371.4 1216.8,373.4 1216.8,375.4 1216.8,377.4 1216.8,379.4 1216.7,381.4 1216.7,383.4 1216.7,385.4 1216.6,387.4 1216.6,389.4 1216.5,391.3 1216.4,393.3 1216.3,395.3 1216.2,397.3 1216.0,399.3 1215.9,401.3 1215.7,403.3 1215.6,405.3 1215.4,407.3 1215.2,409.3 1215.0,411.3 1214.9,413.3 1214.7,415.3 1214.5,417.3 1214.3,419.3 1214.2,421.3 1214.0,423.3 1213.9,425.3 1213.8,427.3 1213.7,429.3 1213.6,431.3 1213.5,433.3 1213.5,435.3 1213.5,437.3 1213.5,439.3 1213.6,441.3 1213.7,443.3 1213.8,445.3 1213.9,447.3 1214.0,449.3 1214.2,451.3 1214.4,453.3 1214.6,455.3 1214.9,457.2 1215.1,459.2 1215.4,461.2 1215.6,463.2 1215.9,465.2 1216.2,467.2 1216.5,469.2 1216.7,471.2 1217.0,473.2 1217.3,475.2 1217.6,477.2 1217.9,479.2 1218.1,481.2 1218.4,483.2 1218.6,485.2 1218.9,487.2 1219.1,489.2 1219.3,491.2 1219.5,493.2 1219.7,495.2 1219.9,497.2 1220.1,499.2 1220.3,501.2 1220.4,503.2 1220.6,505.2 1220.7,507.2 1220.8,509.2 1221.0,511.2 1221.1,513.2 1221.2,515.2 1221.2,517.2 1221.3,519.2 1221.4,521.2 1221.5,523.1 1221.5,525.1 1221.6,527.1 1221.6,529.1 1221.7,531.1 1221.7,533.1 1221.7,535.1 1221.7,537.1 1221.8,539.1 1221.8,541.1 1221.8,543.1 1221.8,545.1 1221.8,547.1 1221.8,549.1 1221.9,551.1 1221.9,553.1 1221.9,555.1 1221.9,557.1 1221.9,559.1 1221.9,561.1 1221.9,563.1 1221.9,563.1 1221.9,561.1 1221.9,559.1 1221.9,557.1 1221.9,555.1 1221.9,553.1 1221.9,551.1 1222.0,549.1 1222.0,547.1 1222.0,545.1 1222.0,543.1 1222.0,541.1 1222.0,539.1 1222.1,537.1 1222.1,535.1 1222.1,533.1 1222.1,531.1 1222.2,529.1 1222.2,527.1 1222.3,525.1 1222.3,523.1 1222.4,521.2 1222.5,519.2 1222.6,517.2 1222.6,515.2 1222.7,513.2 1222.8,511.2 1223.0,509.2 1223.1,507.2 1223.2,505.2 1223.4,503.2 1223.5,501.2 1223.7,499.2 1223.9,497.2 1224.1,495.2 1224.3,493.2 1224.5,491.2 1224.7,489.2 1224.9,487.2 1225.2,485.2 1225.4,483.2 1225.7,481.2 1225.9,479.2 1226.2,477.2 1226.5,475.2 1226.8,473.2 1227.1,471.2 1227.3,469.2 1227.6,467.2 1227.9,465.2 1228.2,463.2 1228.4,461.2 1228.7,459.2 1228.9,457.2 1229.2,455.3 1229.4,453.3 1229.6,451.3 1229.8,449.3 1229.9,447.3 1230.0,445.3 1230.1,443.3 1230.2,441.3 1230.3,439.3 1230.3,437.3 1230.3,435.3 1230.3,433.3 1230.2,431.3 1230.1,429.3 1230.0,427.3 1229.9,425.3 1229.8,423.3 1229.6,421.3 1229.5,419.3 1229.3,417.3 1229.1,415.3 1228.9,413.3 1228.8,411.3 1228.6,409.3 1228.4,407.3 1228.2,405.3 1228.1,403.3 1227.9,401.3 1227.8,399.3 1227.6,397.3 1227.5,395.3 1227.4,393.3 1227.3,391.3 1227.2,389.4 1227.2,387.4 1227.1,385.4 1227.1,383.4 1227.1,381.4 1227.0,379.4 1227.0,377.4 1227.0,375.4 1227.0,373.4 1227.0,371.4 1227.0,369.4 1227.0,367.4 1227.1,365.4 1227.1,363.4 1227.1,361.4 1227.1,359.4 1227.1,357.4 1227.1,355.4 1227.1,353.4 1227.1,351.4 1227.1,349.4 1227.1,347.4 1227.1,345.4 1227.0,343.4 1227.0,341.4 1226.9,339.4 1226.9,337.4 1226.8,335.4 1226.7,333.4 1226.6,331.4 1226.5,329.4 1226.4,327.4 1226.3,325.4 1226.1,323.5 1226.0,321.5 1225.8,319.5 1225.6,317.5 1225.5,315.5 1225.3,313.5 1225.1,311.5 1224.9,309.5 1224.7,307.5 1224.6,305.5 1224.4,303.5 1224.2,301.5 1224.0,299.5 1223.8,297.5 1223.7,295.5 1223.5,293.5 1223.4,291.5 1223.2,289.5 1223.1,287.5 1223.0,285.5 1222.9,283.5 1222.7,281.5 1222.6,279.5 1222.6,277.5 1222.5,275.5 1222.4,273.5 1222.3,271.5 1222.3,269.5 1222.2,267.5 1222.2,265.5 1222.1,263.5 1222.1,261.5 1222.1,259.5 1222.0,257.6 1222.0,255.6 1222.0,253.6 1222.0,251.6 1222.0,249.6 1222.0,247.6 1221.9,245.6 1221.9,243.6 1221.9,241.6 1221.9,239.6 1221.9,237.6 1221.9,235.6" fill="#FFFF26" stroke="#D6D610" stroke-width="1" stroke-linejoin="round"/>
<polygon points="1265.4,282.4 1265.4,284.4 1265.4,286.4 1265.4,288.4 1265.4,290.4 1265.4,292.4 1265.4,294.4 1265.4,296.4 1265.3,298.4 1265.3,300.4 1265.3,302.4 1265.3,304.4 1265.3,306.4 1265.3,308.4 1265.2,310.4 1265.2,312.4 1265.2,314.4 1265.2,316.4 1265.1,318.4 1265.1,320.4 1265.0,322.4 1265.0,324.4 1264.9,326.4 1264.9,328.4 1264.8,330.4 1264.7,332.4 1264.7,334.4 1264.6,336.4 1264.5,338.4 1264.4,340.4 1264.3,342.5 1264.2,344.5 1264.1,346.5 1264.0,348.5 1263.9,350.5 1263.8,352.5 1263.7,354.5 1263.6,356.5 1263.4,358.5 1263.3,360.5 1263.2,362.5 1263.0,364.5 1262.9,366.5 1262.8,368.5 1262.6,370.5 1262.5,372.5 1262.3,374.5 1262.2,376.5 1262.0,378.5 1261.9,380.5 1261.7,382.5 1261.5,384.5 1261.3,386.5 1261.2,388.5 1261.0,390.5 1260.8,392.5 1260.6,394.5 1260.3,396.5 1260.1,398.5 1259.9,400.5 1259.7,402.5 1259.4,404.5 1259.2,406.5 1259.0,408.5 1258.7,410.6 1258.5,412.6 1258.2,414.6 1258.0,416.6 1257.7,418.6 1257.5,420.6 1257.3,422.6 1257.1,424.6 1256.9,426.6 1256.7,428.6 1256.5,430.6 1256.3,432.6 1256.2,434.6 1256.1,436.6 1256.0,438.6 1255.9,440.6 1255.8,442.6 1255.8,444.6 1255.7,446.6 1255.7,448.6 1255.7,450.6 1255.8,452.6 1255.8,454.6 1255.9,456.6 1256.0,458.6 1256.1,460.6 1256.3,462.6 1256.4,464.6 1256.5,466.6 1256.7,468.6 1256.9,470.6 1257.1,472.6 1257.3,474.6 1257.5,476.6 1257.7,478.7 1257.9,480.7 1258.1,482.7 1258.3,484.7 1258.5,486.7 1258.7,488.7 1259.0,490.7 1259.2,492.7 1259.4,494.7 1259.6,496.7 1259.9,498.7 1260.1,500.7 1260.3,502.7 1260.5,504.7 1260.8,506.7 1261.0,508.7 1261.2,510.7 1261.4,512.7 1261.6,514.7 1261.8,516.7 1262.0,518.7 1262.2,520.7 1262.4,522.7 1262.6,524.7 1262.8,526.7 1263.0,528.7 1263.2,530.7 1263.3,532.7 1263.5,534.7 1263.6,536.7 1263.8,538.7 1263.9,540.7 1264.1,542.7 1264.2,544.8 1264.3,546.8 1264.4,548.8 1264.5,550.8 1264.6,552.8 1264.7,554.8 1264.8,556.8 1264.8,558.8 1264.9,560.8 1265.0,562.8 1265.0,564.8 1265.1,566.8 1265.1,568.8 1265.2,570.8 1265.2,572.8 1265.2,574.8 1265.2,576.8 1265.3,578.8 1265.3,580.8 1265.3,582.8 1265.3,584.8 1265.3,586.8 1265.3,588.8 1265.4,590.8 1265.4,592.8 1265.4,594.8 1265.4,596.8 1265.4,598.8 1265.4,600.8 1265.4,602.8 1265.4,602.8 1265.4,600.8 1265.4,598.8 1265.4,596.8 1265.4,594.8 1265.4,592.8 1265.4,590.8 1265.5,588.8 1265.5,586.8 1265.5,584.8 1265.5,582.8 1265.5,580.8 1265.5,578.8 1265.6,576.8 1265.6,574.8 1265.6,572.8 1265.6,570.8 1265.7,568.8 1265.7,566.8 1265.8,564.8 1265.8,562.8 1265.9,560.8 1266.0,558.8 1266.0,556.8 1266.1,554.8 1266.2,552.8 1266.3,550.8 1266.4,548.8 1266.5,546.8 1266.6,544.8 1266.7,542.7 1266.9,540.7 1267.0,538.7 1267.2,536.7 1267.3,534.7 1267.5,532.7 1267.6,530.7 1267.8,528.7 1268.0,526.7 1268.2,524.7 1268.4,522.7 1268.6,520.7 1268.8,518.7 1269.0,516.7 1269.2,514.7 1269.4,512.7 1269.6,510.7 1269.8,508.7 1270.0,506.7 1270.3,504.7 1270.5,502.7 1270.7,500.7 1270.9,498.7 1271.2,496.7 1271.4,494.7 1271.6,492.7 1271.8,490.7 1272.1,488.7 1272.3,486.7 1272.5,484.7 1272.7,482.7 1272.9,480.7 1273.1,478.7 1273.3,476.6 1273.5,474.6 1273.7,472.6 1273.9,470.6 1274.1,468.6 1274.3,466.6 1274.4,464.6 1274.5,462.6 1274.7,460.6 1274.8,458.6 1274.9,456.6 1275.0,454.6 1275.0,452.6 1275.1,450.6 1275.1,448.6 1275.1,446.6 1275.0,444.6 1275.0,442.6 1274.9,440.6 1274.8,438.6 1274.7,436.6 1274.6,434.6 1274.5,432.6 1274.3,430.6 1274.1,428.6 1273.9,426.6 1273.7,424.6 1273.5,422.6 1273.3,420.6 1273.1,418.6 1272.8,416.6 1272.6,414.6 1272.3,412.6 1272.1,410.6 1271.8,408.5 1271.6,406.5 1271.4,404.5 1271.1,402.5 1270.9,400.5 1270.7,398.5 1270.5,396.5 1270.2,394.5 1270.0,392.5 1269.8,390.5 1269.6,388.5 1269.5,386.5 1269.3,384.5 1269.1,382.5 1268.9,380.5 1268.8,378.5 1268.6,376.5 1268.5,374.5 1268.3,372.5 1268.2,370.5 1268.0,368.5 1267.9,366.5 1267.8,364.5 1267.6,362.5 1267.5,360.5 1267.4,358.5 1267.2,356.5 1267.1,354.5 1267.0,352.5 1266.9,350.5 1266.8,348.5 1266.7,346.5 1266.6,344.5 1266.5,342.5 1266.4,340.4 1266.3,338.4 1266.2,336.4 1266.1,334.4 1266.1,332.4 1266.0,330.4 1265.9,328.4 1265.9,326.4 1265.8,324.4 1265.8,322.4 1265.7,320.4 1265.7,318.4 1265.6,316.4 1265.6,314.4 1265.6,312.4 1265.6,310.4 1265.5,308.4 1265.5,306.4 1265.5,304.4 1265.5,302.4 1265.5,300.4 1265.5,298.4 1265.4,296.4 1265.4,294.4 1265.4,292.4 1265.4,290.4 1265.4,288.4 1265.4,286.4 1265.4,284.4 1265.4,282.4" fill="#E8E800" stroke="#CDCD00" stroke-width="1" stroke-linejoin="round"/>
<polygon points="1292.0,256.5 1292.0,258.5 1292.0,260.5 1292.0,262.5 1292.0,264.5 1292.0,266.5 1292.0,268.5 1292.0,270.5 1291.9,272.5 1291.9,274.5 1291.9,276.5 1291.9,278.5 1291.9,280.5 1291.9,282.5 1291.9,284.5 1291.8,286.5 1291.8,288.5 1291.8,290.5 1291.7,292.5 1291.7,294.5 1291.7,296.5 1291.6,298.5 1291.6,300.5 1291.5,302.5 1291.5,304.5 1291.4,306.5 1291.4,308.5 1291.3,310.5 1291.3,312.5 1291.2,314.5 1291.1,316.5 1291.1,318.5 1291.0,320.5 1290.9,322.5 1290.8,324.5 1290.7,326.5 1290.6,328.5 1290.6,330.5 1290.5,332.5 1290.4,334.5 1290.3,336.5 1290.1,338.5 1290.0,340.5 1289.9,342.5 1289.8,344.5 1289.7,346.5 1289.5,348.5 1289.4,350.5 1289.2,352.5 1289.1,354.5 1288.9,356.4 1288.8,358.4 1288.6,360.4 1288.4,362.4 1288.2,364.4 1288.0,366.4 1287.8,368.4 1287.6,370.4 1287.4,372.4 1287.2,374.4 1287.0,376.4 1286.8,378.4 1286.6,380.4 1286.4,382.4 1286.2,384.4 1286.0,386.4 1285.8,388.4 1285.6,390.4 1285.4,392.4 1285.2,394.4 1285.0,396.4 1284.8,398.4 1284.6,400.4 1284.5,402.4 1284.3,404.4 1284.2,406.4 1284.0,408.4 1283.9,410.4 1283.8,412.4 1283.7,414.4 1283.6,416.4 1283.5,418.4 1283.4,420.4 1283.3,422.4 1283.2,424.4 1283.2,426.4 1283.1,428.4 1283.1,430.4 1283.1,432.4 1283.0,434.4 1283.0,436.4 1283.0,438.4 1283.0,440.4 1283.0,442.4 1283.0,444.4 1283.0,446.4 1283.1,448.4 1283.1,450.4 1283.2,452.4 1283.2,454.4 1283.3,456.4 1283.4,458.4 1283.5,460.4 1283.7,462.4 1283.8,464.4 1284.0,466.4 1284.1,468.4 1284.3,470.4 1284.5,472.4 1284.7,474.4 1285.0,476.4 1285.2,478.4 1285.5,480.4 1285.8,482.4 1286.1,484.4 1286.3,486.4 1286.6,488.4 1286.9,490.4 1287.2,492.4 1287.6,494.4 1287.9,496.4 1288.2,498.4 1288.4,500.4 1288.7,502.4 1289.0,504.4 1289.3,506.4 1289.5,508.4 1289.8,510.4 1290.0,512.4 1290.2,514.4 1290.4,516.4 1290.6,518.4 1290.8,520.4 1290.9,522.4 1291.0,524.4 1291.2,526.4 1291.3,528.4 1291.4,530.4 1291.5,532.4 1291.6,534.4 1291.6,536.4 1291.7,538.4 1291.7,540.4 1291.8,542.4 1291.8,544.4 1291.8,546.4 1291.9,548.4 1291.9,550.4 1291.9,552.4 1291.9,554.4 1291.9,556.4 1292.0,558.4 1292.0,560.4 1292.0,562.4 1292.0,562.4 1292.0,560.4 1292.0,558.4 1292.1,556.4 1292.1,554.4 1292.1,552.4 1292.1,550.4 1292.1,548.4 1292.2,546.4 1292.2,544.4 1292.2,542.4 1292.3,540.4 1292.3,538.4 1292.4,536.4 1292.4,534.4 1292.5,532.4 1292.6,530.4 1292.7,528.4 1292.8,526.4 1293.0,524.4 1293.1,522.4 1293.2,520.4 1293.4,518.4 1293.6,516.4 1293.8,514.4 1294.0,512.4 1294.2,510.4 1294.5,508.4 1294.7,506.4 1295.0,504.4 1295.3,502.4 1295.6,500.4 1295.8,498.4 1296.1,496.4 1296.4,494.4 1296.8,492.4 1297.1,490.4 1297.4,488.4 1297.7,486.4 1297.9,484.4 1298.2,482.4 1298.5,480.4 1298.8,478.4 1299.0,476.4 1299.3,474.4 1299.5,472.4 1299.7,470.4 1299.9,468.4 1300.0,466.4 1300.2,464.4 1300.3,462.4 1300.5,460.4 1300.6,458.4 1300.7,456.4 1300.8,454.4 1300.8,452.4 1300.9,450.4 1300.9,448.4 1301.0,446.4 1301.0,444.4 1301.0,442.4 1301.0,440.4 1301.0,438.4 1301.0,436.4 1301.0,434.4 1300.9,432.4 1300.9,430.4 1300.9,428.4 1300.8,426.4 1300.8,424.4 1300.7,422.4 1300.6,420.4 1300.5,418.4 1300.4,416.4 1300.3,414.4 1300.2,412.4 1300.1,410.4 1300.0,408.4 1299.8,406.4 1299.7,404.4 1299.5,402.4 1299.4,400.4 1299.2,398.4 1299.0,396.4 1298.8,394.4 1298.6,392.4 1298.4,390.4 1298.2,388.4 1298.0,386.4 1297.8,384.4 1297.6,382.4 1297.4,380.4 1297.2,378.4 1297.0,376.4 1296.8,374.4 1296.6,372.4 1296.4,370.4 1296.2,368.4 1296.0,366.4 1295.8,364.4 1295.6,362.4 1295.4,360.4 1295.2,358.4 1295.1,356.4 1294.9,354.5 1294.8,352.5 1294.6,350.5 1294.5,348.5 1294.3,346.5 1294.2,344.5 1294.1,342.5 1294.0,340.5 1293.9,338.5 1293.7,336.5 1293.6,334.5 1293.5,332.5 1293.4,330.5 1293.4,328.5 1293.3,326.5 1293.2,324.5 1293.1,322.5 1293.0,320.5 1292.9,318.5 1292.9,316.5 1292.8,314.5 1292.7,312.5 1292.7,310.5 1292.6,308.5 1292.6,306.5 1292.5,304.5 1292.5,302.5 1292.4,300.5 1292.4,298.5 1292.3,296.5 1292.3,294.5 1292.3,292.5 1292.2,290.5 1292.2,288.5 1292.2,286.5 1292.1,284.5 1292.1,282.5 1292.1,280.5 1292.1,278.5 1292.1,276.5 1292.1,274.5 1292.1,272.5 1292.0,270.5 1292.0,268.5 1292.0,266.5 1292.0,264.5 1292.0,262.5 1292.0,260.5 1292.0,258.5 1292.0,256.5" fill="#E8E800" stroke="#CDCD00" stroke-width="1" stroke-linejoin="round"/>
<polygon points="1318.8,212.5 1318.8,214.5 1318.8,216.5 1318.8,218.5 1318.8,220.5 1318.8,222.5 1318.8,224.5 1318.7,226.5 1318.7,228.5 1318.7,230.5 1318.7,232.4 1318.7,234.4 1318.7,236.4 1318.6,238.4 1318.6,240.4 1318.6,242.4 1318.5,244.4 1318.5,246.4 1318.4,248.4 1318.4,250.4 1318.3,252.4 1318.3,254.4 1318.2,256.4 1318.1,258.4 1318.0,260.4 1317.9,262.4 1317.8,264.4 1317.7,266.4 1317.6,268.4 1317.5,270.4 1317.3,272.4 1317.2,274.4 1317.1,276.4 1316.9,278.4 1316.8,280.4 1316.6,282.4 1316.5,284.4 1316.4,286.4 1316.2,288.4 1316.1,290.4 1315.9,292.4 1315.8,294.4 1315.7,296.4 1315.6,298.4 1315.5,300.4 1315.4,302.4 1315.3,304.3 1315.2,306.3 1315.1,308.3 1315.1,310.3 1315.0,312.3 1315.0,314.3 1315.0,316.3 1315.0,318.3 1315.0,320.3 1315.0,322.3 1315.0,324.3 1315.0,326.3 1315.0,328.3 1315.0,330.3 1315.0,332.3 1315.0,334.3 1315.0,336.3 1315.0,338.3 1315.0,340.3 1314.9,342.3 1314.9,344.3 1314.8,346.3 1314.8,348.3 1314.7,350.3 1314.6,352.3 1314.5,354.3 1314.4,356.3 1314.3,358.3 1314.2,360.3 1314.1,362.3 1314.0,364.3 1313.9,366.3 1313.8,368.3 1313.7,370.3 1313.6,372.3 1313.6,374.3 1313.5,376.3 1313.4,378.2 1313.4,380.2 1313.3,382.2 1313.3,384.2 1313.3,386.2 1313.3,388.2 1313.4,390.2 1313.4,392.2 1313.4,394.2 1313.5,396.2 1313.5,398.2 1313.6,400.2 1313.7,402.2 1313.7,404.2 1313.8,406.2 1313.8,408.2 1313.9,410.2 1313.9,412.2 1313.9,414.2 1313.9,416.2 1313.9,418.2 1313.9,420.2 1313.9,422.2 1313.8,424.2 1313.8,426.2 1313.7,428.2 1313.6,430.2 1313.5,432.2 1313.4,434.2 1313.3,436.2 1313.2,438.2 1313.1,440.2 1313.0,442.2 1312.8,444.2 1312.7,446.2 1312.6,448.2 1312.6,450.2 1312.5,452.1 1312.4,454.1 1312.4,456.1 1312.4,458.1 1312.4,460.1 1312.4,462.1 1312.4,464.1 1312.5,466.1 1312.6,468.1 1312.7,470.1 1312.8,472.1 1312.9,474.1 1313.1,476.1 1313.2,478.1 1313.4,480.1 1313.6,482.1 1313.8,484.1 1313.9,486.1 1314.2,488.1 1314.4,490.1 1314.6,492.1 1314.8,494.1 1315.0,496.1 1315.2,498.1 1315.4,500.1 1315.6,502.1 1315.8,504.1 1316.0,506.1 1316.2,508.1 1316.4,510.1 1316.5,512.1 1316.7,514.1 1316.9,516.1 1317.0,518.1 1317.2,520.1 1317.3,522.1 1317.4,524.1 1317.6,526.0 1317.7,528.0 1317.8,530.0 1317.9,532.0 1318.0,534.0 1318.1,536.0 1318.1,538.0 1318.2,540.0 1318.3,542.0 1318.3,544.0 1318.4,546.0 1318.4,548.0 1318.5,550.0 1318.5,552.0 1318.6,554.0 1318.6,556.0 1318.6,558.0 1318.7,560.0 1318.7,562.0 1318.7,564.0 1318.7,566.0 1318.7,568.0 1318.7,570.0 1318.8,572.0 1318.8,574.0 1318.8,576.0 1318.8,578.0 1318.8,580.0 1318.8,582.0 1318.8,584.0 1318.8,586.0 1318.8,586.0 1318.8,584.0 1318.8,582.0 1318.8,580.0 1318.8,578.0 1318.8,576.0 1318.8,574.0 1318.8,572.0 1318.9,570.0 1318.9,568.0 1318.9,566.0 1318.9,564.0 1318.9,562.0 1318.9,560.0 1319.0,558.0 1319.0,556.0 1319.0,554.0 1319.1,552.0 1319.1,550.0 1319.2,548.0 1319.2,546.0 1319.3,544.0 1319.3,542.0 1319.4,540.0 1319.5,538.0 1319.5,536.0 1319.6,534.0 1319.7,532.0 1319.8,530.0 1319.9,528.0 1320.0,526.0 1320.2,524.1 1320.3,522.1 1320.4,520.1 1320.6,518.1 1320.7,516.1 1320.9,514.1 1321.1,512.1 1321.2,510.1 1321.4,508.1 1321.6,506.1 1321.8,504.1 1322.0,502.1 1322.2,500.1 1322.4,498.1 1322.6,496.1 1322.8,494.1 1323.0,492.1 1323.2,490.1 1323.4,488.1 1323.7,486.1 1323.8,484.1 1324.0,482.1 1324.2,480.1 1324.4,478.1 1324.5,476.1 1324.7,474.1 1324.8,472.1 1324.9,470.1 1325.0,468.1 1325.1,466.1 1325.2,464.1 1325.2,462.1 1325.2,460.1 1325.2,458.1 1325.2,456.1 1325.2,454.1 1325.1,452.1 1325.0,450.2 1325.0,448.2 1324.9,446.2 1324.8,444.2 1324.6,442.2 1324.5,440.2 1324.4,438.2 1324.3,436.2 1324.2,434.2 1324.1,432.2 1324.0,430.2 1323.9,428.2 1323.8,426.2 1323.8,424.2 1323.7,422.2 1323.7,420.2 1323.7,418.2 1323.7,416.2 1323.7,414.2 1323.7,412.2 1323.7,410.2 1323.8,408.2 1323.8,406.2 1323.9,404.2 1323.9,402.2 1324.0,400.2 1324.1,398.2 1324.1,396.2 1324.2,394.2 1324.2,392.2 1324.2,390.2 1324.3,388.2 1324.3,386.2 1324.3,384.2 1324.3,382.2 1324.2,380.2 1324.2,378.2 1324.1,376.3 1324.0,374.3 1324.0,372.3 1323.9,370.3 1323.8,368.3 1323.7,366.3 1323.6,364.3 1323.5,362.3 1323.4,360.3 1323.3,358.3 1323.2,356.3 1323.1,354.3 1323.0,352.3 1322.9,350.3 1322.8,348.3 1322.8,346.3 1322.7,344.3 1322.7,342.3 1322.6,340.3 1322.6,338.3 1322.6,336.3 1322.6,334.3 1322.6,332.3 1322.6,330.3 1322.6,328.3 1322.6,326.3 1322.6,324.3 1322.6,322.3 1322.6,320.3 1322.6,318.3 1322.6,316.3 1322.6,314.3 1322.6,312.3 1322.5,310.3 1322.5,308.3 1322.4,306.3 1322.3,304.3 1322.2,302.4 1322.1,300.4 1322.0,298.4 1321.9,296.4 1321.8,294.4 1321.7,292.4 1321.5,290.4 1321.4,288.4 1321.2,286.4 1321.1,284.4 1321.0,282.4 1320.8,280.4 1320.7,278.4 1320.5,276.4 1320.4,274.4 1320.3,272.4 1320.1,270.4 1320.0,268.4 1319.9,266.4 1319.8,264.4 1319.7,262.4 1319.6,260.4 1319.5,258.4 1319.4,256.4 1319.3,254.4 1319.3,252.4 1319.2,250.4 1319.2,248.4 1319.1,246.4 1319.1,244.4 1319.0,242.4 1319.0,240.4 1319.0,238.4 1318.9,236.4 1318.9,234.4 1318.9,232.4 1318.9,230.5 1318.9,228.5 1318.9,226.5 1318.8,224.5 1318.8,222.5 1318.8,220.5 1318.8,218.5 1318.8,216.5 1318.8,214.5 1318.8,212.5" fill="#E8E800" stroke="#CDCD00" stroke-width="1" stroke-linejoin="round"/>
<polygon points="1362.3,312.9 1362.3,314.9 1362.3,316.9 1362.3,318.8 1362.3,320.8 1362.3,322.8 1362.2,324.8 1362.2,326.8 1362.2,328.8 1362.2,330.8 1362.2,332.8 1362.1,334.8 1362.1,336.8 1362.1,338.8 1362.0,340.8 1362.0,342.8 1361.9,344.8 1361.9,346.8 1361.8,348.8 1361.7,350.7 1361.6,352.7 1361.6,354.7 1361.5,356.7 1361.3,358.7 1361.2,360.7 1361.1,362.7 1360.9,364.7 1360.8,366.7 1360.6,368.7 1360.4,370.7 1360.3,372.7 1360.1,374.7 1359.9,376.7 1359.6,378.7 1359.4,380.7 1359.2,382.7 1359.0,384.6 1358.7,386.6 1358.5,388.6 1358.3,390.6 1358.0,392.6 1357.8,394.6 1357.5,396.6 1357.3,398.6 1357.1,400.6 1356.9,402.6 1356.7,404.6 1356.5,406.6 1356.3,408.6 1356.1,410.6 1356.0,412.6 1355.8,414.6 1355.7,416.5 1355.6,418.5 1355.5,420.5 1355.4,422.5 1355.3,424.5 1355.3,426.5 1355.2,428.5 1355.2,430.5 1355.2,432.5 1355.2,434.5 1355.2,436.5 1355.2,438.5 1355.2,440.5 1355.2,442.5 1355.2,444.5 1355.2,446.5 1355.2,448.4 1355.3,450.4 1355.2,452.4 1355.2,454.4 1355.2,456.4 1355.2,458.4 1355.1,460.4 1355.1,462.4 1355.0,464.4 1354.9,466.4 1354.8,468.4 1354.7,470.4 1354.6,472.4 1354.5,474.4 1354.4,476.4 1354.2,478.4 1354.1,480.3 1354.0,482.3 1353.9,484.3 1353.8,486.3 1353.8,488.3 1353.7,490.3 1353.7,492.3 1353.7,494.3 1353.7,496.3 1353.7,498.3 1353.8,500.3 1353.9,502.3 1354.1,504.3 1354.2,506.3 1354.4,508.3 1354.6,510.3 1354.9,512.2 1355.1,514.2 1355.4,516.2 1355.7,518.2 1356.0,520.2 1356.4,522.2 1356.7,524.2 1357.0,526.2 1357.4,528.2 1357.7,530.2 1358.0,532.2 1358.4,534.2 1358.7,536.2 1359.0,538.2 1359.3,540.2 1359.6,542.2 1359.9,544.2 1360.1,546.1 1360.3,548.1 1360.6,550.1 1360.8,552.1 1361.0,554.1 1361.1,556.1 1361.3,558.1 1361.4,560.1 1361.5,562.1 1361.6,564.1 1361.7,566.1 1361.8,568.1 1361.9,570.1 1362.0,572.1 1362.0,574.1 1362.1,576.1 1362.1,578.0 1362.1,580.0 1362.2,582.0 1362.2,584.0 1362.2,586.0 1362.2,588.0 1362.2,590.0 1362.3,592.0 1362.3,594.0 1362.3,596.0 1362.3,598.0 1362.3,598.0 1362.3,596.0 1362.3,594.0 1362.3,592.0 1362.4,590.0 1362.4,588.0 1362.4,586.0 1362.4,584.0 1362.4,582.0 1362.5,580.0 1362.5,578.0 1362.5,576.1 1362.6,574.1 1362.6,572.1 1362.7,570.1 1362.8,568.1 1362.9,566.1 1363.0,564.1 1363.1,562.1 1363.2,560.1 1363.3,558.1 1363.5,556.1 1363.6,554.1 1363.8,552.1 1364.0,550.1 1364.3,548.1 1364.5,546.1 1364.7,544.2 1365.0,542.2 1365.3,540.2 1365.6,538.2 1365.9,536.2 1366.2,534.2 1366.6,532.2 1366.9,530.2 1367.2,528.2 1367.6,526.2 1367.9,524.2 1368.2,522.2 1368.6,520.2 1368.9,518.2 1369.2,516.2 1369.5,514.2 1369.7,512.2 1370.0,510.3 1370.2,508.3 1370.4,506.3 1370.5,504.3 1370.7,502.3 1370.8,500.3 1370.9,498.3 1370.9,496.3 1370.9,494.3 1370.9,492.3 1370.9,490.3 1370.8,488.3 1370.8,486.3 1370.7,484.3 1370.6,482.3 1370.5,480.3 1370.4,478.4 1370.2,476.4 1370.1,474.4 1370.0,472.4 1369.9,470.4 1369.8,468.4 1369.7,466.4 1369.6,464.4 1369.5,462.4 1369.5,460.4 1369.4,458.4 1369.4,456.4 1369.4,454.4 1369.4,452.4 1369.3,450.4 1369.4,448.4 1369.4,446.5 1369.4,444.5 1369.4,442.5 1369.4,440.5 1369.4,438.5 1369.4,436.5 1369.4,434.5 1369.4,432.5 1369.4,430.5 1369.4,428.5 1369.3,426.5 1369.3,424.5 1369.2,422.5 1369.1,420.5 1369.0,418.5 1368.9,416.5 1368.8,414.6 1368.6,412.6 1368.5,410.6 1368.3,408.6 1368.1,406.6 1367.9,404.6 1367.7,402.6 1367.5,400.6 1367.3,398.6 1367.1,396.6 1366.8,394.6 1366.6,392.6 1366.3,390.6 1366.1,388.6 1365.9,386.6 1365.6,384.6 1365.4,382.7 1365.2,380.7 1365.0,378.7 1364.7,376.7 1364.5,374.7 1364.3,372.7 1364.2,370.7 1364.0,368.7 1363.8,366.7 1363.7,364.7 1363.5,362.7 1363.4,360.7 1363.3,358.7 1363.1,356.7 1363.0,354.7 1363.0,352.7 1362.9,350.7 1362.8,348.8 1362.7,346.8 1362.7,344.8 1362.6,342.8 1362.6,340.8 1362.5,338.8 1362.5,336.8 1362.5,334.8 1362.4,332.8 1362.4,330.8 1362.4,328.8 1362.4,326.8 1362.4,324.8 1362.3,322.8 1362.3,320.8 1362.3,318.8 1362.3,316.9 1362.3,314.9 1362.3,312.9" fill="#CFCF00" stroke="#BDBD08" stroke-width="1" stroke-linejoin="round"/>
<polygon points="1389.1,210.6 1389.1,212.6 1389.1,214.6 1389.1,216.6 1389.1,218.6 1389.1,220.6 1389.1,222.6 1389.1,224.6 1389.0,226.6 1389.0,228.6 1389.0,230.6 1389.0,232.6 1389.0,234.6 1389.0,236.6 1389.0,238.6 1388.9,240.6 1388.9,242.6 1388.9,244.6 1388.8,246.6 1388.8,248.6 1388.8,250.5 1388.7,252.5 1388.7,254.5 1388.7,256.5 1388.6,258.5 1388.6,260.5 1388.5,262.5 1388.4,264.5 1388.4,266.5 1388.3,268.5 1388.3,270.5 1388.2,272.5 1388.2,274.5 1388.1,276.5 1388.0,278.5 1388.0,280.5 1387.9,282.5 1387.9,284.5 1387.8,286.5 1387.8,288.5 1387.7,290.5 1387.7,292.5 1387.7,294.5 1387.6,296.5 1387.6,298.5 1387.6,300.4 1387.5,302.4 1387.5,304.4 1387.5,306.4 1387.5,308.4 1387.5,310.4 1387.5,312.4 1387.5,314.4 1387.5,316.4 1387.5,318.4 1387.5,320.4 1387.5,322.4 1387.5,324.4 1387.5,326.4 1387.5,328.4 1387.5,330.4 1387.5,332.4 1387.5,334.4 1387.5,336.4 1387.5,338.4 1387.5,340.4 1387.5,342.4 1387.5,344.4 1387.5,346.4 1387.5,348.4 1387.4,350.3 1387.4,352.3 1387.4,354.3 1387.3,356.3 1387.3,358.3 1387.2,360.3 1387.1,362.3 1387.1,364.3 1387.0,366.3 1386.9,368.3 1386.9,370.3 1386.8,372.3 1386.7,374.3 1386.6,376.3 1386.5,378.3 1386.5,380.3 1386.4,382.3 1386.3,384.3 1386.2,386.3 1386.0,388.3 1385.9,390.3 1385.8,392.3 1385.7,394.3 1385.5,396.3 1385.4,398.3 1385.2,400.2 1385.0,402.2 1384.8,404.2 1384.6,406.2 1384.4,408.2 1384.2,410.2 1384.0,412.2 1383.7,414.2 1383.5,416.2 1383.2,418.2 1382.9,420.2 1382.7,422.2 1382.4,424.2 1382.1,426.2 1381.8,428.2 1381.5,430.2 1381.2,432.2 1381.0,434.2 1380.7,436.2 1380.5,438.2 1380.3,440.2 1380.0,442.2 1379.9,444.2 1379.7,446.2 1379.6,448.2 1379.4,450.2 1379.4,452.1 1379.3,454.1 1379.3,456.1 1379.3,458.1 1379.3,460.1 1379.4,462.1 1379.5,464.1 1379.6,466.1 1379.7,468.1 1379.9,470.1 1380.1,472.1 1380.3,474.1 1380.6,476.1 1380.8,478.1 1381.1,480.1 1381.4,482.1 1381.7,484.1 1381.9,486.1 1382.2,488.1 1382.6,490.1 1382.9,492.1 1383.2,494.1 1383.5,496.1 1383.7,498.1 1384.0,500.1 1384.3,502.0 1384.6,504.0 1384.8,506.0 1385.1,508.0 1385.3,510.0 1385.6,512.0 1385.8,514.0 1386.0,516.0 1386.2,518.0 1386.4,520.0 1386.6,522.0 1386.7,524.0 1386.9,526.0 1387.0,528.0 1387.2,530.0 1387.3,532.0 1387.5,534.0 1387.6,536.0 1387.7,538.0 1387.8,540.0 1387.9,542.0 1388.0,544.0 1388.1,546.0 1388.2,548.0 1388.3,550.0 1388.3,551.9 1388.4,553.9 1388.5,555.9 1388.5,557.9 1388.6,559.9 1388.7,561.9 1388.7,563.9 1388.8,565.9 1388.8,567.9 1388.8,569.9 1388.9,571.9 1388.9,573.9 1388.9,575.9 1388.9,577.9 1389.0,579.9 1389.0,581.9 1389.0,583.9 1389.0,585.9 1389.0,587.9 1389.0,589.9 1389.1,591.9 1389.1,593.9 1389.1,595.9 1389.1,597.9 1389.1,599.9 1389.1,601.8 1389.1,603.8 1389.1,605.8 1389.1,605.8 1389.1,603.8 1389.1,601.8 1389.1,599.9 1389.1,597.9 1389.1,595.9 1389.1,593.9 1389.1,591.9 1389.2,589.9 1389.2,587.9 1389.2,585.9 1389.2,583.9 1389.2,581.9 1389.2,579.9 1389.3,577.9 1389.3,575.9 1389.3,573.9 1389.3,571.9 1389.4,569.9 1389.4,567.9 1389.4,565.9 1389.5,563.9 1389.5,561.9 1389.6,559.9 1389.7,557.9 1389.7,555.9 1389.8,553.9 1389.9,551.9 1389.9,550.0 1390.0,548.0 1390.1,546.0 1390.2,544.0 1390.3,542.0 1390.4,540.0 1390.5,538.0 1390.6,536.0 1390.7,534.0 1390.9,532.0 1391.0,530.0 1391.2,528.0 1391.3,526.0 1391.5,524.0 1391.6,522.0 1391.8,520.0 1392.0,518.0 1392.2,516.0 1392.4,514.0 1392.6,512.0 1392.9,510.0 1393.1,508.0 1393.4,506.0 1393.6,504.0 1393.9,502.0 1394.2,500.1 1394.5,498.1 1394.7,496.1 1395.0,494.1 1395.3,492.1 1395.6,490.1 1396.0,488.1 1396.3,486.1 1396.5,484.1 1396.8,482.1 1397.1,480.1 1397.4,478.1 1397.6,476.1 1397.9,474.1 1398.1,472.1 1398.3,470.1 1398.5,468.1 1398.6,466.1 1398.7,464.1 1398.8,462.1 1398.9,460.1 1398.9,458.1 1398.9,456.1 1398.9,454.1 1398.8,452.1 1398.8,450.2 1398.6,448.2 1398.5,446.2 1398.3,444.2 1398.2,442.2 1397.9,440.2 1397.7,438.2 1397.5,436.2 1397.2,434.2 1397.0,432.2 1396.7,430.2 1396.4,428.2 1396.1,426.2 1395.8,424.2 1395.5,422.2 1395.3,420.2 1395.0,418.2 1394.7,416.2 1394.5,414.2 1394.2,412.2 1394.0,410.2 1393.8,408.2 1393.6,406.2 1393.4,404.2 1393.2,402.2 1393.0,400.2 1392.8,398.3 1392.7,396.3 1392.5,394.3 1392.4,392.3 1392.3,390.3 1392.2,388.3 1392.0,386.3 1391.9,384.3 1391.8,382.3 1391.7,380.3 1391.7,378.3 1391.6,376.3 1391.5,374.3 1391.4,372.3 1391.3,370.3 1391.3,368.3 1391.2,366.3 1391.1,364.3 1391.1,362.3 1391.0,360.3 1390.9,358.3 1390.9,356.3 1390.8,354.3 1390.8,352.3 1390.8,350.3 1390.7,348.4 1390.7,346.4 1390.7,344.4 1390.7,342.4 1390.7,340.4 1390.7,338.4 1390.7,336.4 1390.7,334.4 1390.7,332.4 1390.7,330.4 1390.7,328.4 1390.7,326.4 1390.7,324.4 1390.7,322.4 1390.7,320.4 1390.7,318.4 1390.7,316.4 1390.7,314.4 1390.7,312.4 1390.7,310.4 1390.7,308.4 1390.7,306.4 1390.7,304.4 1390.7,302.4 1390.6,300.4 1390.6,298.5 1390.6,296.5 1390.5,294.5 1390.5,292.5 1390.5,290.5 1390.4,288.5 1390.4,286.5 1390.3,284.5 1390.3,282.5 1390.2,280.5 1390.2,278.5 1390.1,276.5 1390.0,274.5 1390.0,272.5 1389.9,270.5 1389.9,268.5 1389.8,266.5 1389.8,264.5 1389.7,262.5 1389.6,260.5 1389.6,258.5 1389.5,256.5 1389.5,254.5 1389.5,252.5 1389.4,250.5 1389.4,248.6 1389.4,246.6 1389.3,244.6 1389.3,242.6 1389.3,240.6 1389.2,238.6 1389.2,236.6 1389.2,234.6 1389.2,232.6 1389.2,230.6 1389.2,228.6 1389.2,226.6 1389.1,224.6 1389.1,222.6 1389.1,220.6 1389.1,218.6 1389.1,216.6 1389.1,214.6 1389.1,212.6 1389.1,210.6" fill="#CFCF00" stroke="#BDBD08" stroke-width="1" stroke-linejoin="round"/>
<polygon points="1415.6,209.9 1415.6,211.9 1415.6,213.9 1415.6,215.9 1415.6,217.9 1415.6,219.9 1415.6,221.9 1415.5,223.9 1415.5,225.9 1415.5,227.9 1415.5,229.9 1415.5,231.9 1415.5,233.9 1415.4,235.9 1415.4,237.9 1415.4,239.9 1415.3,241.9 1415.3,243.9 1415.3,245.9 1415.2,247.9 1415.2,249.9 1415.1,251.9 1415.0,253.9 1415.0,255.9 1414.9,257.9 1414.8,259.9 1414.7,261.9 1414.6,263.9 1414.6,265.9 1414.5,267.9 1414.4,269.9 1414.3,271.9 1414.2,273.9 1414.0,275.9 1413.9,277.9 1413.8,279.9 1413.7,281.9 1413.6,283.9 1413.5,285.9 1413.4,287.9 1413.2,289.9 1413.1,291.9 1413.0,293.9 1412.9,295.9 1412.8,297.9 1412.7,299.9 1412.6,301.9 1412.4,303.9 1412.3,305.9 1412.2,307.9 1412.1,309.9 1412.0,311.9 1411.9,313.9 1411.8,315.9 1411.7,317.9 1411.6,319.9 1411.5,321.9 1411.4,323.9 1411.2,325.9 1411.1,327.9 1411.0,329.9 1410.9,331.9 1410.8,333.9 1410.7,335.9 1410.7,337.9 1410.6,339.9 1410.5,341.9 1410.4,343.9 1410.3,345.9 1410.2,347.9 1410.1,349.9 1410.1,351.9 1410.0,353.9 1409.9,355.9 1409.8,357.9 1409.8,359.8 1409.7,361.8 1409.6,363.8 1409.6,365.8 1409.5,367.8 1409.4,369.8 1409.4,371.8 1409.3,373.8 1409.2,375.8 1409.2,377.8 1409.1,379.8 1409.1,381.8 1409.0,383.8 1409.0,385.8 1408.9,387.8 1408.9,389.8 1408.8,391.8 1408.8,393.8 1408.8,395.8 1408.8,397.8 1408.7,399.8 1408.7,401.8 1408.7,403.8 1408.7,405.8 1408.7,407.8 1408.7,409.8 1408.8,411.8 1408.8,413.8 1408.8,415.8 1408.9,417.8 1408.9,419.8 1409.0,421.8 1409.1,423.8 1409.1,425.8 1409.2,427.8 1409.3,429.8 1409.4,431.8 1409.5,433.8 1409.6,435.8 1409.8,437.8 1409.9,439.8 1410.0,441.8 1410.1,443.8 1410.3,445.8 1410.4,447.8 1410.5,449.8 1410.7,451.8 1410.8,453.8 1410.9,455.8 1411.1,457.8 1411.2,459.8 1411.3,461.8 1411.5,463.8 1411.6,465.8 1411.7,467.8 1411.8,469.8 1412.0,471.8 1412.1,473.8 1412.2,475.8 1412.3,477.8 1412.4,479.8 1412.6,481.8 1412.7,483.8 1412.8,485.8 1412.9,487.8 1413.0,489.8 1413.1,491.8 1413.2,493.8 1413.3,495.8 1413.5,497.8 1413.6,499.8 1413.7,501.8 1413.8,503.8 1413.9,505.8 1414.0,507.8 1414.1,509.8 1414.2,511.8 1414.3,513.8 1414.4,515.8 1414.5,517.8 1414.6,519.8 1414.7,521.8 1414.7,523.8 1414.8,525.8 1414.9,527.8 1415.0,529.8 1415.0,531.8 1415.1,533.8 1415.1,535.8 1415.2,537.7 1415.2,539.7 1415.3,541.7 1415.3,543.7 1415.4,545.7 1415.4,547.7 1415.4,549.7 1415.4,551.7 1415.5,553.7 1415.5,555.7 1415.5,557.7 1415.5,559.7 1415.5,561.7 1415.5,563.7 1415.6,565.7 1415.6,567.7 1415.6,569.7 1415.6,571.7 1415.6,573.7 1415.6,575.7 1415.6,577.7 1415.6,579.7 1415.6,579.7 1415.6,577.7 1415.6,575.7 1415.6,573.7 1415.6,571.7 1415.6,569.7 1415.6,567.7 1415.6,565.7 1415.7,563.7 1415.7,561.7 1415.7,559.7 1415.7,557.7 1415.7,555.7 1415.7,553.7 1415.8,551.7 1415.8,549.7 1415.8,547.7 1415.8,545.7 1415.9,543.7 1415.9,541.7 1416.0,539.7 1416.0,537.7 1416.1,535.8 1416.1,533.8 1416.2,531.8 1416.2,529.8 1416.3,527.8 1416.4,525.8 1416.5,523.8 1416.5,521.8 1416.6,519.8 1416.7,517.8 1416.8,515.8 1416.9,513.8 1417.0,511.8 1417.1,509.8 1417.2,507.8 1417.3,505.8 1417.4,503.8 1417.5,501.8 1417.6,499.8 1417.7,497.8 1417.9,495.8 1418.0,493.8 1418.1,491.8 1418.2,489.8 1418.3,487.8 1418.4,485.8 1418.5,483.8 1418.6,481.8 1418.8,479.8 1418.9,477.8 1419.0,475.8 1419.1,473.8 1419.2,471.8 1419.4,469.8 1419.5,467.8 1419.6,465.8 1419.7,463.8 1419.9,461.8 1420.0,459.8 1420.1,457.8 1420.3,455.8 1420.4,453.8 1420.5,451.8 1420.7,449.8 1420.8,447.8 1420.9,445.8 1421.1,443.8 1421.2,441.8 1421.3,439.8 1421.4,437.8 1421.6,435.8 1421.7,433.8 1421.8,431.8 1421.9,429.8 1422.0,427.8 1422.1,425.8 1422.1,423.8 1422.2,421.8 1422.3,419.8 1422.3,417.8 1422.4,415.8 1422.4,413.8 1422.4,411.8 1422.5,409.8 1422.5,407.8 1422.5,405.8 1422.5,403.8 1422.5,401.8 1422.5,399.8 1422.4,397.8 1422.4,395.8 1422.4,393.8 1422.4,391.8 1422.3,389.8 1422.3,387.8 1422.2,385.8 1422.2,383.8 1422.1,381.8 1422.1,379.8 1422.0,377.8 1422.0,375.8 1421.9,373.8 1421.8,371.8 1421.8,369.8 1421.7,367.8 1421.6,365.8 1421.6,363.8 1421.5,361.8 1421.4,359.8 1421.4,357.9 1421.3,355.9 1421.2,353.9 1421.1,351.9 1421.1,349.9 1421.0,347.9 1420.9,345.9 1420.8,343.9 1420.7,341.9 1420.6,339.9 1420.5,337.9 1420.5,335.9 1420.4,333.9 1420.3,331.9 1420.2,329.9 1420.1,327.9 1420.0,325.9 1419.8,323.9 1419.7,321.9 1419.6,319.9 1419.5,317.9 1419.4,315.9 1419.3,313.9 1419.2,311.9 1419.1,309.9 1419.0,307.9 1418.9,305.9 1418.8,303.9 1418.6,301.9 1418.5,299.9 1418.4,297.9 1418.3,295.9 1418.2,293.9 1418.1,291.9 1418.0,289.9 1417.8,287.9 1417.7,285.9 1417.6,283.9 1417.5,281.9 1417.4,279.9 1417.3,277.9 1417.2,275.9 1417.0,273.9 1416.9,271.9 1416.8,269.9 1416.7,267.9 1416.6,265.9 1416.6,263.9 1416.5,261.9 1416.4,259.9 1416.3,257.9 1416.2,255.9 1416.2,253.9 1416.1,251.9 1416.0,249.9 1416.0,247.9 1415.9,245.9 1415.9,243.9 1415.9,241.9 1415.8,239.9 1415.8,237.9 1415.8,235.9 1415.7,233.9 1415.7,231.9 1415.7,229.9 1415.7,227.9 1415.7,225.9 1415.7,223.9 1415.6,221.9 1415.6,219.9 1415.6,217.9 1415.6,215.9 1415.6,213.9 1415.6,211.9 1415.6,209.9" fill="#CFCF00" stroke="#BDBD08" stroke-width="1" stroke-linejoin="round"/>
<polygon points="1460.9,308.5 1460.9,310.5 1460.9,312.5 1460.9,314.5 1460.9,316.5 1460.8,318.5 1460.8,320.4 1460.8,322.4 1460.8,324.4 1460.8,326.4 1460.7,328.4 1460.7,330.4 1460.7,332.4 1460.6,334.4 1460.6,336.4 1460.5,338.4 1460.5,340.4 1460.4,342.4 1460.3,344.4 1460.2,346.4 1460.2,348.4 1460.1,350.4 1459.9,352.4 1459.8,354.4 1459.7,356.4 1459.6,358.4 1459.4,360.4 1459.3,362.3 1459.1,364.3 1459.0,366.3 1458.8,368.3 1458.7,370.3 1458.5,372.3 1458.3,374.3 1458.2,376.3 1458.0,378.3 1457.9,380.3 1457.7,382.3 1457.6,384.3 1457.5,386.3 1457.4,388.3 1457.3,390.3 1457.2,392.3 1457.1,394.3 1457.1,396.3 1457.0,398.3 1457.0,400.3 1456.9,402.3 1456.9,404.3 1456.9,406.2 1456.9,408.2 1456.8,410.2 1456.8,412.2 1456.8,414.2 1456.8,416.2 1456.7,418.2 1456.7,420.2 1456.6,422.2 1456.5,424.2 1456.4,426.2 1456.3,428.2 1456.2,430.2 1456.1,432.2 1455.9,434.2 1455.7,436.2 1455.5,438.2 1455.3,440.2 1455.1,442.2 1454.8,444.2 1454.6,446.2 1454.3,448.1 1454.0,450.1 1453.8,452.1 1453.5,454.1 1453.2,456.1 1453.0,458.1 1452.8,460.1 1452.5,462.1 1452.3,464.1 1452.1,466.1 1451.9,468.1 1451.8,470.1 1451.6,472.1 1451.5,474.1 1451.5,476.1 1451.4,478.1 1451.4,480.1 1451.3,482.1 1451.4,484.1 1451.4,486.1 1451.4,488.1 1451.5,490.1 1451.6,492.0 1451.7,494.0 1451.9,496.0 1452.0,498.0 1452.2,500.0 1452.4,502.0 1452.5,504.0 1452.7,506.0 1453.0,508.0 1453.2,510.0 1453.4,512.0 1453.6,514.0 1453.9,516.0 1454.1,518.0 1454.4,520.0 1454.7,522.0 1454.9,524.0 1455.2,526.0 1455.5,528.0 1455.7,530.0 1456.0,532.0 1456.3,533.9 1456.6,535.9 1456.8,537.9 1457.1,539.9 1457.4,541.9 1457.6,543.9 1457.9,545.9 1458.1,547.9 1458.3,549.9 1458.5,551.9 1458.8,553.9 1459.0,555.9 1459.2,557.9 1459.3,559.9 1459.5,561.9 1459.6,563.9 1459.8,565.9 1459.9,567.9 1460.0,569.9 1460.1,571.9 1460.2,573.9 1460.3,575.8 1460.4,577.8 1460.5,579.8 1460.5,581.8 1460.6,583.8 1460.6,585.8 1460.7,587.8 1460.7,589.8 1460.8,591.8 1460.8,593.8 1460.8,595.8 1460.8,597.8 1460.8,599.8 1460.8,601.8 1460.9,603.8 1460.9,605.8 1460.9,607.8 1460.9,609.8 1460.9,609.8 1460.9,607.8 1460.9,605.8 1460.9,603.8 1461.0,601.8 1461.0,599.8 1461.0,597.8 1461.0,595.8 1461.0,593.8 1461.0,591.8 1461.1,589.8 1461.1,587.8 1461.2,585.8 1461.2,583.8 1461.3,581.8 1461.3,579.8 1461.4,577.8 1461.5,575.8 1461.6,573.9 1461.7,571.9 1461.8,569.9 1461.9,567.9 1462.0,565.9 1462.2,563.9 1462.3,561.9 1462.5,559.9 1462.6,557.9 1462.8,555.9 1463.0,553.9 1463.3,551.9 1463.5,549.9 1463.7,547.9 1463.9,545.9 1464.2,543.9 1464.4,541.9 1464.7,539.9 1465.0,537.9 1465.2,535.9 1465.5,533.9 1465.8,532.0 1466.1,530.0 1466.3,528.0 1466.6,526.0 1466.9,524.0 1467.1,522.0 1467.4,520.0 1467.7,518.0 1467.9,516.0 1468.2,514.0 1468.4,512.0 1468.6,510.0 1468.8,508.0 1469.1,506.0 1469.3,504.0 1469.4,502.0 1469.6,500.0 1469.8,498.0 1469.9,496.0 1470.1,494.0 1470.2,492.0 1470.3,490.1 1470.4,488.1 1470.4,486.1 1470.4,484.1 1470.5,482.1 1470.4,480.1 1470.4,478.1 1470.3,476.1 1470.3,474.1 1470.2,472.1 1470.0,470.1 1469.9,468.1 1469.7,466.1 1469.5,464.1 1469.3,462.1 1469.0,460.1 1468.8,458.1 1468.6,456.1 1468.3,454.1 1468.0,452.1 1467.8,450.1 1467.5,448.1 1467.2,446.2 1467.0,444.2 1466.7,442.2 1466.5,440.2 1466.3,438.2 1466.1,436.2 1465.9,434.2 1465.7,432.2 1465.6,430.2 1465.5,428.2 1465.4,426.2 1465.3,424.2 1465.2,422.2 1465.1,420.2 1465.1,418.2 1465.0,416.2 1465.0,414.2 1465.0,412.2 1465.0,410.2 1464.9,408.2 1464.9,406.2 1464.9,404.3 1464.9,402.3 1464.8,400.3 1464.8,398.3 1464.7,396.3 1464.7,394.3 1464.6,392.3 1464.5,390.3 1464.4,388.3 1464.3,386.3 1464.2,384.3 1464.1,382.3 1463.9,380.3 1463.8,378.3 1463.6,376.3 1463.5,374.3 1463.3,372.3 1463.1,370.3 1463.0,368.3 1462.8,366.3 1462.7,364.3 1462.5,362.3 1462.4,360.4 1462.2,358.4 1462.1,356.4 1462.0,354.4 1461.9,352.4 1461.7,350.4 1461.6,348.4 1461.6,346.4 1461.5,344.4 1461.4,342.4 1461.3,340.4 1461.3,338.4 1461.2,336.4 1461.2,334.4 1461.1,332.4 1461.1,330.4 1461.1,328.4 1461.0,326.4 1461.0,324.4 1461.0,322.4 1461.0,320.4 1461.0,318.5 1460.9,316.5 1460.9,314.5 1460.9,312.5 1460.9,310.5 1460.9,308.5" fill="#B5B500" stroke="#B9B92E" stroke-width="1" stroke-linejoin="round"/>
<polygon points="1487.7,276.1 1487.7,278.1 1487.7,280.1 1487.7,282.1 1487.7,284.1 1487.7,286.1 1487.7,288.1 1487.7,290.1 1487.6,292.1 1487.6,294.1 1487.6,296.1 1487.6,298.1 1487.6,300.1 1487.6,302.1 1487.6,304.1 1487.5,306.1 1487.5,308.1 1487.5,310.1 1487.4,312.1 1487.4,314.1 1487.4,316.0 1487.3,318.0 1487.3,320.0 1487.2,322.0 1487.2,324.0 1487.1,326.0 1487.0,328.0 1487.0,330.0 1486.9,332.0 1486.8,334.0 1486.7,336.0 1486.6,338.0 1486.6,340.0 1486.5,342.0 1486.4,344.0 1486.3,346.0 1486.2,348.0 1486.1,350.0 1486.0,352.0 1485.8,354.0 1485.7,356.0 1485.6,358.0 1485.5,360.0 1485.4,362.0 1485.2,364.0 1485.1,366.0 1485.0,367.9 1484.8,369.9 1484.7,371.9 1484.6,373.9 1484.4,375.9 1484.3,377.9 1484.1,379.9 1484.0,381.9 1483.8,383.9 1483.7,385.9 1483.5,387.9 1483.4,389.9 1483.2,391.9 1483.1,393.9 1482.9,395.9 1482.7,397.9 1482.6,399.9 1482.4,401.9 1482.3,403.9 1482.1,405.9 1482.0,407.9 1481.8,409.9 1481.6,411.9 1481.5,413.9 1481.3,415.9 1481.1,417.9 1481.0,419.9 1480.8,421.8 1480.6,423.8 1480.5,425.8 1480.3,427.8 1480.1,429.8 1480.0,431.8 1479.8,433.8 1479.7,435.8 1479.5,437.8 1479.4,439.8 1479.2,441.8 1479.1,443.8 1478.9,445.8 1478.8,447.8 1478.7,449.8 1478.6,451.8 1478.6,453.8 1478.5,455.8 1478.4,457.8 1478.4,459.8 1478.4,461.8 1478.4,463.8 1478.4,465.8 1478.5,467.8 1478.6,469.8 1478.7,471.8 1478.8,473.8 1478.9,475.7 1479.0,477.7 1479.2,479.7 1479.4,481.7 1479.6,483.7 1479.8,485.7 1480.0,487.7 1480.3,489.7 1480.5,491.7 1480.8,493.7 1481.0,495.7 1481.3,497.7 1481.5,499.7 1481.8,501.7 1482.1,503.7 1482.3,505.7 1482.6,507.7 1482.9,509.7 1483.1,511.7 1483.4,513.7 1483.6,515.7 1483.9,517.7 1484.1,519.7 1484.3,521.7 1484.6,523.7 1484.8,525.7 1485.0,527.7 1485.2,529.6 1485.4,531.6 1485.6,533.6 1485.7,535.6 1485.9,537.6 1486.1,539.6 1486.2,541.6 1486.3,543.6 1486.5,545.6 1486.6,547.6 1486.7,549.6 1486.8,551.6 1486.9,553.6 1487.0,555.6 1487.1,557.6 1487.2,559.6 1487.2,561.6 1487.3,563.6 1487.4,565.6 1487.4,567.6 1487.4,569.6 1487.5,571.6 1487.5,573.6 1487.5,575.6 1487.6,577.6 1487.6,579.6 1487.6,581.6 1487.6,583.5 1487.6,585.5 1487.6,587.5 1487.7,589.5 1487.7,591.5 1487.7,593.5 1487.7,595.5 1487.7,597.5 1487.7,597.5 1487.7,595.5 1487.7,593.5 1487.7,591.5 1487.7,589.5 1487.8,587.5 1487.8,585.5 1487.8,583.5 1487.8,581.6 1487.8,579.6 1487.8,577.6 1487.9,575.6 1487.9,573.6 1487.9,571.6 1488.0,569.6 1488.0,567.6 1488.0,565.6 1488.1,563.6 1488.2,561.6 1488.2,559.6 1488.3,557.6 1488.4,555.6 1488.5,553.6 1488.6,551.6 1488.7,549.6 1488.8,547.6 1488.9,545.6 1489.1,543.6 1489.2,541.6 1489.3,539.6 1489.5,537.6 1489.7,535.6 1489.8,533.6 1490.0,531.6 1490.2,529.6 1490.4,527.7 1490.6,525.7 1490.8,523.7 1491.1,521.7 1491.3,519.7 1491.5,517.7 1491.8,515.7 1492.0,513.7 1492.3,511.7 1492.5,509.7 1492.8,507.7 1493.1,505.7 1493.3,503.7 1493.6,501.7 1493.9,499.7 1494.1,497.7 1494.4,495.7 1494.6,493.7 1494.9,491.7 1495.1,489.7 1495.4,487.7 1495.6,485.7 1495.8,483.7 1496.0,481.7 1496.2,479.7 1496.4,477.7 1496.5,475.7 1496.6,473.8 1496.7,471.8 1496.8,469.8 1496.9,467.8 1497.0,465.8 1497.0,463.8 1497.0,461.8 1497.0,459.8 1497.0,457.8 1496.9,455.8 1496.8,453.8 1496.8,451.8 1496.7,449.8 1496.6,447.8 1496.5,445.8 1496.3,443.8 1496.2,441.8 1496.0,439.8 1495.9,437.8 1495.7,435.8 1495.6,433.8 1495.4,431.8 1495.3,429.8 1495.1,427.8 1494.9,425.8 1494.8,423.8 1494.6,421.8 1494.4,419.9 1494.3,417.9 1494.1,415.9 1493.9,413.9 1493.8,411.9 1493.6,409.9 1493.4,407.9 1493.3,405.9 1493.1,403.9 1493.0,401.9 1492.8,399.9 1492.7,397.9 1492.5,395.9 1492.3,393.9 1492.2,391.9 1492.0,389.9 1491.9,387.9 1491.7,385.9 1491.6,383.9 1491.4,381.9 1491.3,379.9 1491.1,377.9 1491.0,375.9 1490.8,373.9 1490.7,371.9 1490.6,369.9 1490.4,367.9 1490.3,366.0 1490.2,364.0 1490.0,362.0 1489.9,360.0 1489.8,358.0 1489.7,356.0 1489.6,354.0 1489.4,352.0 1489.3,350.0 1489.2,348.0 1489.1,346.0 1489.0,344.0 1488.9,342.0 1488.8,340.0 1488.8,338.0 1488.7,336.0 1488.6,334.0 1488.5,332.0 1488.4,330.0 1488.4,328.0 1488.3,326.0 1488.2,324.0 1488.2,322.0 1488.1,320.0 1488.1,318.0 1488.0,316.0 1488.0,314.1 1488.0,312.1 1487.9,310.1 1487.9,308.1 1487.9,306.1 1487.8,304.1 1487.8,302.1 1487.8,300.1 1487.8,298.1 1487.8,296.1 1487.8,294.1 1487.8,292.1 1487.7,290.1 1487.7,288.1 1487.7,286.1 1487.7,284.1 1487.7,282.1 1487.7,280.1 1487.7,278.1 1487.7,276.1" fill="#B5B500" stroke="#B9B92E" stroke-width="1" stroke-linejoin="round"/>
<polygon points="1514.6,284.2 1514.6,286.2 1514.6,288.2 1514.6,290.2 1514.6,292.2 1514.6,294.2 1514.6,296.2 1514.5,298.2 1514.5,300.2 1514.5,302.2 1514.5,304.2 1514.5,306.2 1514.5,308.2 1514.4,310.1 1514.4,312.1 1514.4,314.1 1514.3,316.1 1514.3,318.1 1514.3,320.1 1514.2,322.1 1514.2,324.1 1514.1,326.1 1514.0,328.1 1514.0,330.1 1513.9,332.1 1513.8,334.1 1513.7,336.1 1513.6,338.1 1513.5,340.1 1513.4,342.1 1513.3,344.1 1513.2,346.1 1513.1,348.1 1513.0,350.1 1512.9,352.0 1512.7,354.0 1512.6,356.0 1512.5,358.0 1512.3,360.0 1512.2,362.0 1512.0,364.0 1511.9,366.0 1511.7,368.0 1511.6,370.0 1511.4,372.0 1511.2,374.0 1511.0,376.0 1510.8,378.0 1510.6,380.0 1510.4,382.0 1510.2,384.0 1510.0,386.0 1509.7,388.0 1509.5,390.0 1509.2,392.0 1509.0,394.0 1508.7,395.9 1508.5,397.9 1508.2,399.9 1507.9,401.9 1507.6,403.9 1507.3,405.9 1507.1,407.9 1506.8,409.9 1506.5,411.9 1506.2,413.9 1506.0,415.9 1505.7,417.9 1505.5,419.9 1505.3,421.9 1505.1,423.9 1504.9,425.9 1504.7,427.9 1504.6,429.9 1504.4,431.9 1504.3,433.9 1504.2,435.9 1504.2,437.8 1504.1,439.8 1504.1,441.8 1504.0,443.8 1504.1,445.8 1504.1,447.8 1504.1,449.8 1504.2,451.8 1504.3,453.8 1504.4,455.8 1504.5,457.8 1504.7,459.8 1504.8,461.8 1505.0,463.8 1505.2,465.8 1505.4,467.8 1505.7,469.8 1505.9,471.8 1506.2,473.8 1506.5,475.8 1506.7,477.8 1507.0,479.7 1507.4,481.7 1507.7,483.7 1508.0,485.7 1508.3,487.7 1508.7,489.7 1509.0,491.7 1509.3,493.7 1509.7,495.7 1510.0,497.7 1510.3,499.7 1510.7,501.7 1511.0,503.7 1511.3,505.7 1511.5,507.7 1511.8,509.7 1512.1,511.7 1512.3,513.7 1512.6,515.7 1512.8,517.7 1513.0,519.7 1513.2,521.6 1513.3,523.6 1513.5,525.6 1513.6,527.6 1513.8,529.6 1513.9,531.6 1514.0,533.6 1514.1,535.6 1514.1,537.6 1514.2,539.6 1514.3,541.6 1514.3,543.6 1514.4,545.6 1514.4,547.6 1514.4,549.6 1514.5,551.6 1514.5,553.6 1514.5,555.6 1514.5,557.6 1514.5,559.6 1514.6,561.6 1514.6,563.5 1514.6,563.5 1514.6,561.6 1514.7,559.6 1514.7,557.6 1514.7,555.6 1514.7,553.6 1514.7,551.6 1514.8,549.6 1514.8,547.6 1514.8,545.6 1514.9,543.6 1514.9,541.6 1515.0,539.6 1515.1,537.6 1515.1,535.6 1515.2,533.6 1515.3,531.6 1515.4,529.6 1515.6,527.6 1515.7,525.6 1515.9,523.6 1516.0,521.6 1516.2,519.7 1516.4,517.7 1516.6,515.7 1516.9,513.7 1517.1,511.7 1517.4,509.7 1517.7,507.7 1517.9,505.7 1518.2,503.7 1518.5,501.7 1518.9,499.7 1519.2,497.7 1519.5,495.7 1519.9,493.7 1520.2,491.7 1520.5,489.7 1520.9,487.7 1521.2,485.7 1521.5,483.7 1521.8,481.7 1522.2,479.7 1522.5,477.8 1522.7,475.8 1523.0,473.8 1523.3,471.8 1523.5,469.8 1523.8,467.8 1524.0,465.8 1524.2,463.8 1524.4,461.8 1524.5,459.8 1524.7,457.8 1524.8,455.8 1524.9,453.8 1525.0,451.8 1525.1,449.8 1525.1,447.8 1525.1,445.8 1525.1,443.8 1525.1,441.8 1525.1,439.8 1525.0,437.8 1525.0,435.9 1524.9,433.9 1524.8,431.9 1524.6,429.9 1524.5,427.9 1524.3,425.9 1524.1,423.9 1523.9,421.9 1523.7,419.9 1523.5,417.9 1523.2,415.9 1523.0,413.9 1522.7,411.9 1522.4,409.9 1522.1,407.9 1521.9,405.9 1521.6,403.9 1521.3,401.9 1521.0,399.9 1520.7,397.9 1520.5,395.9 1520.2,394.0 1520.0,392.0 1519.7,390.0 1519.5,388.0 1519.2,386.0 1519.0,384.0 1518.8,382.0 1518.6,380.0 1518.4,378.0 1518.2,376.0 1518.0,374.0 1517.8,372.0 1517.6,370.0 1517.5,368.0 1517.3,366.0 1517.2,364.0 1517.0,362.0 1516.9,360.0 1516.7,358.0 1516.6,356.0 1516.5,354.0 1516.3,352.0 1516.2,350.1 1516.1,348.1 1516.0,346.1 1515.9,344.1 1515.8,342.1 1515.7,340.1 1515.6,338.1 1515.5,336.1 1515.4,334.1 1515.3,332.1 1515.2,330.1 1515.2,328.1 1515.1,326.1 1515.0,324.1 1515.0,322.1 1514.9,320.1 1514.9,318.1 1514.9,316.1 1514.8,314.1 1514.8,312.1 1514.8,310.1 1514.7,308.2 1514.7,306.2 1514.7,304.2 1514.7,302.2 1514.7,300.2 1514.7,298.2 1514.6,296.2 1514.6,294.2 1514.6,292.2 1514.6,290.2 1514.6,288.2 1514.6,286.2 1514.6,284.2" fill="#B5B500" stroke="#B9B92E" stroke-width="1" stroke-linejoin="round"/>
<polygon points="1557.8,277.5 1557.8,279.5 1557.8,281.5 1557.8,283.5 1557.8,285.5 1557.8,287.5 1557.8,289.5 1557.7,291.5 1557.7,293.5 1557.7,295.5 1557.7,297.5 1557.7,299.5 1557.7,301.5 1557.6,303.4 1557.6,305.4 1557.6,307.4 1557.5,309.4 1557.5,311.4 1557.5,313.4 1557.4,315.4 1557.4,317.4 1557.3,319.4 1557.2,321.4 1557.2,323.4 1557.1,325.4 1557.0,327.4 1556.9,329.4 1556.9,331.4 1556.8,333.4 1556.7,335.4 1556.6,337.4 1556.5,339.4 1556.4,341.4 1556.3,343.4 1556.2,345.4 1556.1,347.3 1556.0,349.3 1555.9,351.3 1555.8,353.3 1555.7,355.3 1555.6,357.3 1555.5,359.3 1555.4,361.3 1555.3,363.3 1555.3,365.3 1555.2,367.3 1555.1,369.3 1555.0,371.3 1555.0,373.3 1554.9,375.3 1554.9,377.3 1554.8,379.3 1554.7,381.3 1554.7,383.3 1554.6,385.3 1554.6,387.3 1554.5,389.3 1554.5,391.2 1554.4,393.2 1554.4,395.2 1554.3,397.2 1554.3,399.2 1554.2,401.2 1554.2,403.2 1554.1,405.2 1554.0,407.2 1554.0,409.2 1553.9,411.2 1553.8,413.2 1553.7,415.2 1553.6,417.2 1553.5,419.2 1553.4,421.2 1553.3,423.2 1553.2,425.2 1553.0,427.2 1552.9,429.2 1552.8,431.2 1552.6,433.2 1552.4,435.1 1552.3,437.1 1552.1,439.1 1551.9,441.1 1551.7,443.1 1551.5,445.1 1551.3,447.1 1551.0,449.1 1550.8,451.1 1550.6,453.1 1550.3,455.1 1550.1,457.1 1549.8,459.1 1549.6,461.1 1549.4,463.1 1549.1,465.1 1548.9,467.1 1548.7,469.1 1548.5,471.1 1548.3,473.1 1548.1,475.1 1547.9,477.1 1547.8,479.1 1547.7,481.0 1547.6,483.0 1547.6,485.0 1547.6,487.0 1547.6,489.0 1547.6,491.0 1547.7,493.0 1547.9,495.0 1548.0,497.0 1548.2,499.0 1548.5,501.0 1548.7,503.0 1549.0,505.0 1549.4,507.0 1549.7,509.0 1550.1,511.0 1550.5,513.0 1550.9,515.0 1551.3,517.0 1551.7,519.0 1552.1,521.0 1552.5,523.0 1552.9,524.9 1553.3,526.9 1553.7,528.9 1554.1,530.9 1554.4,532.9 1554.7,534.9 1555.1,536.9 1555.4,538.9 1555.6,540.9 1555.9,542.9 1556.1,544.9 1556.3,546.9 1556.5,548.9 1556.7,550.9 1556.8,552.9 1557.0,554.9 1557.1,556.9 1557.2,558.9 1557.3,560.9 1557.4,562.9 1557.5,564.9 1557.5,566.9 1557.6,568.8 1557.6,570.8 1557.6,572.8 1557.7,574.8 1557.7,576.8 1557.7,578.8 1557.7,580.8 1557.7,582.8 1557.8,584.8 1557.8,584.8 1557.9,582.8 1557.9,580.8 1557.9,578.8 1557.9,576.8 1557.9,574.8 1558.0,572.8 1558.0,570.8 1558.0,568.8 1558.1,566.9 1558.1,564.9 1558.2,562.9 1558.3,560.9 1558.4,558.9 1558.5,556.9 1558.6,554.9 1558.8,552.9 1558.9,550.9 1559.1,548.9 1559.3,546.9 1559.5,544.9 1559.7,542.9 1560.0,540.9 1560.2,538.9 1560.5,536.9 1560.9,534.9 1561.2,532.9 1561.5,530.9 1561.9,528.9 1562.3,526.9 1562.7,524.9 1563.1,523.0 1563.5,521.0 1563.9,519.0 1564.3,517.0 1564.7,515.0 1565.1,513.0 1565.5,511.0 1565.9,509.0 1566.2,507.0 1566.6,505.0 1566.9,503.0 1567.1,501.0 1567.4,499.0 1567.6,497.0 1567.7,495.0 1567.9,493.0 1568.0,491.0 1568.0,489.0 1568.0,487.0 1568.0,485.0 1568.0,483.0 1567.9,481.0 1567.8,479.1 1567.7,477.1 1567.5,475.1 1567.3,473.1 1567.1,471.1 1566.9,469.1 1566.7,467.1 1566.5,465.1 1566.2,463.1 1566.0,461.1 1565.8,459.1 1565.5,457.1 1565.3,455.1 1565.0,453.1 1564.8,451.1 1564.6,449.1 1564.3,447.1 1564.1,445.1 1563.9,443.1 1563.7,441.1 1563.5,439.1 1563.3,437.1 1563.2,435.1 1563.0,433.2 1562.8,431.2 1562.7,429.2 1562.6,427.2 1562.4,425.2 1562.3,423.2 1562.2,421.2 1562.1,419.2 1562.0,417.2 1561.9,415.2 1561.8,413.2 1561.7,411.2 1561.6,409.2 1561.6,407.2 1561.5,405.2 1561.4,403.2 1561.4,401.2 1561.3,399.2 1561.3,397.2 1561.2,395.2 1561.2,393.2 1561.1,391.2 1561.1,389.3 1561.0,387.3 1561.0,385.3 1560.9,383.3 1560.9,381.3 1560.8,379.3 1560.7,377.3 1560.7,375.3 1560.6,373.3 1560.6,371.3 1560.5,369.3 1560.4,367.3 1560.3,365.3 1560.3,363.3 1560.2,361.3 1560.1,359.3 1560.0,357.3 1559.9,355.3 1559.8,353.3 1559.7,351.3 1559.6,349.3 1559.5,347.3 1559.4,345.4 1559.3,343.4 1559.2,341.4 1559.1,339.4 1559.0,337.4 1558.9,335.4 1558.8,333.4 1558.7,331.4 1558.7,329.4 1558.6,327.4 1558.5,325.4 1558.4,323.4 1558.4,321.4 1558.3,319.4 1558.2,317.4 1558.2,315.4 1558.1,313.4 1558.1,311.4 1558.1,309.4 1558.0,307.4 1558.0,305.4 1558.0,303.4 1557.9,301.5 1557.9,299.5 1557.9,297.5 1557.9,295.5 1557.9,293.5 1557.9,291.5 1557.8,289.5 1557.8,287.5 1557.8,285.5 1557.8,283.5 1557.8,281.5 1557.8,279.5 1557.8,277.5" fill="#9A9A00" stroke="#A8A82A" stroke-width="1" stroke-linejoin="round"/>
<polygon points="1584.4,223.3 1584.4,225.3 1584.4,227.3 1584.4,229.3 1584.4,231.3 1584.4,233.4 1584.4,235.4 1584.4,237.4 1584.3,239.4 1584.3,241.4 1584.3,243.4 1584.3,245.4 1584.3,247.4 1584.3,249.4 1584.2,251.4 1584.2,253.4 1584.2,255.4 1584.2,257.4 1584.1,259.4 1584.1,261.4 1584.1,263.4 1584.0,265.4 1584.0,267.4 1583.9,269.4 1583.9,271.4 1583.8,273.4 1583.8,275.4 1583.7,277.4 1583.6,279.4 1583.6,281.4 1583.5,283.4 1583.4,285.4 1583.4,287.4 1583.3,289.4 1583.3,291.4 1583.2,293.4 1583.1,295.4 1583.1,297.4 1583.0,299.4 1583.0,301.4 1582.9,303.4 1582.9,305.4 1582.9,307.4 1582.8,309.5 1582.8,311.5 1582.8,313.5 1582.7,315.5 1582.7,317.5 1582.7,319.5 1582.7,321.5 1582.7,323.5 1582.7,325.5 1582.7,327.5 1582.7,329.5 1582.7,331.5 1582.8,333.5 1582.8,335.5 1582.8,337.5 1582.8,339.5 1582.8,341.5 1582.8,343.5 1582.9,345.5 1582.9,347.5 1582.9,349.5 1582.9,351.5 1582.8,353.5 1582.8,355.5 1582.8,357.5 1582.7,359.5 1582.7,361.5 1582.6,363.5 1582.5,365.5 1582.4,367.5 1582.3,369.5 1582.2,371.5 1582.0,373.5 1581.9,375.5 1581.7,377.5 1581.5,379.5 1581.3,381.5 1581.1,383.5 1580.8,385.5 1580.6,387.6 1580.3,389.6 1580.1,391.6 1579.8,393.6 1579.5,395.6 1579.2,397.6 1579.0,399.6 1578.7,401.6 1578.4,403.6 1578.1,405.6 1577.9,407.6 1577.6,409.6 1577.4,411.6 1577.1,413.6 1576.9,415.6 1576.7,417.6 1576.5,419.6 1576.4,421.6 1576.2,423.6 1576.1,425.6 1576.0,427.6 1575.9,429.6 1575.8,431.6 1575.7,433.6 1575.7,435.6 1575.6,437.6 1575.6,439.6 1575.6,441.6 1575.7,443.6 1575.7,445.6 1575.7,447.6 1575.8,449.6 1575.9,451.6 1576.0,453.6 1576.1,455.6 1576.2,457.6 1576.3,459.6 1576.4,461.6 1576.5,463.7 1576.6,465.7 1576.8,467.7 1576.9,469.7 1577.0,471.7 1577.2,473.7 1577.3,475.7 1577.4,477.7 1577.6,479.7 1577.7,481.7 1577.9,483.7 1578.1,485.7 1578.2,487.7 1578.4,489.7 1578.5,491.7 1578.7,493.7 1578.9,495.7 1579.1,497.7 1579.3,499.7 1579.5,501.7 1579.6,503.7 1579.8,505.7 1580.0,507.7 1580.2,509.7 1580.5,511.7 1580.7,513.7 1580.9,515.7 1581.1,517.7 1581.3,519.7 1581.5,521.7 1581.7,523.7 1581.9,525.7 1582.1,527.7 1582.3,529.7 1582.4,531.7 1582.6,533.7 1582.8,535.7 1582.9,537.7 1583.1,539.8 1583.2,541.8 1583.3,543.8 1583.5,545.8 1583.6,547.8 1583.7,549.8 1583.8,551.8 1583.8,553.8 1583.9,555.8 1584.0,557.8 1584.0,559.8 1584.1,561.8 1584.1,563.8 1584.2,565.8 1584.2,567.8 1584.2,569.8 1584.3,571.8 1584.3,573.8 1584.3,575.8 1584.3,577.8 1584.3,579.8 1584.4,581.8 1584.4,583.8 1584.4,585.8 1584.4,587.8 1584.4,587.8 1584.4,585.8 1584.4,583.8 1584.4,581.8 1584.5,579.8 1584.5,577.8 1584.5,575.8 1584.5,573.8 1584.5,571.8 1584.6,569.8 1584.6,567.8 1584.6,565.8 1584.7,563.8 1584.7,561.8 1584.8,559.8 1584.8,557.8 1584.9,555.8 1585.0,553.8 1585.0,551.8 1585.1,549.8 1585.2,547.8 1585.3,545.8 1585.5,543.8 1585.6,541.8 1585.7,539.8 1585.9,537.7 1586.0,535.7 1586.2,533.7 1586.4,531.7 1586.5,529.7 1586.7,527.7 1586.9,525.7 1587.1,523.7 1587.3,521.7 1587.5,519.7 1587.7,517.7 1587.9,515.7 1588.1,513.7 1588.3,511.7 1588.6,509.7 1588.8,507.7 1589.0,505.7 1589.2,503.7 1589.3,501.7 1589.5,499.7 1589.7,497.7 1589.9,495.7 1590.1,493.7 1590.3,491.7 1590.4,489.7 1590.6,487.7 1590.7,485.7 1590.9,483.7 1591.1,481.7 1591.2,479.7 1591.4,477.7 1591.5,475.7 1591.6,473.7 1591.8,471.7 1591.9,469.7 1592.0,467.7 1592.2,465.7 1592.3,463.7 1592.4,461.6 1592.5,459.6 1592.6,457.6 1592.7,455.6 1592.8,453.6 1592.9,451.6 1593.0,449.6 1593.1,447.6 1593.1,445.6 1593.1,443.6 1593.2,441.6 1593.2,439.6 1593.2,437.6 1593.1,435.6 1593.1,433.6 1593.0,431.6 1592.9,429.6 1592.8,427.6 1592.7,425.6 1592.6,423.6 1592.4,421.6 1592.3,419.6 1592.1,417.6 1591.9,415.6 1591.7,413.6 1591.4,411.6 1591.2,409.6 1590.9,407.6 1590.7,405.6 1590.4,403.6 1590.1,401.6 1589.8,399.6 1589.6,397.6 1589.3,395.6 1589.0,393.6 1588.7,391.6 1588.5,389.6 1588.2,387.6 1588.0,385.5 1587.7,383.5 1587.5,381.5 1587.3,379.5 1587.1,377.5 1586.9,375.5 1586.8,373.5 1586.6,371.5 1586.5,369.5 1586.4,367.5 1586.3,365.5 1586.2,363.5 1586.1,361.5 1586.1,359.5 1586.0,357.5 1586.0,355.5 1586.0,353.5 1585.9,351.5 1585.9,349.5 1585.9,347.5 1585.9,345.5 1586.0,343.5 1586.0,341.5 1586.0,339.5 1586.0,337.5 1586.0,335.5 1586.0,333.5 1586.1,331.5 1586.1,329.5 1586.1,327.5 1586.1,325.5 1586.1,323.5 1586.1,321.5 1586.1,319.5 1586.1,317.5 1586.1,315.5 1586.0,313.5 1586.0,311.5 1586.0,309.5 1585.9,307.4 1585.9,305.4 1585.9,303.4 1585.8,301.4 1585.8,299.4 1585.7,297.4 1585.7,295.4 1585.6,293.4 1585.5,291.4 1585.5,289.4 1585.4,287.4 1585.4,285.4 1585.3,283.4 1585.2,281.4 1585.2,279.4 1585.1,277.4 1585.0,275.4 1585.0,273.4 1584.9,271.4 1584.9,269.4 1584.8,267.4 1584.8,265.4 1584.7,263.4 1584.7,261.4 1584.7,259.4 1584.6,257.4 1584.6,255.4 1584.6,253.4 1584.6,251.4 1584.5,249.4 1584.5,247.4 1584.5,245.4 1584.5,243.4 1584.5,241.4 1584.5,239.4 1584.4,237.4 1584.4,235.4 1584.4,233.4 1584.4,231.3 1584.4,229.3 1584.4,227.3 1584.4,225.3 1584.4,223.3" fill="#9A9A00" stroke="#A8A82A" stroke-width="1" stroke-linejoin="round"/>
<polygon points="1611.4,254.6 1611.4,256.6 1611.4,258.6 1611.4,260.6 1611.4,262.6 1611.4,264.6 1611.3,266.6 1611.3,268.6 1611.3,270.6 1611.3,272.6 1611.3,274.6 1611.2,276.6 1611.2,278.6 1611.2,280.6 1611.1,282.6 1611.1,284.6 1611.1,286.6 1611.0,288.6 1610.9,290.6 1610.9,292.6 1610.8,294.6 1610.7,296.6 1610.6,298.6 1610.5,300.6 1610.4,302.6 1610.3,304.6 1610.2,306.6 1610.1,308.6 1610.0,310.6 1609.8,312.6 1609.7,314.6 1609.5,316.6 1609.4,318.6 1609.2,320.6 1609.1,322.6 1608.9,324.6 1608.8,326.6 1608.6,328.6 1608.5,330.6 1608.3,332.6 1608.1,334.6 1608.0,336.6 1607.8,338.6 1607.7,340.6 1607.5,342.5 1607.4,344.5 1607.2,346.5 1607.1,348.5 1606.9,350.5 1606.8,352.5 1606.7,354.5 1606.5,356.5 1606.4,358.5 1606.2,360.5 1606.1,362.5 1606.0,364.5 1605.9,366.5 1605.7,368.5 1605.6,370.5 1605.5,372.5 1605.4,374.5 1605.3,376.5 1605.1,378.5 1605.0,380.5 1605.0,382.5 1604.9,384.5 1604.8,386.5 1604.7,388.5 1604.6,390.5 1604.6,392.5 1604.5,394.5 1604.4,396.5 1604.4,398.5 1604.3,400.5 1604.3,402.5 1604.3,404.5 1604.2,406.5 1604.2,408.5 1604.2,410.5 1604.2,412.5 1604.1,414.5 1604.1,416.5 1604.1,418.5 1604.1,420.5 1604.1,422.5 1604.0,424.5 1604.0,426.5 1604.0,428.5 1604.0,430.5 1604.0,432.5 1604.1,434.5 1604.1,436.5 1604.1,438.5 1604.1,440.5 1604.2,442.5 1604.2,444.5 1604.3,446.5 1604.4,448.5 1604.4,450.5 1604.5,452.5 1604.6,454.4 1604.7,456.4 1604.8,458.4 1605.0,460.4 1605.1,462.4 1605.2,464.4 1605.3,466.4 1605.5,468.4 1605.6,470.4 1605.8,472.4 1605.9,474.4 1606.1,476.4 1606.2,478.4 1606.4,480.4 1606.5,482.4 1606.7,484.4 1606.8,486.4 1607.0,488.4 1607.2,490.4 1607.3,492.4 1607.5,494.4 1607.7,496.4 1607.8,498.4 1608.0,500.4 1608.2,502.4 1608.4,504.4 1608.5,506.4 1608.7,508.4 1608.9,510.4 1609.0,512.4 1609.2,514.4 1609.4,516.4 1609.5,518.4 1609.7,520.4 1609.8,522.4 1610.0,524.4 1610.1,526.4 1610.2,528.4 1610.3,530.4 1610.4,532.4 1610.5,534.4 1610.6,536.4 1610.7,538.4 1610.8,540.4 1610.9,542.4 1611.0,544.4 1611.0,546.4 1611.1,548.4 1611.1,550.4 1611.2,552.4 1611.2,554.4 1611.2,556.4 1611.3,558.4 1611.3,560.4 1611.3,562.4 1611.3,564.4 1611.3,566.3 1611.3,568.3 1611.4,570.3 1611.4,572.3 1611.4,574.3 1611.4,576.3 1611.4,578.3 1611.4,578.3 1611.4,576.3 1611.4,574.3 1611.4,572.3 1611.4,570.3 1611.5,568.3 1611.5,566.3 1611.5,564.4 1611.5,562.4 1611.5,560.4 1611.5,558.4 1611.6,556.4 1611.6,554.4 1611.6,552.4 1611.7,550.4 1611.7,548.4 1611.8,546.4 1611.8,544.4 1611.9,542.4 1612.0,540.4 1612.1,538.4 1612.2,536.4 1612.3,534.4 1612.4,532.4 1612.5,530.4 1612.6,528.4 1612.7,526.4 1612.8,524.4 1613.0,522.4 1613.1,520.4 1613.3,518.4 1613.4,516.4 1613.6,514.4 1613.8,512.4 1613.9,510.4 1614.1,508.4 1614.3,506.4 1614.4,504.4 1614.6,502.4 1614.8,500.4 1615.0,498.4 1615.1,496.4 1615.3,494.4 1615.5,492.4 1615.6,490.4 1615.8,488.4 1616.0,486.4 1616.1,484.4 1616.3,482.4 1616.4,480.4 1616.6,478.4 1616.7,476.4 1616.9,474.4 1617.0,472.4 1617.2,470.4 1617.3,468.4 1617.5,466.4 1617.6,464.4 1617.7,462.4 1617.8,460.4 1618.0,458.4 1618.1,456.4 1618.2,454.4 1618.3,452.5 1618.4,450.5 1618.4,448.5 1618.5,446.5 1618.6,444.5 1618.6,442.5 1618.7,440.5 1618.7,438.5 1618.7,436.5 1618.7,434.5 1618.8,432.5 1618.8,430.5 1618.8,428.5 1618.8,426.5 1618.8,424.5 1618.7,422.5 1618.7,420.5 1618.7,418.5 1618.7,416.5 1618.7,414.5 1618.6,412.5 1618.6,410.5 1618.6,408.5 1618.6,406.5 1618.5,404.5 1618.5,402.5 1618.5,400.5 1618.4,398.5 1618.4,396.5 1618.3,394.5 1618.2,392.5 1618.2,390.5 1618.1,388.5 1618.0,386.5 1617.9,384.5 1617.8,382.5 1617.8,380.5 1617.7,378.5 1617.5,376.5 1617.4,374.5 1617.3,372.5 1617.2,370.5 1617.1,368.5 1616.9,366.5 1616.8,364.5 1616.7,362.5 1616.6,360.5 1616.4,358.5 1616.3,356.5 1616.1,354.5 1616.0,352.5 1615.9,350.5 1615.7,348.5 1615.6,346.5 1615.4,344.5 1615.3,342.5 1615.1,340.6 1615.0,338.6 1614.8,336.6 1614.7,334.6 1614.5,332.6 1614.3,330.6 1614.2,328.6 1614.0,326.6 1613.9,324.6 1613.7,322.6 1613.6,320.6 1613.4,318.6 1613.3,316.6 1613.1,314.6 1613.0,312.6 1612.8,310.6 1612.7,308.6 1612.6,306.6 1612.5,304.6 1612.4,302.6 1612.3,300.6 1612.2,298.6 1612.1,296.6 1612.0,294.6 1611.9,292.6 1611.9,290.6 1611.8,288.6 1611.7,286.6 1611.7,284.6 1611.7,282.6 1611.6,280.6 1611.6,278.6 1611.6,276.6 1611.5,274.6 1611.5,272.6 1611.5,270.6 1611.5,268.6 1611.5,266.6 1611.4,264.6 1611.4,262.6 1611.4,260.6 1611.4,258.6 1611.4,256.6 1611.4,254.6" fill="#9A9A00" stroke="#A8A82A" stroke-width="1" stroke-linejoin="round"/>
<path d="M971.7 342.29h5M971.7 358.24h5M971.7 382.51h5M971.7 415.55h5M971.7 425.26h5M971.7 424.98h5M971.7 425.53h5M971.7 435.2h5M971.7 461.31h5M971.7 469.17h5M971.7 472.65h5M971.7 472.1h5M971.7 473.2h5M971.7 506.16h5M971.7 513.55h5M971.7 521.18h5M971.7 523.49h5M971.7 561.86h5M997.6 309.85h5M997.6 324.27h5M997.6 350.84h5M997.6 374.65h5M997.6 394.75h5M997.6 400.76h5M997.6 403.3h5M997.6 424.1h5M997.6 428.26h5M997.6 434.5h5M997.6 443.29h5M997.6 462.7h5M997.6 462.42h5M997.6 462.97h5M997.6 479.35h5M997.6 492.75h5M997.6 504.77h5M997.6 508.93h5M997.6 561.86h5M1023.5 236.82h5M1023.5 286.27h5M1023.5 292.28h5M1023.5 366.56h5M1023.5 393.37h5M1023.5 393.09h5M1023.5 393.64h5M1023.5 411.62h5M1023.5 413.94h5M1023.5 425.26h5M1023.5 430.81h5M1023.5 430.53h5M1023.5 431.08h5M1023.5 435.43h5M1023.5 439.59h5M1023.5 441.9h5M1023.5 474.27h5M1023.5 503.39h5M1023.5 561.86h5M1069.2 383.43h5M1069.2 422.26h5M1069.2 426.42h5M1069.2 431.27h5M1069.2 445.14h5M1069.2 451.84h5M1069.2 454.38h5M1069.2 456h5M1069.2 457.61h5M1069.2 466.4h5M1069.2 472.65h5M1069.2 483.97h5M1069.2 497.84h5M1069.2 499.46h5M1069.2 506.39h5M1069.2 510.32h5M1069.2 515.4h5M1069.2 561.86h5M1095.8 351.77h5M1095.8 359.39h5M1095.8 378.58h5M1095.8 390.36h5M1095.8 402.15h5M1095.8 410.47h5M1095.8 413.24h5M1095.8 416.25h5M1095.8 427.11h5M1095.8 451.61h5M1095.8 454.84h5M1095.8 454.57h5M1095.8 455.12h5M1095.8 458.31h5M1095.8 458.03h5M1095.8 458.58h5M1095.8 477.73h5M1095.8 483.28h5M1095.8 510.55h5M1095.8 544.06h5M1122.4 284.42h5M1122.4 293.9h5M1122.4 313.54h5M1122.4 321.4h5M1122.4 371.41h5M1122.4 393.6h5M1122.4 407h5M1122.4 421.1h5M1122.4 422.72h5M1122.4 422.44h5M1122.4 422.99h5M1122.4 424.34h5M1122.4 435.2h5M1122.4 445.14h5M1122.4 453.69h5M1122.4 459.46h5M1122.4 462.93h5M1122.4 483.74h5M1165.8 373.49h5M1165.8 397.76h5M1165.8 412.55h5M1165.8 419.94h5M1165.8 430.81h5M1165.8 437.05h5M1165.8 448.37h5M1165.8 465.01h5M1165.8 468.71h5M1165.8 472.65h5M1165.8 474.96h5M1165.8 474.68h5M1165.8 475.23h5M1165.8 480.97h5M1165.8 483.51h5M1165.8 494.37h5M1165.8 502.92h5M1165.8 516.1h5M1165.8 549.84h5M1192.6 370.49h5M1192.6 370.21h5M1192.6 370.76h5M1192.6 380.66h5M1192.6 391.06h5M1192.6 414.63h5M1192.6 414.35h5M1192.6 414.9h5M1192.6 422.95h5M1192.6 422.67h5M1192.6 423.22h5M1192.6 442.13h5M1192.6 452.53h5M1192.6 462.24h5M1192.6 461.96h5M1192.6 462.51h5M1192.6 477.04h5M1192.6 490.44h5M1192.6 500.38h5M1219.4 316.09h5M1219.4 330.04h5M1219.4 334.43h5M1219.4 339.29h5M1219.4 361.47h5M1219.4 367.25h5M1219.4 383.2h5M1219.4 393.37h5M1219.4 425.03h5M1219.4 427.34h5M1219.4 429.88h5M1219.4 432.19h5M1219.4 434.74h5M1219.4 437.97h5M1219.4 450.68h5M1219.4 455.3h5M1219.4 459.69h5M1219.4 482.59h5M1262.9 362.86h5M1262.9 390.36h5M1262.9 394.29h5M1262.9 423.18h5M1262.9 422.91h5M1262.9 423.46h5M1262.9 429.42h5M1262.9 436.58h5M1262.9 436.31h5M1262.9 436.86h5M1262.9 447.22h5M1262.9 446.94h5M1262.9 447.49h5M1262.9 451.84h5M1262.9 463.39h5M1262.9 469.17h5M1262.9 471.26h5M1262.9 484.67h5M1262.9 493.45h5M1262.9 502.23h5M1262.9 522.34h5M1289.5 336.98h5M1289.5 378.11h5M1289.5 377.84h5M1289.5 378.39h5M1289.5 389.21h5M1289.5 404.46h5M1289.5 407.93h5M1289.5 418.33h5M1289.5 418.05h5M1289.5 418.6h5M1289.5 425.95h5M1289.5 435.89h5M1289.5 443.29h5M1289.5 445.14h5M1289.5 457.15h5M1289.5 466.4h5M1289.5 472.65h5M1289.5 476.12h5M1289.5 475.84h5M1289.5 476.39h5M1289.5 481.89h5M1316.3 292.98h5M1316.3 311.46h5M1316.3 316.32h5M1316.3 322.33h5M1316.3 364.71h5M1316.3 375.57h5M1316.3 383.66h5M1316.3 386.67h5M1316.3 389.9h5M1316.3 405.15h5M1316.3 446.52h5M1316.3 450.22h5M1316.3 451.84h5M1316.3 457.15h5M1316.3 462.24h5M1316.3 475.42h5M1316.3 481.66h5M1316.3 505.47h5M1359.8 393.37h5M1359.8 400.99h5M1359.8 415.32h5M1359.8 415.05h5M1359.8 415.6h5M1359.8 432.19h5M1359.8 433.12h5M1359.8 434.04h5M1359.8 444.44h5M1359.8 460.16h5M1359.8 483.97h5M1359.8 488.36h5M1359.8 491.6h5M1359.8 492.99h5M1359.8 502h5M1359.8 504.31h5M1359.8 506.62h5M1359.8 510.32h5M1359.8 517.48h5M1386.6 291.13h5M1386.6 325.42h5M1386.6 377.19h5M1386.6 388.28h5M1386.6 423.41h5M1386.6 429.88h5M1386.6 438.2h5M1386.6 443.75h5M1386.6 447.91h5M1386.6 457.15h5M1386.6 456.88h5M1386.6 457.43h5M1386.6 463.39h5M1386.6 463.12h5M1386.6 463.67h5M1386.6 470.33h5M1386.6 470.05h5M1386.6 470.6h5M1386.6 491.14h5M1386.6 490.86h5M1386.6 491.41h5M1386.6 525.34h5M1413.1 290.43h5M1413.1 304.3h5M1413.1 334.67h5M1413.1 338.13h5M1413.1 343.45h5M1413.1 361.47h5M1413.1 380.43h5M1413.1 380.15h5M1413.1 380.7h5M1413.1 384.59h5M1413.1 400.53h5M1413.1 410.7h5M1413.1 422.95h5M1413.1 422.67h5M1413.1 423.22h5M1413.1 427.11h5M1413.1 444.67h5M1413.1 459h5M1413.1 474.5h5M1413.1 499.23h5M1458.4 388.98h5M1458.4 395.91h5M1458.4 397.53h5M1458.4 404.46h5M1458.4 446.75h5M1458.4 461.54h5M1458.4 464.32h5M1458.4 465.93h5M1458.4 469.86h5M1458.4 472.88h5M1458.4 476.81h5M1458.4 482.12h5M1458.4 490.44h5M1458.4 493.68h5M1458.4 504.31h5M1458.4 508.93h5M1458.4 524.19h5M1458.4 523.91h5M1458.4 524.46h5M1458.4 529.27h5M1485.2 356.62h5M1485.2 387.36h5M1485.2 400.99h5M1485.2 400.72h5M1485.2 401.27h5M1485.2 425.49h5M1485.2 429.42h5M1485.2 434.27h5M1485.2 446.29h5M1485.2 452.07h5M1485.2 457.61h5M1485.2 468.25h5M1485.2 467.97h5M1485.2 468.52h5M1485.2 474.04h5M1485.2 479.58h5M1485.2 480.97h5M1485.2 485.82h5M1485.2 512.63h5M1485.2 517.02h5M1512.1 364.71h5M1512.1 378.58h5M1512.1 407.46h5M1512.1 416.25h5M1512.1 418.33h5M1512.1 420.41h5M1512.1 422.49h5M1512.1 433.58h5M1512.1 437.28h5M1512.1 447.45h5M1512.1 450.45h5M1512.1 450.18h5M1512.1 450.73h5M1512.1 457.61h5M1512.1 462.93h5M1512.1 478.89h5M1512.1 478.61h5M1512.1 479.16h5M1512.1 483.05h5M1512.1 482.77h5M1512.1 483.32h5M1555.3 358.01h5M1555.3 371.41h5M1555.3 401.22h5M1555.3 407.93h5M1555.3 437.74h5M1555.3 440.28h5M1555.3 456.69h5M1555.3 462.47h5M1555.3 471.72h5M1555.3 483.51h5M1555.3 483.24h5M1555.3 483.79h5M1555.3 494.6h5M1555.3 494.05h5M1555.3 495.15h5M1555.3 500.38h5M1555.3 499.83h5M1555.3 500.93h5M1555.3 504.31h5M1581.9 303.84h5M1581.9 336.98h5M1581.9 399.38h5M1581.9 403.3h5M1581.9 417.86h5M1581.9 424.1h5M1581.9 423.83h5M1581.9 424.38h5M1581.9 435.43h5M1581.9 438.66h5M1581.9 443.75h5M1581.9 455.07h5M1581.9 461.54h5M1581.9 472.19h5M1581.9 477.96h5M1581.9 493.22h5M1581.9 507.31h5M1581.9 507.04h5M1581.9 507.59h5M1608.9 335.13h5M1608.9 341.6h5M1608.9 355.47h5M1608.9 379.96h5M1608.9 379.69h5M1608.9 380.24h5M1608.9 389.44h5M1608.9 397.76h5M1608.9 400.53h5M1608.9 412.78h5M1608.9 429.19h5M1608.9 437.51h5M1608.9 443.98h5M1608.9 443.7h5M1608.9 444.25h5M1608.9 451.84h5M1608.9 460.39h5M1608.9 480.28h5M1608.9 494.6h5M1608.9 497.84h5" stroke="#141414" stroke-width="1.1" fill="none"/>
<path d="M961.15 457.38h26.1M987.05 431.27h26.1M1012.95 407.23h26.1M1058.65 468.95h26.1M1085.25 435.89h26.1M1111.85 400.99h26.1M1155.25 460.85h26.1M1182.05 431.04h26.1M1208.85 403.07h26.1M1252.35 447.22h26.1M1278.95 428.5h26.1M1305.75 404.46h26.1M1349.25 462.7h26.1M1376.05 436.12h26.1M1402.55 393.37h26.1M1447.85 472.42h26.1M1474.65 448.83h26.1M1501.55 438.2h26.1M1544.75 459.23h26.1M1571.35 434.5h26.1M1598.35 418.56h26.1" stroke="#000" stroke-width="1.9" stroke-linecap="round" fill="none"/>
<rect x="940.9" y="51.3" width="703.8" height="609.1" fill="none" stroke="#262626" stroke-width="1.25"/>
<path d="M974.9 660.4v10.4M1000.4 660.4v10.4M1025.9 660.4v10.4M1072.35 660.4v10.4M1097.85 660.4v10.4M1123.35 660.4v10.4M1169.8 660.4v10.4M1195.3 660.4v10.4M1220.8 660.4v10.4M1267.25 660.4v10.4M1292.75 660.4v10.4M1318.25 660.4v10.4M1364.7 660.4v10.4M1390.2 660.4v10.4M1415.7 660.4v10.4M1462.15 660.4v10.4M1487.65 660.4v10.4M1513.15 660.4v10.4M1559.6 660.4v10.4M1585.1 660.4v10.4M1610.6 660.4v10.4M940.9 197.3h-10.6M940.9 320.5h-10.6M940.9 443.7h-10.6M940.9 566.9h-10.6" stroke="#303030" stroke-width="1.15" fill="none"/>
<text transform="translate(974.2 693.4) scale(1 1.04)" font-size="14.35" text-anchor="middle" class="s">0</text>
<text transform="translate(999.7 693.4) scale(1 1.04)" font-size="14.35" text-anchor="middle" class="s">15</text>
<text transform="translate(1025.2 693.4) scale(1 1.04)" font-size="14.35" text-anchor="middle" class="s">30</text>
<text transform="translate(1071.65 693.4) scale(1 1.04)" font-size="14.35" text-anchor="middle" class="s">0</text>
<text transform="translate(1097.15 693.4) scale(1 1.04)" font-size="14.35" text-anchor="middle" class="s">15</text>
<text transform="translate(1122.65 693.4) scale(1 1.04)" font-size="14.35" text-anchor="middle" class="s">30</text>
<text transform="translate(1169.1 693.4) scale(1 1.04)" font-size="14.35" text-anchor="middle" class="s">0</text>
<text transform="translate(1194.6 693.4) scale(1 1.04)" font-size="14.35" text-anchor="middle" class="s">15</text>
<text transform="translate(1220.1 693.4) scale(1 1.04)" font-size="14.35" text-anchor="middle" class="s">30</text>
<text transform="translate(1266.55 693.4) scale(1 1.04)" font-size="14.35" text-anchor="middle" class="s">0</text>
<text transform="translate(1292.05 693.4) scale(1 1.04)" font-size="14.35" text-anchor="middle" class="s">15</text>
<text transform="translate(1317.55 693.4) scale(1 1.04)" font-size="14.35" text-anchor="middle" class="s">30</text>
<text transform="translate(1364 693.4) scale(1 1.04)" font-size="14.35" text-anchor="middle" class="s">0</text>
<text transform="translate(1389.5 693.4) scale(1 1.04)" font-size="14.35" text-anchor="middle" class="s">15</text>
<text transform="translate(1415 693.4) scale(1 1.04)" font-size="14.35" text-anchor="middle" class="s">30</text>
<text transform="translate(1461.45 693.4) scale(1 1.04)" font-size="14.35" text-anchor="middle" class="s">0</text>
<text transform="translate(1486.95 693.4) scale(1 1.04)" font-size="14.35" text-anchor="middle" class="s">15</text>
<text transform="translate(1512.45 693.4) scale(1 1.04)" font-size="14.35" text-anchor="middle" class="s">30</text>
<text transform="translate(1558.9 693.4) scale(1 1.04)" font-size="14.35" text-anchor="middle" class="s">0</text>
<text transform="translate(1584.4 693.4) scale(1 1.04)" font-size="14.35" text-anchor="middle" class="s">15</text>
<text transform="translate(1609.9 693.4) scale(1 1.04)" font-size="14.35" text-anchor="middle" class="s">30</text>
<text x="915" y="202.75" font-size="14.7" text-anchor="middle" class="s">30</text>
<text x="915" y="325.95" font-size="14.7" text-anchor="middle" class="s">20</text>
<text x="915" y="449.15" font-size="14.7" text-anchor="middle" class="s">10</text>
<text x="915" y="572.35" font-size="14.7" text-anchor="middle" class="s">0</text>
<text transform="translate(995.4 143.3) scale(1 1.04)" font-size="16.75" text-anchor="middle" class="s">Monday</text>
<text transform="translate(1097.8 143.3) scale(1 1.04)" font-size="16.75" text-anchor="middle" class="s">Tuesday</text>
<text transform="translate(1195.35 143.3) scale(1 1.04)" font-size="16.75" text-anchor="middle" class="s">Wednesday</text>
<text transform="translate(1292.75 143.3) scale(1 1.04)" font-size="16.75" text-anchor="middle" class="s">Thursday</text>
<text transform="translate(1390.3 143.3) scale(1 1.04)" font-size="16.75" text-anchor="middle" class="s">Friday</text>
<text transform="translate(1489.45 143.3) scale(1 1.04)" font-size="16.75" text-anchor="middle" class="s">Saturday</text>
<text transform="translate(1590.85 143.3) scale(1 1.04)" font-size="16.75" text-anchor="middle" class="s">Sunday</text>
<text transform="translate(1294 100.6) scale(1 1.02)" font-size="43" text-anchor="middle">Cortisone</text>
<text transform="translate(898.7 39.7) scale(1 1.04)" font-size="55">B</text>
<text transform="translate(1293.25 734.4) scale(1 1.03)" font-size="21.6" text-anchor="middle" class="s">Time after awakening (min)</text>
<text transform="translate(882.8 398.6) rotate(-90) scale(1 1.03)" font-size="19.5" text-anchor="middle" class="s">Concentration (ng/mL)</text>
</svg>
</body></html>
